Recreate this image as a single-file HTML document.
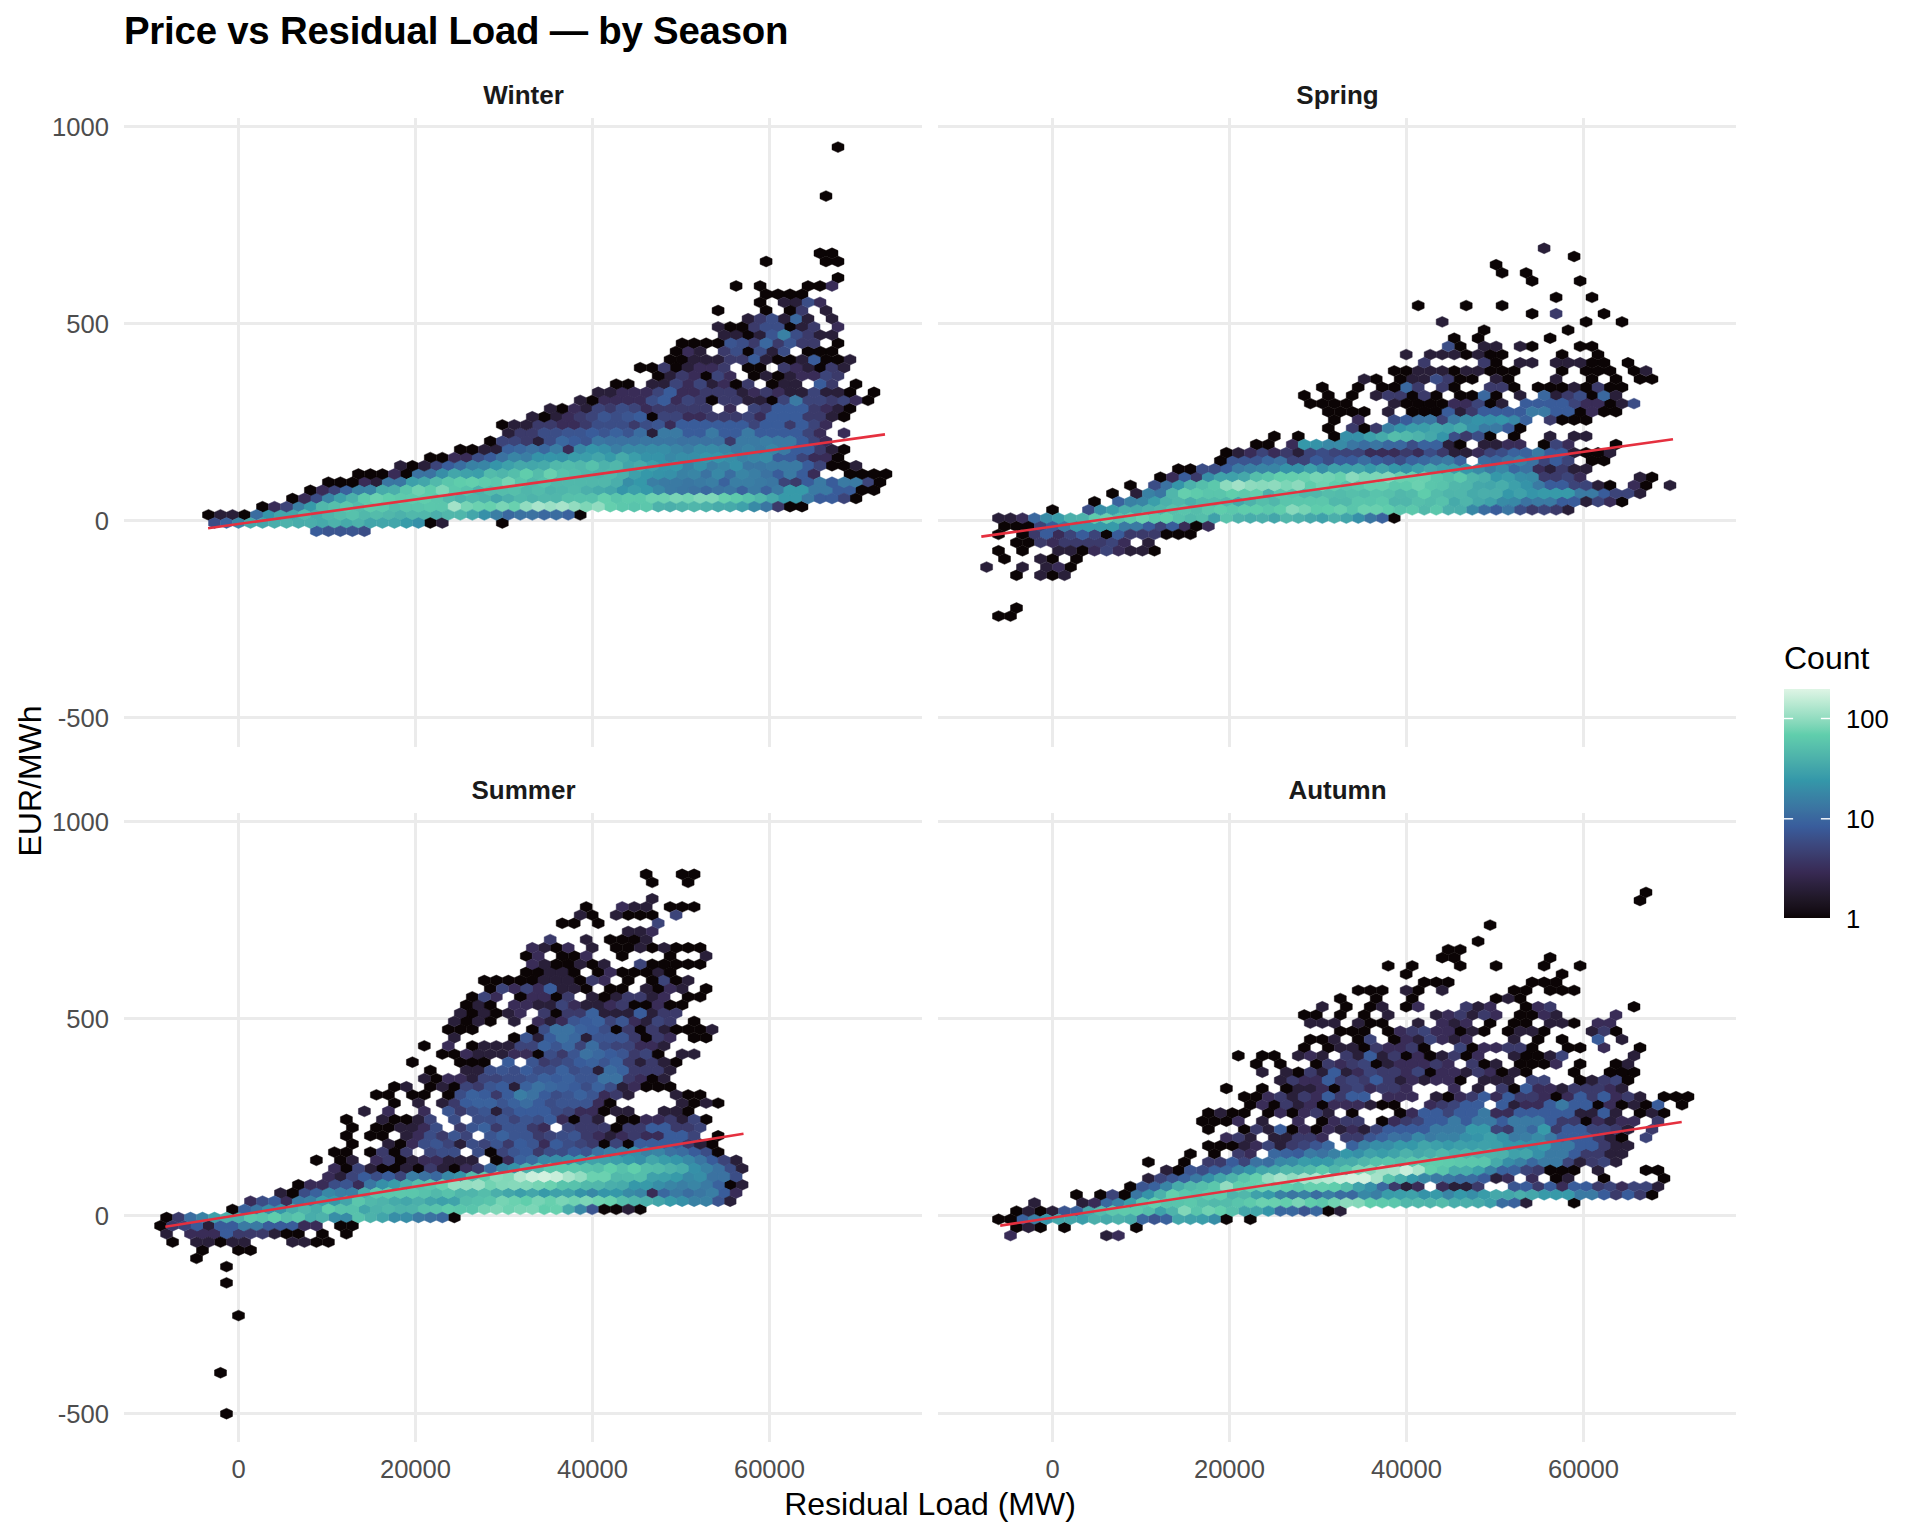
<!DOCTYPE html>
<html><head><meta charset="utf-8"><title>Price vs Residual Load</title>
<style>html,body{margin:0;padding:0;background:#fff}svg{display:block}text{font-family:"Liberation Sans",sans-serif}</style></head><body>
<svg width="1920" height="1536" viewBox="0 0 1920 1536">
<defs><path id="h" d="M0 -5.45L6.00 -2.72V2.72L0 5.45L-6.00 2.72V-2.72Z"/></defs><rect x="0" y="0" width="1920" height="1536" fill="#FFFFFF"/>
<text x="124" y="44" font-size="38.4" font-weight="bold" fill="#000000" textLength="664.5" lengthAdjust="spacing">Price vs Residual Load — by Season</text>
<g>
<rect x="124" y="125.0" width="798" height="3" fill="#EBEBEB"/>
<rect x="124" y="322.0" width="798" height="3" fill="#EBEBEB"/>
<rect x="124" y="519.0" width="798" height="3" fill="#EBEBEB"/>
<rect x="124" y="716.0" width="798" height="3" fill="#EBEBEB"/>
<rect x="237.0" y="118" width="3" height="629" fill="#EBEBEB"/>
<rect x="414.0" y="118" width="3" height="629" fill="#EBEBEB"/>
<rect x="591.0" y="118" width="3" height="629" fill="#EBEBEB"/>
<rect x="768.0" y="118" width="3" height="629" fill="#EBEBEB"/>
<text x="523.5" y="104" font-size="26" font-weight="bold" fill="#1A1A1A" text-anchor="middle">Winter</text>
<g stroke-linejoin="round"><g stroke-width="1.00"><g fill="#0B0405" stroke="#0B0405"><use href="#h" x="790.0" y="326.9"/><use href="#h" x="748.1" y="335.0"/><use href="#h" x="748.1" y="351.4"/><use href="#h" x="682.1" y="359.6"/><use href="#h" x="826.0" y="359.6"/><use href="#h" x="676.1" y="367.7"/><use href="#h" x="820.0" y="367.7"/><use href="#h" x="706.1" y="375.9"/><use href="#h" x="772.1" y="400.4"/><use href="#h" x="652.2" y="416.8"/><use href="#h" x="406.4" y="474.0"/></g><g fill="#291F39" stroke="#291F39"><use href="#h" x="796.0" y="302.4"/><use href="#h" x="802.0" y="326.9"/><use href="#h" x="736.1" y="335.0"/><use href="#h" x="760.1" y="335.0"/><use href="#h" x="772.1" y="351.4"/><use href="#h" x="694.1" y="359.6"/><use href="#h" x="688.1" y="367.7"/><use href="#h" x="808.0" y="367.7"/><use href="#h" x="670.1" y="375.9"/><use href="#h" x="790.0" y="375.9"/><use href="#h" x="664.1" y="384.1"/><use href="#h" x="712.1" y="384.1"/><use href="#h" x="784.0" y="384.1"/><use href="#h" x="742.1" y="392.3"/><use href="#h" x="790.0" y="392.3"/><use href="#h" x="826.0" y="392.3"/><use href="#h" x="760.1" y="400.4"/><use href="#h" x="586.2" y="408.6"/><use href="#h" x="838.0" y="408.6"/><use href="#h" x="556.2" y="416.8"/><use href="#h" x="652.2" y="433.1"/><use href="#h" x="538.2" y="441.3"/><use href="#h" x="496.3" y="449.5"/><use href="#h" x="376.4" y="482.2"/></g><g fill="#392C57" stroke="#392C57"><use href="#h" x="688.1" y="351.4"/><use href="#h" x="700.1" y="367.7"/><use href="#h" x="712.1" y="367.7"/><use href="#h" x="796.0" y="367.7"/><use href="#h" x="694.1" y="375.9"/><use href="#h" x="688.1" y="384.1"/><use href="#h" x="724.1" y="384.1"/><use href="#h" x="622.2" y="392.3"/><use href="#h" x="682.1" y="392.3"/><use href="#h" x="694.1" y="392.3"/><use href="#h" x="778.0" y="392.3"/><use href="#h" x="604.2" y="400.4"/><use href="#h" x="616.2" y="400.4"/><use href="#h" x="628.2" y="400.4"/><use href="#h" x="640.2" y="400.4"/><use href="#h" x="676.1" y="400.4"/><use href="#h" x="646.2" y="408.6"/><use href="#h" x="826.0" y="408.6"/><use href="#h" x="568.2" y="416.8"/><use href="#h" x="688.1" y="416.8"/><use href="#h" x="700.1" y="416.8"/><use href="#h" x="760.1" y="416.8"/><use href="#h" x="562.2" y="424.9"/><use href="#h" x="574.2" y="424.9"/><use href="#h" x="670.1" y="424.9"/><use href="#h" x="568.2" y="449.5"/><use href="#h" x="466.3" y="457.6"/><use href="#h" x="814.0" y="457.6"/><use href="#h" x="826.0" y="457.6"/><use href="#h" x="364.4" y="482.2"/></g><g fill="#3B3A6A" stroke="#3B3A6A"><use href="#h" x="754.1" y="326.9"/><use href="#h" x="808.0" y="335.0"/><use href="#h" x="754.1" y="343.2"/><use href="#h" x="778.0" y="343.2"/><use href="#h" x="832.0" y="367.7"/><use href="#h" x="682.1" y="375.9"/><use href="#h" x="706.1" y="392.3"/><use href="#h" x="718.1" y="392.3"/><use href="#h" x="730.1" y="392.3"/><use href="#h" x="700.1" y="400.4"/><use href="#h" x="832.0" y="400.4"/><use href="#h" x="610.2" y="408.6"/><use href="#h" x="658.2" y="408.6"/><use href="#h" x="670.1" y="408.6"/><use href="#h" x="682.1" y="408.6"/><use href="#h" x="694.1" y="408.6"/><use href="#h" x="766.1" y="408.6"/><use href="#h" x="814.0" y="408.6"/><use href="#h" x="580.2" y="416.8"/><use href="#h" x="808.0" y="416.8"/><use href="#h" x="820.0" y="416.8"/><use href="#h" x="538.2" y="424.9"/><use href="#h" x="550.2" y="424.9"/><use href="#h" x="586.2" y="424.9"/><use href="#h" x="634.2" y="424.9"/><use href="#h" x="790.0" y="424.9"/><use href="#h" x="520.3" y="433.1"/><use href="#h" x="532.3" y="433.1"/><use href="#h" x="526.3" y="441.3"/><use href="#h" x="730.1" y="441.3"/><use href="#h" x="820.0" y="449.5"/><use href="#h" x="796.0" y="482.2"/></g><g fill="#3C4479" stroke="#3C4479"><use href="#h" x="718.1" y="375.9"/><use href="#h" x="826.0" y="375.9"/><use href="#h" x="676.1" y="384.1"/><use href="#h" x="700.1" y="384.1"/><use href="#h" x="658.2" y="392.3"/><use href="#h" x="688.1" y="400.4"/><use href="#h" x="784.0" y="400.4"/><use href="#h" x="808.0" y="400.4"/><use href="#h" x="820.0" y="400.4"/><use href="#h" x="844.0" y="400.4"/><use href="#h" x="598.2" y="408.6"/><use href="#h" x="634.2" y="408.6"/><use href="#h" x="592.2" y="416.8"/><use href="#h" x="664.1" y="416.8"/><use href="#h" x="676.1" y="416.8"/><use href="#h" x="754.1" y="424.9"/><use href="#h" x="814.0" y="424.9"/><use href="#h" x="808.0" y="433.1"/><use href="#h" x="514.3" y="441.3"/><use href="#h" x="814.0" y="441.3"/><use href="#h" x="802.0" y="457.6"/><use href="#h" x="436.3" y="465.8"/><use href="#h" x="784.0" y="482.2"/><use href="#h" x="868.0" y="482.2"/><use href="#h" x="334.4" y="490.3"/></g><g fill="#3B4D86" stroke="#3B4D86"><use href="#h" x="766.1" y="326.9"/><use href="#h" x="778.0" y="326.9"/><use href="#h" x="796.0" y="335.0"/><use href="#h" x="742.1" y="343.2"/><use href="#h" x="736.1" y="351.4"/><use href="#h" x="760.1" y="351.4"/><use href="#h" x="652.2" y="400.4"/><use href="#h" x="622.2" y="408.6"/><use href="#h" x="616.2" y="416.8"/><use href="#h" x="598.2" y="424.9"/><use href="#h" x="610.2" y="424.9"/><use href="#h" x="622.2" y="424.9"/><use href="#h" x="646.2" y="424.9"/><use href="#h" x="544.2" y="433.1"/><use href="#h" x="556.2" y="433.1"/><use href="#h" x="550.2" y="441.3"/><use href="#h" x="478.3" y="457.6"/><use href="#h" x="316.4" y="498.5"/></g><g fill="#3B5590" stroke="#3B5590"><use href="#h" x="772.1" y="335.0"/><use href="#h" x="730.1" y="343.2"/><use href="#h" x="604.2" y="416.8"/><use href="#h" x="628.2" y="416.8"/><use href="#h" x="658.2" y="424.9"/><use href="#h" x="568.2" y="433.1"/><use href="#h" x="580.2" y="433.1"/><use href="#h" x="604.2" y="433.1"/><use href="#h" x="628.2" y="433.1"/><use href="#h" x="586.2" y="441.3"/></g><g fill="#395C9A" stroke="#395C9A"><use href="#h" x="754.1" y="359.6"/><use href="#h" x="814.0" y="359.6"/><use href="#h" x="670.1" y="392.3"/><use href="#h" x="664.1" y="400.4"/><use href="#h" x="778.0" y="408.6"/><use href="#h" x="790.0" y="408.6"/><use href="#h" x="802.0" y="408.6"/><use href="#h" x="640.2" y="416.8"/><use href="#h" x="772.1" y="416.8"/><use href="#h" x="784.0" y="416.8"/><use href="#h" x="796.0" y="416.8"/><use href="#h" x="682.1" y="424.9"/><use href="#h" x="694.1" y="424.9"/><use href="#h" x="706.1" y="424.9"/><use href="#h" x="718.1" y="424.9"/><use href="#h" x="730.1" y="424.9"/><use href="#h" x="742.1" y="424.9"/><use href="#h" x="766.1" y="424.9"/><use href="#h" x="778.0" y="424.9"/><use href="#h" x="802.0" y="424.9"/><use href="#h" x="592.2" y="433.1"/><use href="#h" x="688.1" y="433.1"/><use href="#h" x="700.1" y="433.1"/><use href="#h" x="724.1" y="433.1"/><use href="#h" x="736.1" y="433.1"/><use href="#h" x="760.1" y="433.1"/><use href="#h" x="772.1" y="433.1"/><use href="#h" x="784.0" y="433.1"/><use href="#h" x="796.0" y="433.1"/><use href="#h" x="574.2" y="441.3"/><use href="#h" x="802.0" y="441.3"/><use href="#h" x="796.0" y="449.5"/><use href="#h" x="808.0" y="449.5"/><use href="#h" x="490.3" y="457.6"/><use href="#h" x="778.0" y="457.6"/><use href="#h" x="790.0" y="457.6"/><use href="#h" x="448.3" y="465.8"/><use href="#h" x="808.0" y="465.8"/><use href="#h" x="778.0" y="474.0"/><use href="#h" x="802.0" y="474.0"/><use href="#h" x="808.0" y="482.2"/><use href="#h" x="838.0" y="490.3"/><use href="#h" x="850.0" y="490.3"/></g><g fill="#3A629D" stroke="#3A629D"><use href="#h" x="616.2" y="433.1"/><use href="#h" x="508.3" y="449.5"/><use href="#h" x="724.1" y="482.2"/><use href="#h" x="346.4" y="490.3"/><use href="#h" x="742.1" y="490.3"/><use href="#h" x="766.1" y="490.3"/></g><g fill="#3A689F" stroke="#3A689F"><use href="#h" x="796.0" y="318.7"/><use href="#h" x="766.1" y="343.2"/><use href="#h" x="562.2" y="441.3"/><use href="#h" x="520.3" y="449.5"/><use href="#h" x="544.2" y="449.5"/><use href="#h" x="706.1" y="490.3"/></g><g fill="#3A6DA0" stroke="#3A6DA0"><use href="#h" x="640.2" y="433.1"/><use href="#h" x="460.3" y="465.8"/><use href="#h" x="730.1" y="474.0"/></g><g fill="#3B72A1" stroke="#3B72A1"><use href="#h" x="610.2" y="441.3"/><use href="#h" x="622.2" y="441.3"/><use href="#h" x="634.2" y="441.3"/><use href="#h" x="682.1" y="441.3"/><use href="#h" x="694.1" y="441.3"/><use href="#h" x="706.1" y="441.3"/><use href="#h" x="718.1" y="441.3"/><use href="#h" x="532.3" y="449.5"/><use href="#h" x="502.3" y="457.6"/><use href="#h" x="418.4" y="474.0"/><use href="#h" x="430.3" y="474.0"/><use href="#h" x="706.1" y="474.0"/><use href="#h" x="766.1" y="474.0"/><use href="#h" x="694.1" y="490.3"/><use href="#h" x="718.1" y="490.3"/></g><g fill="#3A76A2" stroke="#3A76A2"><use href="#h" x="598.2" y="441.3"/><use href="#h" x="646.2" y="441.3"/><use href="#h" x="658.2" y="441.3"/><use href="#h" x="670.1" y="441.3"/><use href="#h" x="748.1" y="465.8"/><use href="#h" x="760.1" y="465.8"/><use href="#h" x="388.4" y="482.2"/><use href="#h" x="400.4" y="482.2"/><use href="#h" x="688.1" y="482.2"/><use href="#h" x="772.1" y="482.2"/><use href="#h" x="682.1" y="490.3"/><use href="#h" x="730.1" y="490.3"/></g><g fill="#3A7AA3" stroke="#3A7AA3"><use href="#h" x="796.0" y="400.4"/><use href="#h" x="664.1" y="433.1"/><use href="#h" x="676.1" y="433.1"/><use href="#h" x="712.1" y="433.1"/><use href="#h" x="748.1" y="433.1"/><use href="#h" x="742.1" y="441.3"/><use href="#h" x="754.1" y="441.3"/><use href="#h" x="778.0" y="441.3"/><use href="#h" x="790.0" y="441.3"/><use href="#h" x="736.1" y="449.5"/><use href="#h" x="760.1" y="449.5"/><use href="#h" x="784.0" y="449.5"/><use href="#h" x="772.1" y="465.8"/><use href="#h" x="784.0" y="465.8"/><use href="#h" x="796.0" y="465.8"/><use href="#h" x="790.0" y="474.0"/><use href="#h" x="664.1" y="482.2"/><use href="#h" x="676.1" y="482.2"/><use href="#h" x="700.1" y="482.2"/><use href="#h" x="760.1" y="482.2"/><use href="#h" x="856.0" y="482.2"/><use href="#h" x="670.1" y="490.3"/><use href="#h" x="754.1" y="490.3"/><use href="#h" x="778.0" y="490.3"/><use href="#h" x="814.0" y="490.3"/><use href="#h" x="826.0" y="490.3"/></g><g fill="#3A7EA4" stroke="#3A7EA4"><use href="#h" x="766.1" y="441.3"/><use href="#h" x="556.2" y="449.5"/><use href="#h" x="616.2" y="449.5"/><use href="#h" x="688.1" y="449.5"/><use href="#h" x="526.3" y="457.6"/><use href="#h" x="712.1" y="465.8"/><use href="#h" x="754.1" y="474.0"/><use href="#h" x="652.2" y="482.2"/><use href="#h" x="712.1" y="482.2"/><use href="#h" x="736.1" y="482.2"/><use href="#h" x="748.1" y="482.2"/><use href="#h" x="298.4" y="506.7"/></g><g fill="#3981A4" stroke="#3981A4"><use href="#h" x="784.0" y="335.0"/><use href="#h" x="748.1" y="449.5"/><use href="#h" x="742.1" y="457.6"/><use href="#h" x="472.3" y="465.8"/><use href="#h" x="688.1" y="465.8"/><use href="#h" x="682.1" y="474.0"/><use href="#h" x="358.4" y="490.3"/></g><g fill="#3985A5" stroke="#3985A5"><use href="#h" x="676.1" y="449.5"/><use href="#h" x="724.1" y="449.5"/><use href="#h" x="772.1" y="449.5"/><use href="#h" x="514.3" y="457.6"/><use href="#h" x="754.1" y="457.6"/><use href="#h" x="484.3" y="465.8"/><use href="#h" x="724.1" y="465.8"/><use href="#h" x="694.1" y="474.0"/><use href="#h" x="742.1" y="474.0"/><use href="#h" x="370.4" y="490.3"/><use href="#h" x="328.4" y="498.5"/></g><g fill="#3888A6" stroke="#3888A6"><use href="#h" x="580.2" y="449.5"/><use href="#h" x="670.1" y="457.6"/><use href="#h" x="718.1" y="474.0"/><use href="#h" x="658.2" y="490.3"/></g><g fill="#388BA6" stroke="#388BA6"><use href="#h" x="628.2" y="449.5"/><use href="#h" x="640.2" y="449.5"/><use href="#h" x="700.1" y="449.5"/><use href="#h" x="712.1" y="449.5"/><use href="#h" x="766.1" y="457.6"/></g><g fill="#378EA7" stroke="#378EA7"><use href="#h" x="652.2" y="449.5"/><use href="#h" x="664.1" y="449.5"/><use href="#h" x="682.1" y="457.6"/><use href="#h" x="694.1" y="457.6"/><use href="#h" x="730.1" y="457.6"/><use href="#h" x="442.3" y="474.0"/><use href="#h" x="628.2" y="482.2"/></g><g fill="#3690A8" stroke="#3690A8"><use href="#h" x="604.2" y="449.5"/><use href="#h" x="700.1" y="465.8"/><use href="#h" x="736.1" y="465.8"/><use href="#h" x="670.1" y="474.0"/></g><g fill="#3593A8" stroke="#3593A8"><use href="#h" x="538.2" y="457.6"/><use href="#h" x="562.2" y="457.6"/><use href="#h" x="646.2" y="457.6"/><use href="#h" x="658.2" y="457.6"/><use href="#h" x="658.2" y="474.0"/></g><g fill="#3595A9" stroke="#3595A9"><use href="#h" x="592.2" y="449.5"/><use href="#h" x="550.2" y="457.6"/><use href="#h" x="706.1" y="457.6"/><use href="#h" x="718.1" y="457.6"/><use href="#h" x="496.3" y="465.8"/><use href="#h" x="664.1" y="465.8"/><use href="#h" x="622.2" y="490.3"/><use href="#h" x="268.5" y="514.9"/></g><g fill="#3598A9" stroke="#3598A9"><use href="#h" x="676.1" y="465.8"/><use href="#h" x="646.2" y="474.0"/><use href="#h" x="640.2" y="482.2"/><use href="#h" x="646.2" y="490.3"/></g><g fill="#379AA9" stroke="#379AA9"><use href="#h" x="610.2" y="457.6"/><use href="#h" x="790.0" y="490.3"/><use href="#h" x="802.0" y="490.3"/><use href="#h" x="784.0" y="498.5"/><use href="#h" x="796.0" y="498.5"/><use href="#h" x="310.4" y="506.7"/></g><g fill="#399CA9" stroke="#399CA9"><use href="#h" x="574.2" y="457.6"/></g><g fill="#3B9EAA" stroke="#3B9EAA"><use href="#h" x="586.2" y="457.6"/><use href="#h" x="634.2" y="457.6"/><use href="#h" x="478.3" y="474.0"/><use href="#h" x="634.2" y="490.3"/></g><g fill="#3DA0AA" stroke="#3DA0AA"><use href="#h" x="508.3" y="465.8"/><use href="#h" x="652.2" y="465.8"/><use href="#h" x="634.2" y="474.0"/><use href="#h" x="412.4" y="482.2"/><use href="#h" x="340.4" y="498.5"/></g><g fill="#3FA1AA" stroke="#3FA1AA"><use href="#h" x="466.3" y="474.0"/></g><g fill="#42A5AA" stroke="#42A5AA"><use href="#h" x="598.2" y="457.6"/><use href="#h" x="628.2" y="465.8"/><use href="#h" x="280.5" y="514.9"/></g><g fill="#43A6AA" stroke="#43A6AA"><use href="#h" x="532.3" y="465.8"/><use href="#h" x="454.3" y="474.0"/><use href="#h" x="424.3" y="482.2"/><use href="#h" x="610.2" y="490.3"/><use href="#h" x="496.3" y="498.5"/><use href="#h" x="292.5" y="514.9"/></g><g fill="#45A8AA" stroke="#45A8AA"><use href="#h" x="520.3" y="465.8"/><use href="#h" x="772.1" y="498.5"/></g><g fill="#46AAAA" stroke="#46AAAA"><use href="#h" x="622.2" y="457.6"/><use href="#h" x="544.2" y="465.8"/><use href="#h" x="598.2" y="490.3"/><use href="#h" x="322.4" y="523.0"/><use href="#h" x="346.4" y="523.0"/></g><g fill="#47ABAA" stroke="#47ABAA"><use href="#h" x="640.2" y="465.8"/><use href="#h" x="382.4" y="490.3"/><use href="#h" x="316.4" y="514.9"/></g><g fill="#4AAEAB" stroke="#4AAEAB"><use href="#h" x="616.2" y="482.2"/><use href="#h" x="394.4" y="490.3"/></g><g fill="#4BAFAB" stroke="#4BAFAB"><use href="#h" x="622.2" y="474.0"/><use href="#h" x="586.2" y="490.3"/><use href="#h" x="508.3" y="498.5"/><use href="#h" x="436.3" y="514.9"/></g><g fill="#4CB1AB" stroke="#4CB1AB"><use href="#h" x="478.3" y="490.3"/><use href="#h" x="352.4" y="498.5"/><use href="#h" x="400.4" y="514.9"/></g><g fill="#4DB2AB" stroke="#4DB2AB"><use href="#h" x="604.2" y="465.8"/><use href="#h" x="550.2" y="490.3"/><use href="#h" x="460.3" y="498.5"/><use href="#h" x="334.4" y="523.0"/><use href="#h" x="358.4" y="523.0"/></g><g fill="#4EB3AB" stroke="#4EB3AB"><use href="#h" x="598.2" y="474.0"/><use href="#h" x="484.3" y="498.5"/><use href="#h" x="532.3" y="498.5"/></g><g fill="#4FB5AB" stroke="#4FB5AB"><use href="#h" x="502.3" y="474.0"/><use href="#h" x="562.2" y="490.3"/><use href="#h" x="328.4" y="514.9"/></g><g fill="#50B6AB" stroke="#50B6AB"><use href="#h" x="526.3" y="490.3"/><use href="#h" x="556.2" y="498.5"/><use href="#h" x="760.1" y="498.5"/></g><g fill="#51B7AB" stroke="#51B7AB"><use href="#h" x="580.2" y="465.8"/><use href="#h" x="616.2" y="465.8"/><use href="#h" x="586.2" y="474.0"/><use href="#h" x="556.2" y="482.2"/><use href="#h" x="592.2" y="482.2"/><use href="#h" x="604.2" y="482.2"/><use href="#h" x="472.3" y="498.5"/><use href="#h" x="544.2" y="498.5"/><use href="#h" x="388.4" y="514.9"/><use href="#h" x="424.3" y="514.9"/></g><g fill="#51B8AB" stroke="#51B8AB"><use href="#h" x="556.2" y="465.8"/><use href="#h" x="610.2" y="474.0"/><use href="#h" x="532.3" y="482.2"/><use href="#h" x="568.2" y="482.2"/><use href="#h" x="580.2" y="482.2"/><use href="#h" x="520.3" y="498.5"/><use href="#h" x="322.4" y="506.7"/><use href="#h" x="364.4" y="514.9"/><use href="#h" x="412.4" y="514.9"/></g><g fill="#52B9AB" stroke="#52B9AB"><use href="#h" x="436.3" y="482.2"/><use href="#h" x="574.2" y="490.3"/><use href="#h" x="448.3" y="498.5"/><use href="#h" x="304.4" y="514.9"/></g><g fill="#53BBAB" stroke="#53BBAB"><use href="#h" x="568.2" y="465.8"/><use href="#h" x="490.3" y="474.0"/><use href="#h" x="538.2" y="490.3"/><use href="#h" x="358.4" y="506.7"/></g><g fill="#54BCAB" stroke="#54BCAB"><use href="#h" x="538.2" y="474.0"/><use href="#h" x="490.3" y="490.3"/><use href="#h" x="394.4" y="506.7"/><use href="#h" x="340.4" y="514.9"/><use href="#h" x="376.4" y="514.9"/></g><g fill="#55BDAB" stroke="#55BDAB"><use href="#h" x="574.2" y="474.0"/><use href="#h" x="502.3" y="490.3"/></g><g fill="#55BEAB" stroke="#55BEAB"><use href="#h" x="514.3" y="474.0"/></g><g fill="#56BFAB" stroke="#56BFAB"><use href="#h" x="514.3" y="490.3"/><use href="#h" x="334.4" y="506.7"/></g><g fill="#57C0AB" stroke="#57C0AB"><use href="#h" x="568.2" y="498.5"/></g><g fill="#57C1AC" stroke="#57C1AC"><use href="#h" x="592.2" y="465.8"/><use href="#h" x="562.2" y="474.0"/><use href="#h" x="544.2" y="482.2"/><use href="#h" x="580.2" y="498.5"/><use href="#h" x="592.2" y="498.5"/><use href="#h" x="748.1" y="498.5"/><use href="#h" x="352.4" y="514.9"/></g><g fill="#58C2AC" stroke="#58C2AC"><use href="#h" x="466.3" y="490.3"/></g><g fill="#59C3AC" stroke="#59C3AC"><use href="#h" x="406.4" y="506.7"/></g><g fill="#59C4AC" stroke="#59C4AC"><use href="#h" x="418.4" y="506.7"/></g><g fill="#5AC5AC" stroke="#5AC5AC"><use href="#h" x="520.3" y="482.2"/><use href="#h" x="406.4" y="490.3"/><use href="#h" x="616.2" y="498.5"/></g><g fill="#5BC6AC" stroke="#5BC6AC"><use href="#h" x="448.3" y="482.2"/><use href="#h" x="436.3" y="498.5"/><use href="#h" x="442.3" y="506.7"/></g><g fill="#5BC7AC" stroke="#5BC7AC"><use href="#h" x="346.4" y="506.7"/><use href="#h" x="430.3" y="506.7"/></g><g fill="#5CC7AC" stroke="#5CC7AC"><use href="#h" x="496.3" y="482.2"/></g><g fill="#5CC8AC" stroke="#5CC8AC"><use href="#h" x="454.3" y="490.3"/><use href="#h" x="382.4" y="506.7"/></g><g fill="#5DC9AC" stroke="#5DC9AC"><use href="#h" x="364.4" y="498.5"/><use href="#h" x="640.2" y="498.5"/></g><g fill="#5ECAAC" stroke="#5ECAAC"><use href="#h" x="400.4" y="498.5"/><use href="#h" x="628.2" y="498.5"/><use href="#h" x="736.1" y="498.5"/><use href="#h" x="370.4" y="506.7"/></g><g fill="#5ECBAC" stroke="#5ECBAC"><use href="#h" x="484.3" y="482.2"/><use href="#h" x="412.4" y="498.5"/></g><g fill="#5FCCAC" stroke="#5FCCAC"><use href="#h" x="430.3" y="490.3"/></g><g fill="#5FCDAC" stroke="#5FCDAC"><use href="#h" x="460.3" y="482.2"/><use href="#h" x="424.3" y="498.5"/></g><g fill="#60CDAC" stroke="#60CDAC"><use href="#h" x="526.3" y="474.0"/></g><g fill="#60CEAC" stroke="#60CEAC"><use href="#h" x="388.4" y="498.5"/></g><g fill="#63CFAD" stroke="#63CFAD"><use href="#h" x="472.3" y="482.2"/></g><g fill="#65CFAE" stroke="#65CFAE"><use href="#h" x="604.2" y="498.5"/></g><g fill="#67D0AE" stroke="#67D0AE"><use href="#h" x="724.1" y="498.5"/><use href="#h" x="490.3" y="506.7"/></g><g fill="#69D0AF" stroke="#69D0AF"><use href="#h" x="550.2" y="474.0"/><use href="#h" x="514.3" y="506.7"/></g><g fill="#6BD1B0" stroke="#6BD1B0"><use href="#h" x="376.4" y="498.5"/><use href="#h" x="478.3" y="506.7"/></g><g fill="#6DD1B1" stroke="#6DD1B1"><use href="#h" x="652.2" y="498.5"/><use href="#h" x="664.1" y="498.5"/></g><g fill="#6ED2B1" stroke="#6ED2B1"><use href="#h" x="418.4" y="490.3"/></g><g fill="#72D3B3" stroke="#72D3B3"><use href="#h" x="688.1" y="498.5"/></g><g fill="#76D4B4" stroke="#76D4B4"><use href="#h" x="508.3" y="482.2"/></g><g fill="#77D4B5" stroke="#77D4B5"><use href="#h" x="466.3" y="506.7"/></g><g fill="#7AD5B6" stroke="#7AD5B6"><use href="#h" x="676.1" y="498.5"/><use href="#h" x="502.3" y="506.7"/></g><g fill="#7FD7B8" stroke="#7FD7B8"><use href="#h" x="442.3" y="490.3"/><use href="#h" x="712.1" y="498.5"/></g><g fill="#81D7B9" stroke="#81D7B9"><use href="#h" x="700.1" y="498.5"/></g><g fill="#91DCC0" stroke="#91DCC0"><use href="#h" x="526.3" y="506.7"/></g><g fill="#92DCC0" stroke="#92DCC0"><use href="#h" x="574.2" y="506.7"/></g><g fill="#9CE0C5" stroke="#9CE0C5"><use href="#h" x="550.2" y="506.7"/></g><g fill="#A3E2C8" stroke="#A3E2C8"><use href="#h" x="454.3" y="506.7"/></g><g fill="#A8E3CA" stroke="#A8E3CA"><use href="#h" x="562.2" y="506.7"/></g><g fill="#A9E4CB" stroke="#A9E4CB"><use href="#h" x="538.2" y="506.7"/></g></g><g stroke-width="0.45"><g fill="#0B0405" stroke="#0B0405"><use href="#h" x="838.0" y="147.1"/><use href="#h" x="826.0" y="196.1"/><use href="#h" x="820.0" y="253.3"/><use href="#h" x="832.0" y="253.3"/><use href="#h" x="766.1" y="261.5"/><use href="#h" x="826.0" y="261.5"/><use href="#h" x="838.0" y="261.5"/><use href="#h" x="838.0" y="277.8"/><use href="#h" x="736.1" y="286.0"/><use href="#h" x="760.1" y="286.0"/><use href="#h" x="808.0" y="286.0"/><use href="#h" x="820.0" y="286.0"/><use href="#h" x="766.1" y="294.2"/><use href="#h" x="778.0" y="294.2"/><use href="#h" x="790.0" y="294.2"/><use href="#h" x="802.0" y="294.2"/><use href="#h" x="760.1" y="302.4"/><use href="#h" x="718.1" y="310.5"/><use href="#h" x="766.1" y="310.5"/><use href="#h" x="790.0" y="310.5"/><use href="#h" x="730.1" y="326.9"/><use href="#h" x="742.1" y="326.9"/><use href="#h" x="682.1" y="343.2"/><use href="#h" x="694.1" y="343.2"/><use href="#h" x="706.1" y="343.2"/><use href="#h" x="718.1" y="343.2"/><use href="#h" x="838.0" y="343.2"/><use href="#h" x="676.1" y="351.4"/><use href="#h" x="808.0" y="351.4"/><use href="#h" x="820.0" y="351.4"/><use href="#h" x="832.0" y="351.4"/><use href="#h" x="670.1" y="359.6"/><use href="#h" x="778.0" y="359.6"/><use href="#h" x="790.0" y="359.6"/><use href="#h" x="838.0" y="359.6"/><use href="#h" x="640.2" y="367.7"/><use href="#h" x="652.2" y="367.7"/><use href="#h" x="748.1" y="367.7"/><use href="#h" x="760.1" y="367.7"/><use href="#h" x="658.2" y="375.9"/><use href="#h" x="754.1" y="375.9"/><use href="#h" x="778.0" y="375.9"/><use href="#h" x="616.2" y="384.1"/><use href="#h" x="628.2" y="384.1"/><use href="#h" x="736.1" y="384.1"/><use href="#h" x="772.1" y="384.1"/><use href="#h" x="856.0" y="384.1"/><use href="#h" x="850.0" y="392.3"/><use href="#h" x="874.0" y="392.3"/><use href="#h" x="592.2" y="400.4"/><use href="#h" x="712.1" y="400.4"/><use href="#h" x="868.0" y="400.4"/><use href="#h" x="562.2" y="408.6"/><use href="#h" x="850.0" y="408.6"/><use href="#h" x="544.2" y="416.8"/><use href="#h" x="844.0" y="416.8"/><use href="#h" x="502.3" y="424.9"/><use href="#h" x="490.3" y="441.3"/><use href="#h" x="460.3" y="449.5"/><use href="#h" x="472.3" y="449.5"/><use href="#h" x="844.0" y="449.5"/><use href="#h" x="430.3" y="457.6"/><use href="#h" x="442.3" y="457.6"/><use href="#h" x="838.0" y="457.6"/><use href="#h" x="412.4" y="465.8"/><use href="#h" x="832.0" y="465.8"/><use href="#h" x="844.0" y="465.8"/><use href="#h" x="358.4" y="474.0"/><use href="#h" x="370.4" y="474.0"/><use href="#h" x="382.4" y="474.0"/><use href="#h" x="850.0" y="474.0"/><use href="#h" x="862.0" y="474.0"/><use href="#h" x="874.0" y="474.0"/><use href="#h" x="886.0" y="474.0"/><use href="#h" x="328.4" y="482.2"/><use href="#h" x="340.4" y="482.2"/><use href="#h" x="352.4" y="482.2"/><use href="#h" x="880.0" y="482.2"/><use href="#h" x="310.4" y="490.3"/><use href="#h" x="862.0" y="490.3"/><use href="#h" x="874.0" y="490.3"/><use href="#h" x="292.5" y="498.5"/><use href="#h" x="856.0" y="498.5"/><use href="#h" x="262.5" y="506.7"/><use href="#h" x="790.0" y="506.7"/><use href="#h" x="802.0" y="506.7"/><use href="#h" x="208.5" y="514.9"/><use href="#h" x="244.5" y="514.9"/><use href="#h" x="580.2" y="514.9"/><use href="#h" x="430.3" y="523.0"/><use href="#h" x="502.3" y="523.0"/></g><g fill="#291F39" stroke="#291F39"><use href="#h" x="784.0" y="302.4"/><use href="#h" x="826.0" y="310.5"/><use href="#h" x="748.1" y="318.7"/><use href="#h" x="784.0" y="318.7"/><use href="#h" x="808.0" y="318.7"/><use href="#h" x="832.0" y="318.7"/><use href="#h" x="718.1" y="326.9"/><use href="#h" x="724.1" y="335.0"/><use href="#h" x="820.0" y="335.0"/><use href="#h" x="832.0" y="335.0"/><use href="#h" x="700.1" y="351.4"/><use href="#h" x="706.1" y="359.6"/><use href="#h" x="718.1" y="359.6"/><use href="#h" x="766.1" y="359.6"/><use href="#h" x="802.0" y="359.6"/><use href="#h" x="850.0" y="359.6"/><use href="#h" x="844.0" y="367.7"/><use href="#h" x="766.1" y="375.9"/><use href="#h" x="652.2" y="384.1"/><use href="#h" x="796.0" y="384.1"/><use href="#h" x="598.2" y="392.3"/><use href="#h" x="610.2" y="392.3"/><use href="#h" x="802.0" y="392.3"/><use href="#h" x="838.0" y="392.3"/><use href="#h" x="580.2" y="400.4"/><use href="#h" x="748.1" y="400.4"/><use href="#h" x="550.2" y="408.6"/><use href="#h" x="532.3" y="416.8"/><use href="#h" x="832.0" y="416.8"/><use href="#h" x="514.3" y="424.9"/><use href="#h" x="526.3" y="424.9"/><use href="#h" x="508.3" y="433.1"/><use href="#h" x="484.3" y="449.5"/><use href="#h" x="832.0" y="449.5"/><use href="#h" x="400.4" y="465.8"/><use href="#h" x="424.3" y="465.8"/><use href="#h" x="856.0" y="465.8"/><use href="#h" x="220.5" y="514.9"/><use href="#h" x="232.5" y="514.9"/><use href="#h" x="442.3" y="523.0"/></g><g fill="#392C57" stroke="#392C57"><use href="#h" x="832.0" y="286.0"/><use href="#h" x="820.0" y="302.4"/><use href="#h" x="838.0" y="326.9"/><use href="#h" x="730.1" y="375.9"/><use href="#h" x="802.0" y="375.9"/><use href="#h" x="814.0" y="375.9"/><use href="#h" x="634.2" y="392.3"/><use href="#h" x="646.2" y="392.3"/><use href="#h" x="754.1" y="392.3"/><use href="#h" x="856.0" y="400.4"/><use href="#h" x="574.2" y="408.6"/><use href="#h" x="730.1" y="408.6"/><use href="#h" x="826.0" y="424.9"/><use href="#h" x="820.0" y="433.1"/><use href="#h" x="844.0" y="433.1"/><use href="#h" x="826.0" y="441.3"/><use href="#h" x="454.3" y="457.6"/><use href="#h" x="394.4" y="474.0"/><use href="#h" x="814.0" y="474.0"/><use href="#h" x="322.4" y="490.3"/><use href="#h" x="304.4" y="498.5"/><use href="#h" x="274.5" y="506.7"/></g><g fill="#3B3A6A" stroke="#3B3A6A"><use href="#h" x="802.0" y="310.5"/><use href="#h" x="760.1" y="318.7"/><use href="#h" x="814.0" y="326.9"/><use href="#h" x="802.0" y="343.2"/><use href="#h" x="814.0" y="343.2"/><use href="#h" x="724.1" y="351.4"/><use href="#h" x="730.1" y="359.6"/><use href="#h" x="742.1" y="359.6"/><use href="#h" x="664.1" y="367.7"/><use href="#h" x="724.1" y="367.7"/><use href="#h" x="784.0" y="367.7"/><use href="#h" x="838.0" y="375.9"/><use href="#h" x="748.1" y="384.1"/><use href="#h" x="832.0" y="384.1"/><use href="#h" x="766.1" y="392.3"/><use href="#h" x="724.1" y="400.4"/><use href="#h" x="736.1" y="400.4"/><use href="#h" x="706.1" y="408.6"/><use href="#h" x="712.1" y="416.8"/><use href="#h" x="724.1" y="416.8"/><use href="#h" x="736.1" y="416.8"/><use href="#h" x="778.0" y="506.7"/></g><g fill="#3C4479" stroke="#3C4479"><use href="#h" x="814.0" y="392.3"/><use href="#h" x="754.1" y="408.6"/><use href="#h" x="748.1" y="416.8"/><use href="#h" x="502.3" y="441.3"/><use href="#h" x="820.0" y="465.8"/><use href="#h" x="844.0" y="498.5"/><use href="#h" x="286.5" y="506.7"/></g><g fill="#3B4D86" stroke="#3B4D86"><use href="#h" x="808.0" y="302.4"/><use href="#h" x="772.1" y="318.7"/><use href="#h" x="784.0" y="351.4"/><use href="#h" x="214.5" y="523.0"/><use href="#h" x="364.4" y="531.2"/></g><g fill="#3B5590" stroke="#3B5590"><use href="#h" x="790.0" y="343.2"/><use href="#h" x="328.4" y="531.2"/><use href="#h" x="340.4" y="531.2"/><use href="#h" x="352.4" y="531.2"/></g><g fill="#395C9A" stroke="#395C9A"><use href="#h" x="820.0" y="384.1"/><use href="#h" x="832.0" y="482.2"/><use href="#h" x="820.0" y="498.5"/><use href="#h" x="832.0" y="498.5"/><use href="#h" x="316.4" y="531.2"/></g><g fill="#3A629D" stroke="#3A629D"><use href="#h" x="568.2" y="514.9"/><use href="#h" x="226.5" y="523.0"/></g><g fill="#3A689F" stroke="#3A689F"><use href="#h" x="508.3" y="514.9"/><use href="#h" x="544.2" y="514.9"/></g><g fill="#3A6DA0" stroke="#3A6DA0"><use href="#h" x="256.5" y="514.9"/><use href="#h" x="556.2" y="514.9"/></g><g fill="#3B72A1" stroke="#3B72A1"><use href="#h" x="520.3" y="514.9"/><use href="#h" x="532.3" y="514.9"/></g><g fill="#3A76A2" stroke="#3A76A2"><use href="#h" x="766.1" y="506.7"/></g><g fill="#3A7AA3" stroke="#3A7AA3"><use href="#h" x="820.0" y="482.2"/><use href="#h" x="844.0" y="482.2"/><use href="#h" x="808.0" y="498.5"/></g><g fill="#3A7EA4" stroke="#3A7EA4"><use href="#h" x="496.3" y="514.9"/></g><g fill="#3985A5" stroke="#3985A5"><use href="#h" x="238.5" y="523.0"/></g><g fill="#388BA6" stroke="#388BA6"><use href="#h" x="754.1" y="506.7"/></g><g fill="#3690A8" stroke="#3690A8"><use href="#h" x="484.3" y="514.9"/><use href="#h" x="418.4" y="523.0"/></g><g fill="#399CA9" stroke="#399CA9"><use href="#h" x="406.4" y="523.0"/></g><g fill="#3FA1AA" stroke="#3FA1AA"><use href="#h" x="742.1" y="506.7"/></g><g fill="#42A5AA" stroke="#42A5AA"><use href="#h" x="262.5" y="523.0"/><use href="#h" x="370.4" y="523.0"/></g><g fill="#43A6AA" stroke="#43A6AA"><use href="#h" x="472.3" y="514.9"/><use href="#h" x="382.4" y="523.0"/><use href="#h" x="394.4" y="523.0"/></g><g fill="#45A8AA" stroke="#45A8AA"><use href="#h" x="250.5" y="523.0"/></g><g fill="#46AAAA" stroke="#46AAAA"><use href="#h" x="730.1" y="506.7"/></g><g fill="#47ABAA" stroke="#47ABAA"><use href="#h" x="718.1" y="506.7"/></g><g fill="#48ADAB" stroke="#48ADAB"><use href="#h" x="274.5" y="523.0"/><use href="#h" x="298.4" y="523.0"/></g><g fill="#4AAEAB" stroke="#4AAEAB"><use href="#h" x="310.4" y="523.0"/></g><g fill="#4BAFAB" stroke="#4BAFAB"><use href="#h" x="670.1" y="506.7"/></g><g fill="#4DB2AB" stroke="#4DB2AB"><use href="#h" x="658.2" y="506.7"/><use href="#h" x="706.1" y="506.7"/><use href="#h" x="286.5" y="523.0"/></g><g fill="#4EB3AB" stroke="#4EB3AB"><use href="#h" x="682.1" y="506.7"/></g><g fill="#50B6AB" stroke="#50B6AB"><use href="#h" x="694.1" y="506.7"/><use href="#h" x="460.3" y="514.9"/></g><g fill="#51B7AB" stroke="#51B7AB"><use href="#h" x="448.3" y="514.9"/></g><g fill="#59C4AC" stroke="#59C4AC"><use href="#h" x="634.2" y="506.7"/></g><g fill="#5CC7AC" stroke="#5CC7AC"><use href="#h" x="646.2" y="506.7"/></g><g fill="#5CC8AC" stroke="#5CC8AC"><use href="#h" x="622.2" y="506.7"/></g><g fill="#65CFAE" stroke="#65CFAE"><use href="#h" x="610.2" y="506.7"/></g><g fill="#7ED6B7" stroke="#7ED6B7"><use href="#h" x="586.2" y="506.7"/></g><g fill="#92DCC0" stroke="#92DCC0"><use href="#h" x="598.2" y="506.7"/></g></g><line x1="208.1" y1="528.2" x2="885.0" y2="434.4" stroke="#E5303F" stroke-width="2.6"/></g>
</g>
<g>
<rect x="938" y="125.0" width="798" height="3" fill="#EBEBEB"/>
<rect x="938" y="322.0" width="798" height="3" fill="#EBEBEB"/>
<rect x="938" y="519.0" width="798" height="3" fill="#EBEBEB"/>
<rect x="938" y="716.0" width="798" height="3" fill="#EBEBEB"/>
<rect x="1051.0" y="118" width="3" height="629" fill="#EBEBEB"/>
<rect x="1228.0" y="118" width="3" height="629" fill="#EBEBEB"/>
<rect x="1405.0" y="118" width="3" height="629" fill="#EBEBEB"/>
<rect x="1582.0" y="118" width="3" height="629" fill="#EBEBEB"/>
<text x="1337.5" y="104" font-size="26" font-weight="bold" fill="#1A1A1A" text-anchor="middle">Spring</text>
<g stroke-linejoin="round"><g stroke-width="1.00"><g fill="#0B0405" stroke="#0B0405"><use href="#h" x="1490.1" y="354.6"/><use href="#h" x="1412.2" y="395.5"/><use href="#h" x="1592.0" y="395.5"/><use href="#h" x="1418.2" y="403.6"/><use href="#h" x="1430.2" y="403.6"/><use href="#h" x="1490.1" y="403.6"/><use href="#h" x="1610.0" y="403.6"/><use href="#h" x="1424.2" y="411.8"/><use href="#h" x="1436.2" y="411.8"/><use href="#h" x="1580.1" y="411.8"/><use href="#h" x="1028.5" y="526.2"/><use href="#h" x="1106.5" y="534.4"/></g><g fill="#291F39" stroke="#291F39"><use href="#h" x="1412.2" y="379.1"/><use href="#h" x="1556.1" y="395.5"/><use href="#h" x="1460.2" y="411.8"/><use href="#h" x="1448.2" y="444.5"/><use href="#h" x="1298.3" y="452.7"/><use href="#h" x="1454.2" y="452.7"/><use href="#h" x="1550.1" y="469.0"/></g><g fill="#392C57" stroke="#392C57"><use href="#h" x="1466.2" y="403.6"/><use href="#h" x="1586.1" y="403.6"/><use href="#h" x="1598.0" y="403.6"/><use href="#h" x="1370.2" y="452.7"/><use href="#h" x="1382.2" y="452.7"/><use href="#h" x="1394.2" y="452.7"/><use href="#h" x="1418.2" y="452.7"/><use href="#h" x="1538.1" y="469.0"/><use href="#h" x="1184.4" y="526.2"/><use href="#h" x="1058.5" y="534.4"/></g><g fill="#3B3A6A" stroke="#3B3A6A"><use href="#h" x="1448.2" y="379.1"/><use href="#h" x="1400.2" y="395.5"/><use href="#h" x="1568.1" y="395.5"/><use href="#h" x="1472.2" y="411.8"/><use href="#h" x="1406.2" y="452.7"/><use href="#h" x="1442.2" y="452.7"/><use href="#h" x="1562.1" y="469.0"/><use href="#h" x="1196.4" y="477.2"/><use href="#h" x="1544.1" y="477.2"/><use href="#h" x="1556.1" y="477.2"/><use href="#h" x="1034.5" y="534.4"/><use href="#h" x="1064.5" y="542.6"/><use href="#h" x="1076.5" y="542.6"/><use href="#h" x="1088.5" y="542.6"/><use href="#h" x="1100.5" y="542.6"/></g><g fill="#3C4479" stroke="#3C4479"><use href="#h" x="1478.1" y="403.6"/><use href="#h" x="1574.1" y="403.6"/><use href="#h" x="1442.2" y="420.0"/><use href="#h" x="1262.3" y="452.7"/><use href="#h" x="1310.3" y="452.7"/><use href="#h" x="1334.3" y="452.7"/><use href="#h" x="1346.3" y="452.7"/><use href="#h" x="1358.2" y="452.7"/><use href="#h" x="1490.1" y="452.7"/><use href="#h" x="1292.3" y="460.8"/><use href="#h" x="1304.3" y="460.8"/><use href="#h" x="1544.1" y="460.8"/><use href="#h" x="1568.1" y="477.2"/><use href="#h" x="1574.1" y="485.4"/><use href="#h" x="1040.5" y="526.2"/><use href="#h" x="1160.4" y="526.2"/><use href="#h" x="1070.5" y="534.4"/><use href="#h" x="1094.5" y="534.4"/><use href="#h" x="1112.5" y="542.6"/></g><g fill="#3B4D86" stroke="#3B4D86"><use href="#h" x="1580.1" y="395.5"/><use href="#h" x="1454.2" y="436.3"/><use href="#h" x="1412.2" y="444.5"/><use href="#h" x="1322.3" y="452.7"/><use href="#h" x="1430.2" y="452.7"/><use href="#h" x="1502.1" y="452.7"/><use href="#h" x="1328.3" y="460.8"/><use href="#h" x="1400.2" y="460.8"/></g><g fill="#3B5590" stroke="#3B5590"><use href="#h" x="1232.3" y="460.8"/><use href="#h" x="1244.3" y="460.8"/><use href="#h" x="1256.3" y="460.8"/><use href="#h" x="1388.2" y="460.8"/></g><g fill="#395C9A" stroke="#395C9A"><use href="#h" x="1550.1" y="403.6"/><use href="#h" x="1562.1" y="403.6"/><use href="#h" x="1448.2" y="411.8"/><use href="#h" x="1484.1" y="411.8"/><use href="#h" x="1496.1" y="411.8"/><use href="#h" x="1556.1" y="411.8"/><use href="#h" x="1568.1" y="411.8"/><use href="#h" x="1550.1" y="452.7"/><use href="#h" x="1562.1" y="452.7"/><use href="#h" x="1316.3" y="460.8"/><use href="#h" x="1340.3" y="460.8"/><use href="#h" x="1352.2" y="460.8"/><use href="#h" x="1376.2" y="460.8"/><use href="#h" x="1556.1" y="460.8"/><use href="#h" x="1226.4" y="469.0"/><use href="#h" x="1184.4" y="477.2"/><use href="#h" x="1550.1" y="485.4"/><use href="#h" x="1562.1" y="485.4"/><use href="#h" x="1604.0" y="493.5"/><use href="#h" x="1562.1" y="501.7"/><use href="#h" x="1052.5" y="526.2"/><use href="#h" x="1148.4" y="526.2"/><use href="#h" x="1172.4" y="526.2"/><use href="#h" x="1046.5" y="534.4"/><use href="#h" x="1082.5" y="534.4"/><use href="#h" x="1118.4" y="534.4"/></g><g fill="#3A629D" stroke="#3A629D"><use href="#h" x="1424.2" y="444.5"/><use href="#h" x="1436.2" y="444.5"/><use href="#h" x="1514.1" y="452.7"/><use href="#h" x="1412.2" y="460.8"/></g><g fill="#3A689F" stroke="#3A689F"><use href="#h" x="1406.2" y="387.3"/><use href="#h" x="1604.0" y="395.5"/><use href="#h" x="1388.2" y="444.5"/><use href="#h" x="1400.2" y="444.5"/><use href="#h" x="1268.3" y="460.8"/><use href="#h" x="1424.2" y="460.8"/><use href="#h" x="1496.1" y="460.8"/><use href="#h" x="1514.1" y="469.0"/></g><g fill="#3A6DA0" stroke="#3A6DA0"><use href="#h" x="1364.2" y="444.5"/><use href="#h" x="1364.2" y="460.8"/></g><g fill="#3B72A1" stroke="#3B72A1"><use href="#h" x="1418.2" y="420.0"/><use href="#h" x="1280.3" y="460.8"/><use href="#h" x="1436.2" y="460.8"/><use href="#h" x="1532.1" y="460.8"/><use href="#h" x="1526.1" y="469.0"/><use href="#h" x="1166.4" y="485.4"/><use href="#h" x="1526.1" y="501.7"/></g><g fill="#3A76A2" stroke="#3A76A2"><use href="#h" x="1430.2" y="420.0"/><use href="#h" x="1352.2" y="444.5"/><use href="#h" x="1376.2" y="444.5"/><use href="#h" x="1508.1" y="460.8"/><use href="#h" x="1160.4" y="493.5"/></g><g fill="#3A7AA3" stroke="#3A7AA3"><use href="#h" x="1454.2" y="420.0"/><use href="#h" x="1484.1" y="428.2"/><use href="#h" x="1448.2" y="460.8"/><use href="#h" x="1238.3" y="469.0"/><use href="#h" x="1490.1" y="469.0"/><use href="#h" x="1538.1" y="485.4"/><use href="#h" x="1580.1" y="493.5"/><use href="#h" x="1592.0" y="493.5"/><use href="#h" x="1538.1" y="501.7"/><use href="#h" x="1550.1" y="501.7"/><use href="#h" x="1064.5" y="526.2"/><use href="#h" x="1124.4" y="526.2"/><use href="#h" x="1136.4" y="526.2"/></g><g fill="#3981A4" stroke="#3981A4"><use href="#h" x="1520.1" y="460.8"/><use href="#h" x="1250.3" y="469.0"/></g><g fill="#3985A5" stroke="#3985A5"><use href="#h" x="1262.3" y="469.0"/><use href="#h" x="1274.3" y="469.0"/><use href="#h" x="1142.4" y="501.7"/></g><g fill="#3888A6" stroke="#3888A6"><use href="#h" x="1514.1" y="420.0"/><use href="#h" x="1502.1" y="469.0"/><use href="#h" x="1514.1" y="501.7"/></g><g fill="#388BA6" stroke="#388BA6"><use href="#h" x="1466.2" y="420.0"/><use href="#h" x="1340.3" y="444.5"/><use href="#h" x="1532.1" y="477.2"/><use href="#h" x="1502.1" y="501.7"/></g><g fill="#378EA7" stroke="#378EA7"><use href="#h" x="1322.3" y="469.0"/><use href="#h" x="1208.4" y="477.2"/><use href="#h" x="1520.1" y="477.2"/></g><g fill="#3690A8" stroke="#3690A8"><use href="#h" x="1490.1" y="420.0"/><use href="#h" x="1472.2" y="428.2"/><use href="#h" x="1358.2" y="436.3"/><use href="#h" x="1406.2" y="469.0"/></g><g fill="#3593A8" stroke="#3593A8"><use href="#h" x="1478.1" y="420.0"/><use href="#h" x="1286.3" y="469.0"/><use href="#h" x="1298.3" y="469.0"/><use href="#h" x="1526.1" y="485.4"/></g><g fill="#3595A9" stroke="#3595A9"><use href="#h" x="1502.1" y="420.0"/><use href="#h" x="1400.2" y="428.2"/><use href="#h" x="1442.2" y="436.3"/><use href="#h" x="1178.4" y="485.4"/><use href="#h" x="1532.1" y="493.5"/></g><g fill="#3598A9" stroke="#3598A9"><use href="#h" x="1394.2" y="469.0"/><use href="#h" x="1496.1" y="477.2"/><use href="#h" x="1508.1" y="493.5"/></g><g fill="#379AA9" stroke="#379AA9"><use href="#h" x="1370.2" y="469.0"/><use href="#h" x="1544.1" y="493.5"/><use href="#h" x="1556.1" y="493.5"/><use href="#h" x="1568.1" y="493.5"/><use href="#h" x="1076.5" y="526.2"/><use href="#h" x="1088.5" y="526.2"/><use href="#h" x="1100.5" y="526.2"/><use href="#h" x="1112.5" y="526.2"/></g><g fill="#3B9EAA" stroke="#3B9EAA"><use href="#h" x="1412.2" y="428.2"/><use href="#h" x="1424.2" y="428.2"/><use href="#h" x="1418.2" y="469.0"/><use href="#h" x="1454.2" y="469.0"/><use href="#h" x="1508.1" y="477.2"/><use href="#h" x="1154.4" y="501.7"/></g><g fill="#3DA0AA" stroke="#3DA0AA"><use href="#h" x="1370.2" y="436.3"/><use href="#h" x="1310.3" y="469.0"/><use href="#h" x="1346.3" y="469.0"/><use href="#h" x="1442.2" y="469.0"/><use href="#h" x="1514.1" y="485.4"/></g><g fill="#3FA1AA" stroke="#3FA1AA"><use href="#h" x="1448.2" y="428.2"/><use href="#h" x="1334.3" y="469.0"/><use href="#h" x="1232.3" y="477.2"/><use href="#h" x="1520.1" y="493.5"/><use href="#h" x="1490.1" y="501.7"/></g><g fill="#40A3AA" stroke="#40A3AA"><use href="#h" x="1358.2" y="469.0"/><use href="#h" x="1382.2" y="469.0"/><use href="#h" x="1220.4" y="477.2"/></g><g fill="#43A6AA" stroke="#43A6AA"><use href="#h" x="1436.2" y="428.2"/><use href="#h" x="1430.2" y="469.0"/><use href="#h" x="1490.1" y="485.4"/><use href="#h" x="1238.3" y="501.7"/></g><g fill="#45A8AA" stroke="#45A8AA"><use href="#h" x="1430.2" y="436.3"/><use href="#h" x="1244.3" y="477.2"/><use href="#h" x="1478.1" y="485.4"/><use href="#h" x="1478.1" y="501.7"/></g><g fill="#46AAAA" stroke="#46AAAA"><use href="#h" x="1460.2" y="428.2"/><use href="#h" x="1382.2" y="436.3"/><use href="#h" x="1472.2" y="493.5"/><use href="#h" x="1454.2" y="501.7"/></g><g fill="#47ABAA" stroke="#47ABAA"><use href="#h" x="1136.4" y="509.9"/></g><g fill="#48ADAB" stroke="#48ADAB"><use href="#h" x="1502.1" y="485.4"/></g><g fill="#4AAEAB" stroke="#4AAEAB"><use href="#h" x="1484.1" y="493.5"/><use href="#h" x="1496.1" y="493.5"/><use href="#h" x="1124.4" y="509.9"/></g><g fill="#4BAFAB" stroke="#4BAFAB"><use href="#h" x="1484.1" y="477.2"/><use href="#h" x="1268.3" y="493.5"/><use href="#h" x="1190.4" y="501.7"/></g><g fill="#4CB1AB" stroke="#4CB1AB"><use href="#h" x="1190.4" y="485.4"/><use href="#h" x="1166.4" y="501.7"/><use href="#h" x="1148.4" y="509.9"/></g><g fill="#4DB2AB" stroke="#4DB2AB"><use href="#h" x="1418.2" y="436.3"/><use href="#h" x="1250.3" y="501.7"/></g><g fill="#4FB5AB" stroke="#4FB5AB"><use href="#h" x="1472.2" y="477.2"/><use href="#h" x="1448.2" y="493.5"/><use href="#h" x="1394.2" y="501.7"/><use href="#h" x="1466.2" y="501.7"/></g><g fill="#50B6AB" stroke="#50B6AB"><use href="#h" x="1466.2" y="485.4"/><use href="#h" x="1172.4" y="493.5"/><use href="#h" x="1460.2" y="493.5"/><use href="#h" x="1406.2" y="501.7"/><use href="#h" x="1160.4" y="509.9"/></g><g fill="#51B7AB" stroke="#51B7AB"><use href="#h" x="1454.2" y="485.4"/><use href="#h" x="1304.3" y="493.5"/><use href="#h" x="1316.3" y="493.5"/><use href="#h" x="1400.2" y="493.5"/><use href="#h" x="1178.4" y="501.7"/><use href="#h" x="1226.4" y="501.7"/><use href="#h" x="1274.3" y="501.7"/></g><g fill="#51B8AB" stroke="#51B8AB"><use href="#h" x="1334.3" y="501.7"/></g><g fill="#52B9AB" stroke="#52B9AB"><use href="#h" x="1406.2" y="436.3"/><use href="#h" x="1202.4" y="501.7"/><use href="#h" x="1346.3" y="501.7"/><use href="#h" x="1190.4" y="518.1"/></g><g fill="#53BBAB" stroke="#53BBAB"><use href="#h" x="1340.3" y="493.5"/><use href="#h" x="1412.2" y="493.5"/><use href="#h" x="1214.4" y="501.7"/><use href="#h" x="1430.2" y="501.7"/></g><g fill="#54BCAB" stroke="#54BCAB"><use href="#h" x="1364.2" y="493.5"/><use href="#h" x="1436.2" y="493.5"/></g><g fill="#55BDAB" stroke="#55BDAB"><use href="#h" x="1394.2" y="436.3"/><use href="#h" x="1328.3" y="493.5"/><use href="#h" x="1196.4" y="509.9"/></g><g fill="#55BEAB" stroke="#55BEAB"><use href="#h" x="1256.3" y="477.2"/><use href="#h" x="1448.2" y="477.2"/><use href="#h" x="1202.4" y="485.4"/><use href="#h" x="1262.3" y="501.7"/><use href="#h" x="1202.4" y="518.1"/></g><g fill="#56BFAB" stroke="#56BFAB"><use href="#h" x="1352.2" y="493.5"/><use href="#h" x="1418.2" y="501.7"/></g><g fill="#57C0AB" stroke="#57C0AB"><use href="#h" x="1388.2" y="493.5"/><use href="#h" x="1172.4" y="509.9"/><use href="#h" x="1118.4" y="518.1"/></g><g fill="#57C1AC" stroke="#57C1AC"><use href="#h" x="1442.2" y="501.7"/><use href="#h" x="1178.4" y="518.1"/></g><g fill="#58C2AC" stroke="#58C2AC"><use href="#h" x="1292.3" y="493.5"/></g><g fill="#59C3AC" stroke="#59C3AC"><use href="#h" x="1346.3" y="485.4"/><use href="#h" x="1442.2" y="485.4"/><use href="#h" x="1376.2" y="493.5"/></g><g fill="#59C4AC" stroke="#59C4AC"><use href="#h" x="1370.2" y="501.7"/><use href="#h" x="1184.4" y="509.9"/></g><g fill="#5AC5AC" stroke="#5AC5AC"><use href="#h" x="1268.3" y="477.2"/><use href="#h" x="1436.2" y="477.2"/><use href="#h" x="1208.4" y="493.5"/><use href="#h" x="1220.4" y="493.5"/><use href="#h" x="1280.3" y="493.5"/><use href="#h" x="1286.3" y="501.7"/><use href="#h" x="1358.2" y="501.7"/><use href="#h" x="1352.2" y="509.9"/></g><g fill="#5BC6AC" stroke="#5BC6AC"><use href="#h" x="1430.2" y="485.4"/><use href="#h" x="1298.3" y="501.7"/></g><g fill="#5BC7AC" stroke="#5BC7AC"><use href="#h" x="1310.3" y="501.7"/><use href="#h" x="1232.3" y="509.9"/><use href="#h" x="1268.3" y="509.9"/></g><g fill="#5CC7AC" stroke="#5CC7AC"><use href="#h" x="1322.3" y="501.7"/><use href="#h" x="1208.4" y="509.9"/></g><g fill="#5CC8AC" stroke="#5CC8AC"><use href="#h" x="1460.2" y="477.2"/><use href="#h" x="1214.4" y="485.4"/><use href="#h" x="1358.2" y="485.4"/><use href="#h" x="1394.2" y="485.4"/><use href="#h" x="1382.2" y="501.7"/></g><g fill="#5DC9AC" stroke="#5DC9AC"><use href="#h" x="1130.4" y="518.1"/><use href="#h" x="1154.4" y="518.1"/></g><g fill="#5ECAAC" stroke="#5ECAAC"><use href="#h" x="1406.2" y="485.4"/><use href="#h" x="1244.3" y="493.5"/><use href="#h" x="1094.5" y="518.1"/></g><g fill="#5ECBAC" stroke="#5ECBAC"><use href="#h" x="1196.4" y="493.5"/></g><g fill="#5FCCAC" stroke="#5FCCAC"><use href="#h" x="1310.3" y="485.4"/><use href="#h" x="1244.3" y="509.9"/><use href="#h" x="1316.3" y="509.9"/></g><g fill="#5FCDAC" stroke="#5FCDAC"><use href="#h" x="1424.2" y="493.5"/><use href="#h" x="1220.4" y="509.9"/><use href="#h" x="1256.3" y="509.9"/><use href="#h" x="1388.2" y="509.9"/></g><g fill="#60CDAC" stroke="#60CDAC"><use href="#h" x="1334.3" y="485.4"/><use href="#h" x="1280.3" y="509.9"/></g><g fill="#60CEAC" stroke="#60CEAC"><use href="#h" x="1232.3" y="493.5"/><use href="#h" x="1328.3" y="509.9"/><use href="#h" x="1166.4" y="518.1"/></g><g fill="#63CFAD" stroke="#63CFAD"><use href="#h" x="1280.3" y="477.2"/></g><g fill="#65CFAE" stroke="#65CFAE"><use href="#h" x="1292.3" y="477.2"/><use href="#h" x="1370.2" y="485.4"/><use href="#h" x="1382.2" y="485.4"/><use href="#h" x="1184.4" y="493.5"/><use href="#h" x="1256.3" y="493.5"/></g><g fill="#67D0AE" stroke="#67D0AE"><use href="#h" x="1340.3" y="477.2"/><use href="#h" x="1412.2" y="477.2"/></g><g fill="#69D0AF" stroke="#69D0AF"><use href="#h" x="1304.3" y="477.2"/><use href="#h" x="1400.2" y="477.2"/><use href="#h" x="1424.2" y="477.2"/><use href="#h" x="1340.3" y="509.9"/><use href="#h" x="1376.2" y="509.9"/><use href="#h" x="1106.5" y="518.1"/><use href="#h" x="1142.4" y="518.1"/></g><g fill="#6BD1B0" stroke="#6BD1B0"><use href="#h" x="1418.2" y="485.4"/><use href="#h" x="1364.2" y="509.9"/></g><g fill="#70D2B2" stroke="#70D2B2"><use href="#h" x="1322.3" y="485.4"/></g><g fill="#72D3B3" stroke="#72D3B3"><use href="#h" x="1328.3" y="477.2"/></g><g fill="#76D4B4" stroke="#76D4B4"><use href="#h" x="1304.3" y="509.9"/></g><g fill="#77D4B5" stroke="#77D4B5"><use href="#h" x="1316.3" y="477.2"/></g><g fill="#79D5B5" stroke="#79D5B5"><use href="#h" x="1364.2" y="477.2"/></g><g fill="#7CD6B7" stroke="#7CD6B7"><use href="#h" x="1376.2" y="477.2"/><use href="#h" x="1286.3" y="485.4"/></g><g fill="#83D8BA" stroke="#83D8BA"><use href="#h" x="1388.2" y="477.2"/></g><g fill="#88D9BC" stroke="#88D9BC"><use href="#h" x="1292.3" y="509.9"/></g><g fill="#89DABC" stroke="#89DABC"><use href="#h" x="1262.3" y="485.4"/></g><g fill="#8ADABD" stroke="#8ADABD"><use href="#h" x="1352.2" y="477.2"/></g><g fill="#8CDABD" stroke="#8CDABD"><use href="#h" x="1298.3" y="485.4"/></g><g fill="#8DDBBE" stroke="#8DDBBE"><use href="#h" x="1226.4" y="485.4"/></g><g fill="#8EDBBE" stroke="#8EDBBE"><use href="#h" x="1250.3" y="485.4"/><use href="#h" x="1274.3" y="485.4"/></g><g fill="#A2E1C7" stroke="#A2E1C7"><use href="#h" x="1238.3" y="485.4"/></g></g><g stroke-width="0.45"><g fill="#0B0405" stroke="#0B0405"><use href="#h" x="1574.1" y="256.5"/><use href="#h" x="1496.1" y="264.7"/><use href="#h" x="1502.1" y="272.9"/><use href="#h" x="1526.1" y="272.9"/><use href="#h" x="1532.1" y="281.0"/><use href="#h" x="1580.1" y="281.0"/><use href="#h" x="1556.1" y="297.4"/><use href="#h" x="1592.0" y="297.4"/><use href="#h" x="1418.2" y="305.6"/><use href="#h" x="1466.2" y="305.6"/><use href="#h" x="1502.1" y="305.6"/><use href="#h" x="1532.1" y="313.7"/><use href="#h" x="1604.0" y="313.7"/><use href="#h" x="1586.1" y="321.9"/><use href="#h" x="1622.0" y="321.9"/><use href="#h" x="1484.1" y="330.1"/><use href="#h" x="1568.1" y="330.1"/><use href="#h" x="1454.2" y="338.2"/><use href="#h" x="1478.1" y="338.2"/><use href="#h" x="1550.1" y="338.2"/><use href="#h" x="1460.2" y="346.4"/><use href="#h" x="1532.1" y="346.4"/><use href="#h" x="1580.1" y="346.4"/><use href="#h" x="1592.0" y="346.4"/><use href="#h" x="1466.2" y="354.6"/><use href="#h" x="1502.1" y="354.6"/><use href="#h" x="1562.1" y="354.6"/><use href="#h" x="1598.0" y="354.6"/><use href="#h" x="1496.1" y="362.8"/><use href="#h" x="1592.0" y="362.8"/><use href="#h" x="1604.0" y="362.8"/><use href="#h" x="1628.0" y="362.8"/><use href="#h" x="1394.2" y="370.9"/><use href="#h" x="1406.2" y="370.9"/><use href="#h" x="1454.2" y="370.9"/><use href="#h" x="1490.1" y="370.9"/><use href="#h" x="1502.1" y="370.9"/><use href="#h" x="1514.1" y="370.9"/><use href="#h" x="1562.1" y="370.9"/><use href="#h" x="1586.1" y="370.9"/><use href="#h" x="1598.0" y="370.9"/><use href="#h" x="1610.0" y="370.9"/><use href="#h" x="1634.0" y="370.9"/><use href="#h" x="1376.2" y="379.1"/><use href="#h" x="1400.2" y="379.1"/><use href="#h" x="1460.2" y="379.1"/><use href="#h" x="1472.2" y="379.1"/><use href="#h" x="1508.1" y="379.1"/><use href="#h" x="1592.0" y="379.1"/><use href="#h" x="1616.0" y="379.1"/><use href="#h" x="1640.0" y="379.1"/><use href="#h" x="1652.0" y="379.1"/><use href="#h" x="1322.3" y="387.3"/><use href="#h" x="1358.2" y="387.3"/><use href="#h" x="1382.2" y="387.3"/><use href="#h" x="1394.2" y="387.3"/><use href="#h" x="1454.2" y="387.3"/><use href="#h" x="1514.1" y="387.3"/><use href="#h" x="1538.1" y="387.3"/><use href="#h" x="1550.1" y="387.3"/><use href="#h" x="1562.1" y="387.3"/><use href="#h" x="1586.1" y="387.3"/><use href="#h" x="1610.0" y="387.3"/><use href="#h" x="1622.0" y="387.3"/><use href="#h" x="1304.3" y="395.5"/><use href="#h" x="1328.3" y="395.5"/><use href="#h" x="1352.2" y="395.5"/><use href="#h" x="1436.2" y="395.5"/><use href="#h" x="1460.2" y="395.5"/><use href="#h" x="1472.2" y="395.5"/><use href="#h" x="1496.1" y="395.5"/><use href="#h" x="1310.3" y="403.6"/><use href="#h" x="1322.3" y="403.6"/><use href="#h" x="1334.3" y="403.6"/><use href="#h" x="1346.3" y="403.6"/><use href="#h" x="1406.2" y="403.6"/><use href="#h" x="1442.2" y="403.6"/><use href="#h" x="1328.3" y="411.8"/><use href="#h" x="1340.3" y="411.8"/><use href="#h" x="1352.2" y="411.8"/><use href="#h" x="1364.2" y="411.8"/><use href="#h" x="1412.2" y="411.8"/><use href="#h" x="1604.0" y="411.8"/><use href="#h" x="1616.0" y="411.8"/><use href="#h" x="1334.3" y="420.0"/><use href="#h" x="1562.1" y="420.0"/><use href="#h" x="1574.1" y="420.0"/><use href="#h" x="1586.1" y="420.0"/><use href="#h" x="1328.3" y="428.2"/><use href="#h" x="1364.2" y="428.2"/><use href="#h" x="1520.1" y="428.2"/><use href="#h" x="1274.3" y="436.3"/><use href="#h" x="1298.3" y="436.3"/><use href="#h" x="1334.3" y="436.3"/><use href="#h" x="1490.1" y="436.3"/><use href="#h" x="1514.1" y="436.3"/><use href="#h" x="1256.3" y="444.5"/><use href="#h" x="1268.3" y="444.5"/><use href="#h" x="1460.2" y="444.5"/><use href="#h" x="1544.1" y="444.5"/><use href="#h" x="1616.0" y="444.5"/><use href="#h" x="1226.4" y="452.7"/><use href="#h" x="1586.1" y="452.7"/><use href="#h" x="1598.0" y="452.7"/><use href="#h" x="1220.4" y="460.8"/><use href="#h" x="1592.0" y="460.8"/><use href="#h" x="1604.0" y="460.8"/><use href="#h" x="1178.4" y="469.0"/><use href="#h" x="1190.4" y="469.0"/><use href="#h" x="1160.4" y="477.2"/><use href="#h" x="1652.0" y="477.2"/><use href="#h" x="1130.4" y="485.4"/><use href="#h" x="1610.0" y="485.4"/><use href="#h" x="1646.0" y="485.4"/><use href="#h" x="1112.5" y="493.5"/><use href="#h" x="1094.5" y="501.7"/><use href="#h" x="1622.0" y="501.7"/><use href="#h" x="1052.5" y="509.9"/><use href="#h" x="1394.2" y="518.1"/><use href="#h" x="1004.5" y="526.2"/><use href="#h" x="1016.5" y="526.2"/><use href="#h" x="1196.4" y="526.2"/><use href="#h" x="998.5" y="534.4"/><use href="#h" x="1022.5" y="534.4"/><use href="#h" x="1166.4" y="534.4"/><use href="#h" x="1178.4" y="534.4"/><use href="#h" x="1190.4" y="534.4"/><use href="#h" x="1016.5" y="542.6"/><use href="#h" x="1028.5" y="542.6"/><use href="#h" x="998.5" y="550.8"/><use href="#h" x="1022.5" y="550.8"/><use href="#h" x="1082.5" y="550.8"/><use href="#h" x="1154.4" y="550.8"/><use href="#h" x="1004.5" y="558.9"/><use href="#h" x="1052.5" y="558.9"/><use href="#h" x="1076.5" y="558.9"/><use href="#h" x="1070.5" y="567.1"/><use href="#h" x="1016.5" y="575.3"/><use href="#h" x="1052.5" y="575.3"/><use href="#h" x="1016.5" y="608.0"/><use href="#h" x="998.5" y="616.1"/><use href="#h" x="1010.5" y="616.1"/></g><g fill="#291F39" stroke="#291F39"><use href="#h" x="1544.1" y="248.3"/><use href="#h" x="1442.2" y="321.9"/><use href="#h" x="1484.1" y="346.4"/><use href="#h" x="1496.1" y="346.4"/><use href="#h" x="1520.1" y="346.4"/><use href="#h" x="1406.2" y="354.6"/><use href="#h" x="1430.2" y="354.6"/><use href="#h" x="1442.2" y="354.6"/><use href="#h" x="1454.2" y="354.6"/><use href="#h" x="1478.1" y="354.6"/><use href="#h" x="1520.1" y="362.8"/><use href="#h" x="1532.1" y="362.8"/><use href="#h" x="1556.1" y="362.8"/><use href="#h" x="1568.1" y="362.8"/><use href="#h" x="1580.1" y="362.8"/><use href="#h" x="1418.2" y="370.9"/><use href="#h" x="1430.2" y="370.9"/><use href="#h" x="1442.2" y="370.9"/><use href="#h" x="1466.2" y="370.9"/><use href="#h" x="1478.1" y="370.9"/><use href="#h" x="1646.0" y="370.9"/><use href="#h" x="1364.2" y="379.1"/><use href="#h" x="1424.2" y="379.1"/><use href="#h" x="1496.1" y="379.1"/><use href="#h" x="1556.1" y="379.1"/><use href="#h" x="1574.1" y="387.3"/><use href="#h" x="1376.2" y="395.5"/><use href="#h" x="1520.1" y="395.5"/><use href="#h" x="1616.0" y="395.5"/><use href="#h" x="1394.2" y="403.6"/><use href="#h" x="1502.1" y="403.6"/><use href="#h" x="1622.0" y="403.6"/><use href="#h" x="1388.2" y="411.8"/><use href="#h" x="1550.1" y="436.3"/><use href="#h" x="1574.1" y="436.3"/><use href="#h" x="1586.1" y="436.3"/><use href="#h" x="1484.1" y="444.5"/><use href="#h" x="1496.1" y="444.5"/><use href="#h" x="1238.3" y="452.7"/><use href="#h" x="1466.2" y="452.7"/><use href="#h" x="1574.1" y="452.7"/><use href="#h" x="1610.0" y="452.7"/><use href="#h" x="1574.1" y="469.0"/><use href="#h" x="1586.1" y="469.0"/><use href="#h" x="1640.0" y="477.2"/><use href="#h" x="1598.0" y="485.4"/><use href="#h" x="1670.0" y="485.4"/><use href="#h" x="1136.4" y="493.5"/><use href="#h" x="1640.0" y="493.5"/><use href="#h" x="1586.1" y="501.7"/><use href="#h" x="1568.1" y="509.9"/><use href="#h" x="998.5" y="518.1"/><use href="#h" x="1010.5" y="518.1"/><use href="#h" x="1148.4" y="542.6"/><use href="#h" x="1058.5" y="550.8"/><use href="#h" x="1070.5" y="550.8"/><use href="#h" x="1130.4" y="550.8"/><use href="#h" x="1142.4" y="550.8"/><use href="#h" x="1040.5" y="558.9"/><use href="#h" x="986.6" y="567.1"/><use href="#h" x="1022.5" y="567.1"/><use href="#h" x="1046.5" y="567.1"/><use href="#h" x="1040.5" y="575.3"/><use href="#h" x="1064.5" y="575.3"/></g><g fill="#392C57" stroke="#392C57"><use href="#h" x="1454.2" y="403.6"/><use href="#h" x="1592.0" y="411.8"/><use href="#h" x="1358.2" y="420.0"/><use href="#h" x="1292.3" y="444.5"/><use href="#h" x="1508.1" y="444.5"/><use href="#h" x="1520.1" y="444.5"/><use href="#h" x="1568.1" y="444.5"/><use href="#h" x="1250.3" y="452.7"/><use href="#h" x="1274.3" y="452.7"/><use href="#h" x="1478.1" y="452.7"/><use href="#h" x="1172.4" y="477.2"/><use href="#h" x="1580.1" y="477.2"/><use href="#h" x="1634.0" y="485.4"/><use href="#h" x="1610.0" y="501.7"/><use href="#h" x="1022.5" y="518.1"/><use href="#h" x="1208.4" y="526.2"/><use href="#h" x="1052.5" y="542.6"/><use href="#h" x="1124.4" y="542.6"/><use href="#h" x="1094.5" y="550.8"/><use href="#h" x="1118.4" y="550.8"/><use href="#h" x="1058.5" y="567.1"/></g><g fill="#3B3A6A" stroke="#3B3A6A"><use href="#h" x="1556.1" y="313.7"/><use href="#h" x="1424.2" y="362.8"/><use href="#h" x="1484.1" y="362.8"/><use href="#h" x="1418.2" y="387.3"/><use href="#h" x="1442.2" y="387.3"/><use href="#h" x="1490.1" y="387.3"/><use href="#h" x="1502.1" y="387.3"/><use href="#h" x="1598.0" y="387.3"/><use href="#h" x="1388.2" y="395.5"/><use href="#h" x="1424.2" y="395.5"/><use href="#h" x="1550.1" y="420.0"/><use href="#h" x="1352.2" y="428.2"/><use href="#h" x="1376.2" y="428.2"/><use href="#h" x="1466.2" y="436.3"/><use href="#h" x="1286.3" y="452.7"/><use href="#h" x="1532.1" y="509.9"/><use href="#h" x="1556.1" y="509.9"/><use href="#h" x="1130.4" y="534.4"/><use href="#h" x="1142.4" y="534.4"/><use href="#h" x="1154.4" y="534.4"/><use href="#h" x="1040.5" y="542.6"/></g><g fill="#3C4479" stroke="#3C4479"><use href="#h" x="1556.1" y="444.5"/><use href="#h" x="1568.1" y="460.8"/><use href="#h" x="1586.1" y="485.4"/><use href="#h" x="1616.0" y="493.5"/><use href="#h" x="1628.0" y="493.5"/><use href="#h" x="1598.0" y="501.7"/><use href="#h" x="1544.1" y="509.9"/><use href="#h" x="1106.5" y="550.8"/></g><g fill="#3B4D86" stroke="#3B4D86"><use href="#h" x="1448.2" y="346.4"/><use href="#h" x="1436.2" y="379.1"/><use href="#h" x="1634.0" y="403.6"/><use href="#h" x="1394.2" y="420.0"/><use href="#h" x="1478.1" y="436.3"/><use href="#h" x="1202.4" y="469.0"/><use href="#h" x="1214.4" y="469.0"/><use href="#h" x="1154.4" y="485.4"/><use href="#h" x="1088.5" y="509.9"/><use href="#h" x="1520.1" y="509.9"/></g><g fill="#395C9A" stroke="#395C9A"><use href="#h" x="1526.1" y="403.6"/><use href="#h" x="1538.1" y="403.6"/><use href="#h" x="1508.1" y="411.8"/><use href="#h" x="1520.1" y="411.8"/><use href="#h" x="1406.2" y="420.0"/><use href="#h" x="1508.1" y="428.2"/><use href="#h" x="1574.1" y="501.7"/><use href="#h" x="1496.1" y="509.9"/></g><g fill="#3A629D" stroke="#3A629D"><use href="#h" x="1526.1" y="420.0"/><use href="#h" x="1526.1" y="452.7"/><use href="#h" x="1460.2" y="460.8"/><use href="#h" x="1118.4" y="501.7"/><use href="#h" x="1382.2" y="518.1"/></g><g fill="#3A689F" stroke="#3A689F"><use href="#h" x="1484.1" y="395.5"/><use href="#h" x="1544.1" y="395.5"/><use href="#h" x="1034.5" y="518.1"/></g><g fill="#3A6DA0" stroke="#3A6DA0"><use href="#h" x="1484.1" y="460.8"/><use href="#h" x="1484.1" y="509.9"/></g><g fill="#3A76A2" stroke="#3A76A2"><use href="#h" x="1508.1" y="509.9"/><use href="#h" x="1370.2" y="518.1"/></g><g fill="#3A7AA3" stroke="#3A7AA3"><use href="#h" x="1532.1" y="411.8"/><use href="#h" x="1544.1" y="411.8"/><use href="#h" x="1496.1" y="428.2"/><use href="#h" x="1538.1" y="452.7"/></g><g fill="#3981A4" stroke="#3981A4"><use href="#h" x="1388.2" y="428.2"/><use href="#h" x="1148.4" y="493.5"/><use href="#h" x="1130.4" y="501.7"/></g><g fill="#3888A6" stroke="#3888A6"><use href="#h" x="1328.3" y="444.5"/><use href="#h" x="1472.2" y="509.9"/></g><g fill="#388BA6" stroke="#388BA6"><use href="#h" x="1478.1" y="469.0"/><use href="#h" x="1046.5" y="518.1"/></g><g fill="#378EA7" stroke="#378EA7"><use href="#h" x="1100.5" y="509.9"/></g><g fill="#3690A8" stroke="#3690A8"><use href="#h" x="1346.3" y="436.3"/><use href="#h" x="1358.2" y="518.1"/></g><g fill="#3593A8" stroke="#3593A8"><use href="#h" x="1316.3" y="444.5"/></g><g fill="#3598A9" stroke="#3598A9"><use href="#h" x="1304.3" y="444.5"/><use href="#h" x="1466.2" y="469.0"/></g><g fill="#399CA9" stroke="#399CA9"><use href="#h" x="1058.5" y="518.1"/></g><g fill="#3B9EAA" stroke="#3B9EAA"><use href="#h" x="1112.5" y="509.9"/></g><g fill="#3FA1AA" stroke="#3FA1AA"><use href="#h" x="1214.4" y="518.1"/><use href="#h" x="1322.3" y="518.1"/></g><g fill="#42A5AA" stroke="#42A5AA"><use href="#h" x="1346.3" y="518.1"/></g><g fill="#43A6AA" stroke="#43A6AA"><use href="#h" x="1274.3" y="518.1"/></g><g fill="#45A8AA" stroke="#45A8AA"><use href="#h" x="1310.3" y="518.1"/></g><g fill="#48ADAB" stroke="#48ADAB"><use href="#h" x="1250.3" y="518.1"/></g><g fill="#4AAEAB" stroke="#4AAEAB"><use href="#h" x="1460.2" y="509.9"/></g><g fill="#4BAFAB" stroke="#4BAFAB"><use href="#h" x="1448.2" y="509.9"/><use href="#h" x="1070.5" y="518.1"/><use href="#h" x="1262.3" y="518.1"/><use href="#h" x="1334.3" y="518.1"/></g><g fill="#4CB1AB" stroke="#4CB1AB"><use href="#h" x="1298.3" y="518.1"/></g><g fill="#4DB2AB" stroke="#4DB2AB"><use href="#h" x="1082.5" y="518.1"/><use href="#h" x="1238.3" y="518.1"/></g><g fill="#51B7AB" stroke="#51B7AB"><use href="#h" x="1286.3" y="518.1"/></g><g fill="#52B9AB" stroke="#52B9AB"><use href="#h" x="1424.2" y="509.9"/></g><g fill="#59C3AC" stroke="#59C3AC"><use href="#h" x="1226.4" y="518.1"/></g><g fill="#59C4AC" stroke="#59C4AC"><use href="#h" x="1400.2" y="509.9"/></g><g fill="#5BC7AC" stroke="#5BC7AC"><use href="#h" x="1436.2" y="509.9"/></g><g fill="#5CC8AC" stroke="#5CC8AC"><use href="#h" x="1412.2" y="509.9"/></g></g><line x1="981.3" y1="536.6" x2="1673.0" y2="439.2" stroke="#E5303F" stroke-width="2.6"/></g>
</g>
<g>
<rect x="124" y="820.0" width="798" height="3" fill="#EBEBEB"/>
<rect x="124" y="1017.0" width="798" height="3" fill="#EBEBEB"/>
<rect x="124" y="1214.0" width="798" height="3" fill="#EBEBEB"/>
<rect x="124" y="1412.0" width="798" height="3" fill="#EBEBEB"/>
<rect x="237.0" y="813" width="3" height="629" fill="#EBEBEB"/>
<rect x="414.0" y="813" width="3" height="629" fill="#EBEBEB"/>
<rect x="591.0" y="813" width="3" height="629" fill="#EBEBEB"/>
<rect x="768.0" y="813" width="3" height="629" fill="#EBEBEB"/>
<text x="523.5" y="799" font-size="26" font-weight="bold" fill="#1A1A1A" text-anchor="middle">Summer</text>
<g stroke-linejoin="round"><g stroke-width="1.00"><g fill="#0B0405" stroke="#0B0405"><use href="#h" x="634.2" y="939.6"/><use href="#h" x="568.2" y="964.2"/><use href="#h" x="538.2" y="972.3"/><use href="#h" x="532.3" y="980.5"/><use href="#h" x="658.2" y="988.7"/><use href="#h" x="556.2" y="996.9"/><use href="#h" x="634.2" y="1005.0"/><use href="#h" x="646.2" y="1005.0"/><use href="#h" x="472.3" y="1013.2"/><use href="#h" x="556.2" y="1013.2"/><use href="#h" x="466.3" y="1021.4"/><use href="#h" x="616.2" y="1029.5"/><use href="#h" x="640.2" y="1029.5"/><use href="#h" x="646.2" y="1037.7"/><use href="#h" x="538.2" y="1054.1"/><use href="#h" x="472.3" y="1062.2"/><use href="#h" x="652.2" y="1078.6"/><use href="#h" x="454.3" y="1086.8"/><use href="#h" x="574.2" y="1119.5"/><use href="#h" x="604.2" y="1144.0"/><use href="#h" x="628.2" y="1144.0"/><use href="#h" x="394.4" y="1152.1"/><use href="#h" x="400.4" y="1160.3"/><use href="#h" x="346.4" y="1168.5"/><use href="#h" x="382.4" y="1168.5"/><use href="#h" x="394.4" y="1168.5"/><use href="#h" x="418.4" y="1168.5"/><use href="#h" x="454.3" y="1168.5"/><use href="#h" x="730.1" y="1184.8"/></g><g fill="#291F39" stroke="#291F39"><use href="#h" x="550.2" y="972.3"/><use href="#h" x="562.2" y="972.3"/><use href="#h" x="658.2" y="972.3"/><use href="#h" x="544.2" y="980.5"/><use href="#h" x="556.2" y="980.5"/><use href="#h" x="568.2" y="980.5"/><use href="#h" x="562.2" y="988.7"/><use href="#h" x="616.2" y="996.9"/><use href="#h" x="652.2" y="996.9"/><use href="#h" x="478.3" y="1005.0"/><use href="#h" x="550.2" y="1005.0"/><use href="#h" x="598.2" y="1005.0"/><use href="#h" x="484.3" y="1013.2"/><use href="#h" x="604.2" y="1013.2"/><use href="#h" x="616.2" y="1013.2"/><use href="#h" x="628.2" y="1013.2"/><use href="#h" x="652.2" y="1013.2"/><use href="#h" x="550.2" y="1021.4"/><use href="#h" x="646.2" y="1021.4"/><use href="#h" x="664.1" y="1029.5"/><use href="#h" x="538.2" y="1037.7"/><use href="#h" x="586.2" y="1037.7"/><use href="#h" x="478.3" y="1054.1"/><use href="#h" x="640.2" y="1062.2"/><use href="#h" x="478.3" y="1070.4"/><use href="#h" x="598.2" y="1070.4"/><use href="#h" x="472.3" y="1078.6"/><use href="#h" x="514.3" y="1086.8"/><use href="#h" x="622.2" y="1086.8"/><use href="#h" x="496.3" y="1111.3"/><use href="#h" x="682.1" y="1119.5"/><use href="#h" x="412.4" y="1127.6"/><use href="#h" x="610.2" y="1135.8"/><use href="#h" x="448.3" y="1160.3"/><use href="#h" x="406.4" y="1168.5"/><use href="#h" x="442.3" y="1168.5"/><use href="#h" x="340.4" y="1176.7"/><use href="#h" x="208.5" y="1225.7"/></g><g fill="#392C57" stroke="#392C57"><use href="#h" x="538.2" y="988.7"/><use href="#h" x="532.3" y="996.9"/><use href="#h" x="544.2" y="996.9"/><use href="#h" x="610.2" y="1005.0"/><use href="#h" x="658.2" y="1005.0"/><use href="#h" x="562.2" y="1021.4"/><use href="#h" x="634.2" y="1021.4"/><use href="#h" x="640.2" y="1045.9"/><use href="#h" x="652.2" y="1045.9"/><use href="#h" x="640.2" y="1078.6"/><use href="#h" x="604.2" y="1094.9"/><use href="#h" x="598.2" y="1103.1"/><use href="#h" x="580.2" y="1111.3"/><use href="#h" x="592.2" y="1111.3"/><use href="#h" x="424.3" y="1127.6"/><use href="#h" x="418.4" y="1135.8"/><use href="#h" x="598.2" y="1135.8"/><use href="#h" x="622.2" y="1135.8"/><use href="#h" x="646.2" y="1135.8"/><use href="#h" x="658.2" y="1135.8"/><use href="#h" x="544.2" y="1144.0"/><use href="#h" x="436.3" y="1160.3"/><use href="#h" x="508.3" y="1160.3"/><use href="#h" x="466.3" y="1168.5"/><use href="#h" x="358.4" y="1184.8"/><use href="#h" x="652.2" y="1193.0"/><use href="#h" x="286.5" y="1201.2"/><use href="#h" x="202.5" y="1233.9"/><use href="#h" x="214.5" y="1233.9"/></g><g fill="#3B3A6A" stroke="#3B3A6A"><use href="#h" x="622.2" y="1005.0"/><use href="#h" x="568.2" y="1013.2"/><use href="#h" x="580.2" y="1013.2"/><use href="#h" x="664.1" y="1013.2"/><use href="#h" x="628.2" y="1029.5"/><use href="#h" x="652.2" y="1029.5"/><use href="#h" x="634.2" y="1037.7"/><use href="#h" x="658.2" y="1037.7"/><use href="#h" x="562.2" y="1054.1"/><use href="#h" x="634.2" y="1054.1"/><use href="#h" x="544.2" y="1062.2"/><use href="#h" x="628.2" y="1062.2"/><use href="#h" x="652.2" y="1062.2"/><use href="#h" x="634.2" y="1070.4"/><use href="#h" x="646.2" y="1070.4"/><use href="#h" x="658.2" y="1070.4"/><use href="#h" x="628.2" y="1078.6"/><use href="#h" x="478.3" y="1086.8"/><use href="#h" x="496.3" y="1094.9"/><use href="#h" x="454.3" y="1103.1"/><use href="#h" x="586.2" y="1119.5"/><use href="#h" x="670.1" y="1119.5"/><use href="#h" x="496.3" y="1127.6"/><use href="#h" x="532.3" y="1127.6"/><use href="#h" x="580.2" y="1127.6"/><use href="#h" x="592.2" y="1127.6"/><use href="#h" x="628.2" y="1127.6"/><use href="#h" x="640.2" y="1127.6"/><use href="#h" x="676.1" y="1127.6"/><use href="#h" x="688.1" y="1127.6"/><use href="#h" x="538.2" y="1135.8"/><use href="#h" x="586.2" y="1135.8"/><use href="#h" x="634.2" y="1135.8"/><use href="#h" x="508.3" y="1144.0"/><use href="#h" x="592.2" y="1144.0"/><use href="#h" x="688.1" y="1144.0"/><use href="#h" x="538.2" y="1152.1"/><use href="#h" x="388.4" y="1160.3"/><use href="#h" x="430.3" y="1168.5"/><use href="#h" x="238.5" y="1233.9"/></g><g fill="#3C4479" stroke="#3C4479"><use href="#h" x="664.1" y="980.5"/><use href="#h" x="526.3" y="988.7"/><use href="#h" x="562.2" y="1005.0"/><use href="#h" x="610.2" y="1021.4"/><use href="#h" x="658.2" y="1021.4"/><use href="#h" x="520.3" y="1045.9"/><use href="#h" x="532.3" y="1045.9"/><use href="#h" x="580.2" y="1045.9"/><use href="#h" x="616.2" y="1045.9"/><use href="#h" x="628.2" y="1045.9"/><use href="#h" x="646.2" y="1054.1"/><use href="#h" x="556.2" y="1062.2"/><use href="#h" x="484.3" y="1078.6"/><use href="#h" x="496.3" y="1078.6"/><use href="#h" x="466.3" y="1086.8"/><use href="#h" x="568.2" y="1111.3"/><use href="#h" x="514.3" y="1119.5"/><use href="#h" x="448.3" y="1144.0"/><use href="#h" x="580.2" y="1144.0"/><use href="#h" x="616.2" y="1144.0"/><use href="#h" x="502.3" y="1152.1"/><use href="#h" x="352.4" y="1176.7"/><use href="#h" x="400.4" y="1176.7"/></g><g fill="#3B4D86" stroke="#3B4D86"><use href="#h" x="544.2" y="1029.5"/><use href="#h" x="604.2" y="1029.5"/><use href="#h" x="604.2" y="1045.9"/><use href="#h" x="550.2" y="1054.1"/><use href="#h" x="568.2" y="1062.2"/><use href="#h" x="538.2" y="1070.4"/><use href="#h" x="550.2" y="1070.4"/><use href="#h" x="574.2" y="1070.4"/><use href="#h" x="508.3" y="1078.6"/><use href="#h" x="520.3" y="1078.6"/><use href="#h" x="586.2" y="1086.8"/><use href="#h" x="610.2" y="1086.8"/><use href="#h" x="460.3" y="1094.9"/><use href="#h" x="556.2" y="1094.9"/><use href="#h" x="550.2" y="1103.1"/><use href="#h" x="508.3" y="1111.3"/><use href="#h" x="556.2" y="1111.3"/><use href="#h" x="490.3" y="1119.5"/><use href="#h" x="538.2" y="1119.5"/><use href="#h" x="430.3" y="1135.8"/><use href="#h" x="568.2" y="1144.0"/><use href="#h" x="442.3" y="1152.1"/><use href="#h" x="550.2" y="1152.1"/><use href="#h" x="562.2" y="1152.1"/><use href="#h" x="706.1" y="1152.1"/><use href="#h" x="730.1" y="1168.5"/><use href="#h" x="376.4" y="1176.7"/><use href="#h" x="334.4" y="1184.8"/><use href="#h" x="304.4" y="1193.0"/></g><g fill="#3B5590" stroke="#3B5590"><use href="#h" x="574.2" y="1021.4"/><use href="#h" x="622.2" y="1021.4"/><use href="#h" x="598.2" y="1037.7"/><use href="#h" x="610.2" y="1037.7"/><use href="#h" x="622.2" y="1037.7"/><use href="#h" x="556.2" y="1045.9"/><use href="#h" x="574.2" y="1054.1"/><use href="#h" x="622.2" y="1054.1"/><use href="#h" x="604.2" y="1062.2"/><use href="#h" x="586.2" y="1070.4"/><use href="#h" x="532.3" y="1078.6"/><use href="#h" x="580.2" y="1078.6"/><use href="#h" x="592.2" y="1078.6"/><use href="#h" x="490.3" y="1086.8"/><use href="#h" x="568.2" y="1094.9"/><use href="#h" x="592.2" y="1094.9"/><use href="#h" x="502.3" y="1103.1"/><use href="#h" x="562.2" y="1103.1"/><use href="#h" x="574.2" y="1103.1"/><use href="#h" x="586.2" y="1103.1"/><use href="#h" x="484.3" y="1111.3"/><use href="#h" x="502.3" y="1119.5"/><use href="#h" x="526.3" y="1119.5"/><use href="#h" x="508.3" y="1127.6"/><use href="#h" x="520.3" y="1127.6"/><use href="#h" x="514.3" y="1135.8"/><use href="#h" x="526.3" y="1135.8"/><use href="#h" x="574.2" y="1135.8"/><use href="#h" x="436.3" y="1144.0"/><use href="#h" x="496.3" y="1144.0"/><use href="#h" x="532.3" y="1144.0"/><use href="#h" x="514.3" y="1152.1"/><use href="#h" x="586.2" y="1152.1"/><use href="#h" x="346.4" y="1184.8"/></g><g fill="#395C9A" stroke="#395C9A"><use href="#h" x="550.2" y="988.7"/><use href="#h" x="640.2" y="1013.2"/><use href="#h" x="586.2" y="1021.4"/><use href="#h" x="592.2" y="1029.5"/><use href="#h" x="550.2" y="1037.7"/><use href="#h" x="610.2" y="1054.1"/><use href="#h" x="580.2" y="1062.2"/><use href="#h" x="556.2" y="1078.6"/><use href="#h" x="502.3" y="1086.8"/><use href="#h" x="574.2" y="1086.8"/><use href="#h" x="484.3" y="1094.9"/><use href="#h" x="508.3" y="1094.9"/><use href="#h" x="544.2" y="1094.9"/><use href="#h" x="466.3" y="1103.1"/><use href="#h" x="538.2" y="1103.1"/><use href="#h" x="520.3" y="1111.3"/><use href="#h" x="532.3" y="1111.3"/><use href="#h" x="544.2" y="1111.3"/><use href="#h" x="652.2" y="1127.6"/><use href="#h" x="664.1" y="1127.6"/><use href="#h" x="670.1" y="1135.8"/><use href="#h" x="682.1" y="1135.8"/><use href="#h" x="520.3" y="1144.0"/><use href="#h" x="556.2" y="1144.0"/><use href="#h" x="640.2" y="1144.0"/><use href="#h" x="652.2" y="1144.0"/><use href="#h" x="664.1" y="1144.0"/><use href="#h" x="676.1" y="1144.0"/><use href="#h" x="526.3" y="1152.1"/><use href="#h" x="574.2" y="1152.1"/><use href="#h" x="694.1" y="1152.1"/><use href="#h" x="712.1" y="1160.3"/><use href="#h" x="364.4" y="1176.7"/><use href="#h" x="388.4" y="1176.7"/><use href="#h" x="724.1" y="1193.0"/><use href="#h" x="196.5" y="1225.7"/><use href="#h" x="220.5" y="1225.7"/><use href="#h" x="232.5" y="1225.7"/><use href="#h" x="268.5" y="1225.7"/><use href="#h" x="280.5" y="1225.7"/><use href="#h" x="292.5" y="1225.7"/><use href="#h" x="226.5" y="1233.9"/></g><g fill="#3A629D" stroke="#3A629D"><use href="#h" x="592.2" y="1013.2"/><use href="#h" x="598.2" y="1021.4"/><use href="#h" x="580.2" y="1029.5"/><use href="#h" x="544.2" y="1045.9"/><use href="#h" x="592.2" y="1062.2"/><use href="#h" x="616.2" y="1062.2"/><use href="#h" x="562.2" y="1070.4"/><use href="#h" x="622.2" y="1070.4"/><use href="#h" x="544.2" y="1078.6"/><use href="#h" x="568.2" y="1078.6"/><use href="#h" x="526.3" y="1086.8"/><use href="#h" x="562.2" y="1086.8"/><use href="#h" x="598.2" y="1086.8"/><use href="#h" x="472.3" y="1094.9"/><use href="#h" x="580.2" y="1094.9"/><use href="#h" x="478.3" y="1103.1"/><use href="#h" x="490.3" y="1103.1"/><use href="#h" x="514.3" y="1103.1"/><use href="#h" x="502.3" y="1135.8"/><use href="#h" x="520.3" y="1160.3"/><use href="#h" x="718.1" y="1184.8"/><use href="#h" x="316.4" y="1193.0"/></g><g fill="#3A689F" stroke="#3A689F"><use href="#h" x="574.2" y="1037.7"/><use href="#h" x="568.2" y="1045.9"/><use href="#h" x="598.2" y="1054.1"/><use href="#h" x="550.2" y="1086.8"/><use href="#h" x="436.3" y="1176.7"/><use href="#h" x="664.1" y="1193.0"/></g><g fill="#3A6DA0" stroke="#3A6DA0"><use href="#h" x="592.2" y="1045.9"/><use href="#h" x="610.2" y="1070.4"/><use href="#h" x="526.3" y="1103.1"/><use href="#h" x="682.1" y="1152.1"/><use href="#h" x="532.3" y="1160.3"/><use href="#h" x="688.1" y="1193.0"/></g><g fill="#3B72A1" stroke="#3B72A1"><use href="#h" x="556.2" y="1029.5"/><use href="#h" x="568.2" y="1029.5"/><use href="#h" x="562.2" y="1037.7"/><use href="#h" x="586.2" y="1054.1"/><use href="#h" x="604.2" y="1078.6"/><use href="#h" x="616.2" y="1078.6"/><use href="#h" x="538.2" y="1086.8"/><use href="#h" x="532.3" y="1094.9"/><use href="#h" x="598.2" y="1152.1"/><use href="#h" x="670.1" y="1152.1"/><use href="#h" x="718.1" y="1168.5"/><use href="#h" x="424.3" y="1176.7"/><use href="#h" x="712.1" y="1176.7"/><use href="#h" x="724.1" y="1176.7"/></g><g fill="#3A76A2" stroke="#3A76A2"><use href="#h" x="700.1" y="1160.3"/><use href="#h" x="370.4" y="1184.8"/><use href="#h" x="700.1" y="1193.0"/><use href="#h" x="256.5" y="1209.4"/></g><g fill="#3A7AA3" stroke="#3A7AA3"><use href="#h" x="706.1" y="1184.8"/><use href="#h" x="676.1" y="1193.0"/><use href="#h" x="298.4" y="1201.2"/><use href="#h" x="244.5" y="1225.7"/><use href="#h" x="256.5" y="1225.7"/></g><g fill="#3A7EA4" stroke="#3A7EA4"><use href="#h" x="520.3" y="1094.9"/><use href="#h" x="610.2" y="1152.1"/><use href="#h" x="412.4" y="1176.7"/><use href="#h" x="682.1" y="1184.8"/><use href="#h" x="340.4" y="1193.0"/><use href="#h" x="352.4" y="1193.0"/><use href="#h" x="712.1" y="1193.0"/></g><g fill="#3981A4" stroke="#3981A4"><use href="#h" x="622.2" y="1152.1"/><use href="#h" x="646.2" y="1152.1"/><use href="#h" x="706.1" y="1168.5"/><use href="#h" x="310.4" y="1201.2"/></g><g fill="#3985A5" stroke="#3985A5"><use href="#h" x="658.2" y="1152.1"/><use href="#h" x="670.1" y="1184.8"/><use href="#h" x="694.1" y="1184.8"/><use href="#h" x="640.2" y="1193.0"/></g><g fill="#3888A6" stroke="#3888A6"><use href="#h" x="544.2" y="1160.3"/><use href="#h" x="688.1" y="1160.3"/><use href="#h" x="502.3" y="1168.5"/><use href="#h" x="448.3" y="1176.7"/><use href="#h" x="688.1" y="1176.7"/><use href="#h" x="328.4" y="1193.0"/><use href="#h" x="592.2" y="1193.0"/></g><g fill="#388BA6" stroke="#388BA6"><use href="#h" x="628.2" y="1193.0"/><use href="#h" x="346.4" y="1217.5"/></g><g fill="#378EA7" stroke="#378EA7"><use href="#h" x="634.2" y="1152.1"/><use href="#h" x="556.2" y="1160.3"/><use href="#h" x="700.1" y="1176.7"/><use href="#h" x="658.2" y="1184.8"/><use href="#h" x="268.5" y="1209.4"/></g><g fill="#3690A8" stroke="#3690A8"><use href="#h" x="640.2" y="1160.3"/><use href="#h" x="694.1" y="1168.5"/><use href="#h" x="382.4" y="1184.8"/></g><g fill="#3593A8" stroke="#3593A8"><use href="#h" x="568.2" y="1160.3"/><use href="#h" x="514.3" y="1168.5"/><use href="#h" x="460.3" y="1176.7"/><use href="#h" x="580.2" y="1193.0"/></g><g fill="#3595A9" stroke="#3595A9"><use href="#h" x="676.1" y="1160.3"/><use href="#h" x="604.2" y="1193.0"/><use href="#h" x="280.5" y="1209.4"/></g><g fill="#3598A9" stroke="#3598A9"><use href="#h" x="628.2" y="1160.3"/><use href="#h" x="634.2" y="1184.8"/><use href="#h" x="616.2" y="1193.0"/><use href="#h" x="334.4" y="1201.2"/></g><g fill="#379AA9" stroke="#379AA9"><use href="#h" x="580.2" y="1160.3"/><use href="#h" x="676.1" y="1176.7"/><use href="#h" x="646.2" y="1184.8"/><use href="#h" x="544.2" y="1193.0"/></g><g fill="#399CA9" stroke="#399CA9"><use href="#h" x="664.1" y="1160.3"/><use href="#h" x="394.4" y="1184.8"/></g><g fill="#3B9EAA" stroke="#3B9EAA"><use href="#h" x="616.2" y="1160.3"/><use href="#h" x="520.3" y="1193.0"/><use href="#h" x="322.4" y="1201.2"/></g><g fill="#3DA0AA" stroke="#3DA0AA"><use href="#h" x="664.1" y="1176.7"/><use href="#h" x="442.3" y="1201.2"/></g><g fill="#3FA1AA" stroke="#3FA1AA"><use href="#h" x="604.2" y="1160.3"/><use href="#h" x="652.2" y="1176.7"/><use href="#h" x="556.2" y="1193.0"/></g><g fill="#40A3AA" stroke="#40A3AA"><use href="#h" x="592.2" y="1160.3"/><use href="#h" x="568.2" y="1193.0"/><use href="#h" x="454.3" y="1201.2"/></g><g fill="#42A5AA" stroke="#42A5AA"><use href="#h" x="652.2" y="1160.3"/><use href="#h" x="346.4" y="1201.2"/><use href="#h" x="430.3" y="1201.2"/><use href="#h" x="364.4" y="1209.4"/></g><g fill="#43A6AA" stroke="#43A6AA"><use href="#h" x="508.3" y="1193.0"/><use href="#h" x="532.3" y="1193.0"/><use href="#h" x="406.4" y="1201.2"/></g><g fill="#46AAAA" stroke="#46AAAA"><use href="#h" x="394.4" y="1201.2"/></g><g fill="#47ABAA" stroke="#47ABAA"><use href="#h" x="622.2" y="1184.8"/><use href="#h" x="364.4" y="1193.0"/><use href="#h" x="292.5" y="1209.4"/><use href="#h" x="316.4" y="1209.4"/></g><g fill="#48ADAB" stroke="#48ADAB"><use href="#h" x="682.1" y="1168.5"/><use href="#h" x="406.4" y="1184.8"/><use href="#h" x="310.4" y="1217.5"/></g><g fill="#4AAEAB" stroke="#4AAEAB"><use href="#h" x="610.2" y="1184.8"/></g><g fill="#4BAFAB" stroke="#4BAFAB"><use href="#h" x="526.3" y="1168.5"/><use href="#h" x="496.3" y="1193.0"/><use href="#h" x="418.4" y="1201.2"/><use href="#h" x="238.5" y="1217.5"/></g><g fill="#4DB2AB" stroke="#4DB2AB"><use href="#h" x="376.4" y="1209.4"/><use href="#h" x="400.4" y="1209.4"/></g><g fill="#4EB3AB" stroke="#4EB3AB"><use href="#h" x="670.1" y="1168.5"/><use href="#h" x="382.4" y="1201.2"/><use href="#h" x="412.4" y="1209.4"/></g><g fill="#4FB5AB" stroke="#4FB5AB"><use href="#h" x="460.3" y="1193.0"/><use href="#h" x="472.3" y="1193.0"/><use href="#h" x="634.2" y="1201.2"/><use href="#h" x="304.4" y="1209.4"/></g><g fill="#51B7AB" stroke="#51B7AB"><use href="#h" x="598.2" y="1184.8"/></g><g fill="#51B8AB" stroke="#51B8AB"><use href="#h" x="538.2" y="1168.5"/><use href="#h" x="370.4" y="1201.2"/><use href="#h" x="388.4" y="1209.4"/></g><g fill="#52B9AB" stroke="#52B9AB"><use href="#h" x="616.2" y="1176.7"/><use href="#h" x="586.2" y="1184.8"/><use href="#h" x="436.3" y="1193.0"/></g><g fill="#53BBAB" stroke="#53BBAB"><use href="#h" x="658.2" y="1168.5"/><use href="#h" x="628.2" y="1176.7"/></g><g fill="#54BCAB" stroke="#54BCAB"><use href="#h" x="472.3" y="1176.7"/></g><g fill="#55BDAB" stroke="#55BDAB"><use href="#h" x="484.3" y="1193.0"/><use href="#h" x="466.3" y="1201.2"/><use href="#h" x="622.2" y="1201.2"/><use href="#h" x="286.5" y="1217.5"/></g><g fill="#55BEAB" stroke="#55BEAB"><use href="#h" x="646.2" y="1168.5"/><use href="#h" x="640.2" y="1176.7"/><use href="#h" x="418.4" y="1184.8"/></g><g fill="#56BFAB" stroke="#56BFAB"><use href="#h" x="598.2" y="1168.5"/></g><g fill="#57C0AB" stroke="#57C0AB"><use href="#h" x="424.3" y="1209.4"/></g><g fill="#57C1AC" stroke="#57C1AC"><use href="#h" x="622.2" y="1168.5"/><use href="#h" x="478.3" y="1201.2"/><use href="#h" x="352.4" y="1209.4"/></g><g fill="#58C2AC" stroke="#58C2AC"><use href="#h" x="574.2" y="1184.8"/><use href="#h" x="424.3" y="1193.0"/><use href="#h" x="448.3" y="1193.0"/><use href="#h" x="340.4" y="1209.4"/><use href="#h" x="262.5" y="1217.5"/></g><g fill="#59C3AC" stroke="#59C3AC"><use href="#h" x="586.2" y="1168.5"/><use href="#h" x="436.3" y="1209.4"/></g><g fill="#59C4AC" stroke="#59C4AC"><use href="#h" x="562.2" y="1184.8"/></g><g fill="#5AC5AC" stroke="#5AC5AC"><use href="#h" x="490.3" y="1201.2"/><use href="#h" x="298.4" y="1217.5"/></g><g fill="#5BC6AC" stroke="#5BC6AC"><use href="#h" x="430.3" y="1184.8"/><use href="#h" x="358.4" y="1201.2"/><use href="#h" x="250.5" y="1217.5"/></g><g fill="#5BC7AC" stroke="#5BC7AC"><use href="#h" x="550.2" y="1168.5"/><use href="#h" x="562.2" y="1168.5"/><use href="#h" x="376.4" y="1193.0"/><use href="#h" x="412.4" y="1193.0"/></g><g fill="#5CC7AC" stroke="#5CC7AC"><use href="#h" x="574.2" y="1168.5"/><use href="#h" x="388.4" y="1193.0"/></g><g fill="#5CC8AC" stroke="#5CC8AC"><use href="#h" x="400.4" y="1193.0"/></g><g fill="#5ECBAC" stroke="#5ECBAC"><use href="#h" x="448.3" y="1209.4"/></g><g fill="#5FCCAC" stroke="#5FCCAC"><use href="#h" x="484.3" y="1176.7"/></g><g fill="#5FCDAC" stroke="#5FCDAC"><use href="#h" x="328.4" y="1209.4"/><use href="#h" x="274.5" y="1217.5"/></g><g fill="#60CEAC" stroke="#60CEAC"><use href="#h" x="610.2" y="1168.5"/><use href="#h" x="634.2" y="1168.5"/><use href="#h" x="526.3" y="1201.2"/></g><g fill="#67D0AE" stroke="#67D0AE"><use href="#h" x="442.3" y="1184.8"/><use href="#h" x="550.2" y="1201.2"/><use href="#h" x="610.2" y="1201.2"/></g><g fill="#6BD1B0" stroke="#6BD1B0"><use href="#h" x="592.2" y="1176.7"/><use href="#h" x="604.2" y="1176.7"/><use href="#h" x="550.2" y="1184.8"/><use href="#h" x="514.3" y="1201.2"/></g><g fill="#6ED2B1" stroke="#6ED2B1"><use href="#h" x="598.2" y="1201.2"/></g><g fill="#70D2B2" stroke="#70D2B2"><use href="#h" x="574.2" y="1201.2"/></g><g fill="#72D3B3" stroke="#72D3B3"><use href="#h" x="490.3" y="1184.8"/></g><g fill="#76D4B4" stroke="#76D4B4"><use href="#h" x="538.2" y="1184.8"/><use href="#h" x="502.3" y="1201.2"/></g><g fill="#77D4B5" stroke="#77D4B5"><use href="#h" x="538.2" y="1201.2"/></g><g fill="#7AD5B6" stroke="#7AD5B6"><use href="#h" x="562.2" y="1201.2"/></g><g fill="#7CD6B7" stroke="#7CD6B7"><use href="#h" x="586.2" y="1201.2"/></g><g fill="#81D7B9" stroke="#81D7B9"><use href="#h" x="508.3" y="1176.7"/></g><g fill="#82D8B9" stroke="#82D8B9"><use href="#h" x="502.3" y="1184.8"/></g><g fill="#83D8BA" stroke="#83D8BA"><use href="#h" x="526.3" y="1184.8"/></g><g fill="#86D9BB" stroke="#86D9BB"><use href="#h" x="514.3" y="1184.8"/></g><g fill="#89DABC" stroke="#89DABC"><use href="#h" x="496.3" y="1176.7"/></g><g fill="#93DDC1" stroke="#93DDC1"><use href="#h" x="580.2" y="1176.7"/></g><g fill="#94DDC1" stroke="#94DDC1"><use href="#h" x="466.3" y="1184.8"/></g><g fill="#96DEC2" stroke="#96DEC2"><use href="#h" x="454.3" y="1184.8"/></g><g fill="#9ADFC4" stroke="#9ADFC4"><use href="#h" x="478.3" y="1184.8"/></g><g fill="#A9E4CB" stroke="#A9E4CB"><use href="#h" x="568.2" y="1176.7"/></g><g fill="#B2E6CF" stroke="#B2E6CF"><use href="#h" x="520.3" y="1176.7"/></g><g fill="#C8EEDA" stroke="#C8EEDA"><use href="#h" x="556.2" y="1176.7"/></g><g fill="#CBEFDC" stroke="#CBEFDC"><use href="#h" x="532.3" y="1176.7"/></g><g fill="#D3F1DF" stroke="#D3F1DF"><use href="#h" x="544.2" y="1176.7"/></g></g><g stroke-width="0.45"><g fill="#0B0405" stroke="#0B0405"><use href="#h" x="646.2" y="874.3"/><use href="#h" x="682.1" y="874.3"/><use href="#h" x="694.1" y="874.3"/><use href="#h" x="652.2" y="882.4"/><use href="#h" x="688.1" y="882.4"/><use href="#h" x="586.2" y="906.9"/><use href="#h" x="670.1" y="906.9"/><use href="#h" x="682.1" y="906.9"/><use href="#h" x="694.1" y="906.9"/><use href="#h" x="592.2" y="915.1"/><use href="#h" x="628.2" y="915.1"/><use href="#h" x="640.2" y="915.1"/><use href="#h" x="652.2" y="915.1"/><use href="#h" x="562.2" y="923.3"/><use href="#h" x="574.2" y="923.3"/><use href="#h" x="598.2" y="923.3"/><use href="#h" x="610.2" y="939.6"/><use href="#h" x="622.2" y="939.6"/><use href="#h" x="556.2" y="947.8"/><use href="#h" x="616.2" y="947.8"/><use href="#h" x="628.2" y="947.8"/><use href="#h" x="652.2" y="947.8"/><use href="#h" x="676.1" y="947.8"/><use href="#h" x="688.1" y="947.8"/><use href="#h" x="700.1" y="947.8"/><use href="#h" x="526.3" y="956.0"/><use href="#h" x="562.2" y="956.0"/><use href="#h" x="574.2" y="956.0"/><use href="#h" x="622.2" y="956.0"/><use href="#h" x="670.1" y="956.0"/><use href="#h" x="556.2" y="964.2"/><use href="#h" x="592.2" y="964.2"/><use href="#h" x="652.2" y="964.2"/><use href="#h" x="664.1" y="964.2"/><use href="#h" x="676.1" y="964.2"/><use href="#h" x="688.1" y="964.2"/><use href="#h" x="700.1" y="964.2"/><use href="#h" x="526.3" y="972.3"/><use href="#h" x="574.2" y="972.3"/><use href="#h" x="598.2" y="972.3"/><use href="#h" x="622.2" y="972.3"/><use href="#h" x="634.2" y="972.3"/><use href="#h" x="646.2" y="972.3"/><use href="#h" x="670.1" y="972.3"/><use href="#h" x="484.3" y="980.5"/><use href="#h" x="496.3" y="980.5"/><use href="#h" x="508.3" y="980.5"/><use href="#h" x="520.3" y="980.5"/><use href="#h" x="580.2" y="980.5"/><use href="#h" x="628.2" y="980.5"/><use href="#h" x="652.2" y="980.5"/><use href="#h" x="676.1" y="980.5"/><use href="#h" x="490.3" y="988.7"/><use href="#h" x="586.2" y="988.7"/><use href="#h" x="610.2" y="988.7"/><use href="#h" x="622.2" y="988.7"/><use href="#h" x="706.1" y="988.7"/><use href="#h" x="472.3" y="996.9"/><use href="#h" x="520.3" y="996.9"/><use href="#h" x="604.2" y="996.9"/><use href="#h" x="688.1" y="996.9"/><use href="#h" x="700.1" y="996.9"/><use href="#h" x="466.3" y="1005.0"/><use href="#h" x="490.3" y="1005.0"/><use href="#h" x="670.1" y="1005.0"/><use href="#h" x="682.1" y="1005.0"/><use href="#h" x="496.3" y="1013.2"/><use href="#h" x="490.3" y="1021.4"/><use href="#h" x="694.1" y="1021.4"/><use href="#h" x="448.3" y="1029.5"/><use href="#h" x="460.3" y="1029.5"/><use href="#h" x="472.3" y="1029.5"/><use href="#h" x="532.3" y="1029.5"/><use href="#h" x="676.1" y="1029.5"/><use href="#h" x="688.1" y="1029.5"/><use href="#h" x="700.1" y="1029.5"/><use href="#h" x="514.3" y="1037.7"/><use href="#h" x="694.1" y="1037.7"/><use href="#h" x="706.1" y="1037.7"/><use href="#h" x="424.3" y="1045.9"/><use href="#h" x="472.3" y="1045.9"/><use href="#h" x="442.3" y="1054.1"/><use href="#h" x="454.3" y="1054.1"/><use href="#h" x="658.2" y="1054.1"/><use href="#h" x="412.4" y="1062.2"/><use href="#h" x="460.3" y="1062.2"/><use href="#h" x="484.3" y="1062.2"/><use href="#h" x="676.1" y="1062.2"/><use href="#h" x="430.3" y="1070.4"/><use href="#h" x="436.3" y="1078.6"/><use href="#h" x="394.4" y="1086.8"/><use href="#h" x="430.3" y="1086.8"/><use href="#h" x="646.2" y="1086.8"/><use href="#h" x="658.2" y="1086.8"/><use href="#h" x="670.1" y="1086.8"/><use href="#h" x="376.4" y="1094.9"/><use href="#h" x="388.4" y="1094.9"/><use href="#h" x="412.4" y="1094.9"/><use href="#h" x="424.3" y="1094.9"/><use href="#h" x="448.3" y="1094.9"/><use href="#h" x="688.1" y="1094.9"/><use href="#h" x="700.1" y="1094.9"/><use href="#h" x="394.4" y="1103.1"/><use href="#h" x="610.2" y="1103.1"/><use href="#h" x="694.1" y="1103.1"/><use href="#h" x="718.1" y="1103.1"/><use href="#h" x="604.2" y="1111.3"/><use href="#h" x="688.1" y="1111.3"/><use href="#h" x="346.4" y="1119.5"/><use href="#h" x="394.4" y="1119.5"/><use href="#h" x="406.4" y="1119.5"/><use href="#h" x="622.2" y="1119.5"/><use href="#h" x="634.2" y="1119.5"/><use href="#h" x="706.1" y="1119.5"/><use href="#h" x="352.4" y="1127.6"/><use href="#h" x="376.4" y="1127.6"/><use href="#h" x="388.4" y="1127.6"/><use href="#h" x="616.2" y="1127.6"/><use href="#h" x="346.4" y="1135.8"/><use href="#h" x="370.4" y="1135.8"/><use href="#h" x="382.4" y="1135.8"/><use href="#h" x="718.1" y="1135.8"/><use href="#h" x="352.4" y="1144.0"/><use href="#h" x="400.4" y="1144.0"/><use href="#h" x="712.1" y="1144.0"/><use href="#h" x="334.4" y="1152.1"/><use href="#h" x="346.4" y="1152.1"/><use href="#h" x="370.4" y="1152.1"/><use href="#h" x="490.3" y="1152.1"/><use href="#h" x="718.1" y="1152.1"/><use href="#h" x="316.4" y="1160.3"/><use href="#h" x="340.4" y="1160.3"/><use href="#h" x="496.3" y="1160.3"/><use href="#h" x="298.4" y="1184.8"/><use href="#h" x="292.5" y="1193.0"/><use href="#h" x="232.5" y="1209.4"/><use href="#h" x="604.2" y="1209.4"/><use href="#h" x="616.2" y="1209.4"/><use href="#h" x="640.2" y="1209.4"/><use href="#h" x="166.6" y="1217.5"/><use href="#h" x="454.3" y="1217.5"/><use href="#h" x="160.6" y="1225.7"/><use href="#h" x="340.4" y="1225.7"/><use href="#h" x="352.4" y="1225.7"/><use href="#h" x="286.5" y="1233.9"/><use href="#h" x="298.4" y="1233.9"/><use href="#h" x="322.4" y="1233.9"/><use href="#h" x="346.4" y="1233.9"/><use href="#h" x="172.6" y="1242.1"/><use href="#h" x="220.5" y="1242.1"/><use href="#h" x="316.4" y="1242.1"/><use href="#h" x="328.4" y="1242.1"/><use href="#h" x="202.5" y="1250.2"/><use href="#h" x="238.5" y="1250.2"/><use href="#h" x="250.5" y="1250.2"/><use href="#h" x="196.5" y="1258.4"/><use href="#h" x="226.5" y="1266.6"/><use href="#h" x="226.5" y="1282.9"/><use href="#h" x="238.5" y="1315.6"/><use href="#h" x="220.5" y="1372.8"/><use href="#h" x="226.5" y="1413.7"/></g><g fill="#291F39" stroke="#291F39"><use href="#h" x="652.2" y="898.8"/><use href="#h" x="634.2" y="906.9"/><use href="#h" x="646.2" y="906.9"/><use href="#h" x="580.2" y="915.1"/><use href="#h" x="616.2" y="915.1"/><use href="#h" x="628.2" y="931.5"/><use href="#h" x="640.2" y="931.5"/><use href="#h" x="586.2" y="939.6"/><use href="#h" x="646.2" y="939.6"/><use href="#h" x="544.2" y="947.8"/><use href="#h" x="592.2" y="947.8"/><use href="#h" x="640.2" y="947.8"/><use href="#h" x="664.1" y="947.8"/><use href="#h" x="706.1" y="956.0"/><use href="#h" x="544.2" y="964.2"/><use href="#h" x="580.2" y="964.2"/><use href="#h" x="604.2" y="964.2"/><use href="#h" x="688.1" y="980.5"/><use href="#h" x="574.2" y="988.7"/><use href="#h" x="646.2" y="988.7"/><use href="#h" x="682.1" y="988.7"/><use href="#h" x="592.2" y="996.9"/><use href="#h" x="538.2" y="1005.0"/><use href="#h" x="586.2" y="1005.0"/><use href="#h" x="460.3" y="1013.2"/><use href="#h" x="508.3" y="1013.2"/><use href="#h" x="454.3" y="1021.4"/><use href="#h" x="478.3" y="1021.4"/><use href="#h" x="514.3" y="1021.4"/><use href="#h" x="712.1" y="1029.5"/><use href="#h" x="454.3" y="1037.7"/><use href="#h" x="484.3" y="1045.9"/><use href="#h" x="496.3" y="1045.9"/><use href="#h" x="508.3" y="1045.9"/><use href="#h" x="664.1" y="1045.9"/><use href="#h" x="490.3" y="1054.1"/><use href="#h" x="502.3" y="1054.1"/><use href="#h" x="682.1" y="1054.1"/><use href="#h" x="694.1" y="1054.1"/><use href="#h" x="664.1" y="1062.2"/><use href="#h" x="466.3" y="1070.4"/><use href="#h" x="670.1" y="1070.4"/><use href="#h" x="424.3" y="1078.6"/><use href="#h" x="664.1" y="1078.6"/><use href="#h" x="406.4" y="1086.8"/><use href="#h" x="442.3" y="1086.8"/><use href="#h" x="628.2" y="1094.9"/><use href="#h" x="676.1" y="1094.9"/><use href="#h" x="418.4" y="1103.1"/><use href="#h" x="442.3" y="1103.1"/><use href="#h" x="682.1" y="1103.1"/><use href="#h" x="706.1" y="1103.1"/><use href="#h" x="364.4" y="1111.3"/><use href="#h" x="616.2" y="1111.3"/><use href="#h" x="628.2" y="1111.3"/><use href="#h" x="664.1" y="1111.3"/><use href="#h" x="676.1" y="1111.3"/><use href="#h" x="382.4" y="1119.5"/><use href="#h" x="418.4" y="1119.5"/><use href="#h" x="598.2" y="1119.5"/><use href="#h" x="400.4" y="1127.6"/><use href="#h" x="406.4" y="1135.8"/><use href="#h" x="388.4" y="1144.0"/><use href="#h" x="460.3" y="1144.0"/><use href="#h" x="700.1" y="1144.0"/><use href="#h" x="352.4" y="1160.3"/><use href="#h" x="412.4" y="1160.3"/><use href="#h" x="460.3" y="1160.3"/><use href="#h" x="472.3" y="1160.3"/><use href="#h" x="736.1" y="1160.3"/><use href="#h" x="370.4" y="1168.5"/><use href="#h" x="742.1" y="1168.5"/><use href="#h" x="742.1" y="1184.8"/><use href="#h" x="280.5" y="1193.0"/><use href="#h" x="730.1" y="1201.2"/><use href="#h" x="628.2" y="1209.4"/><use href="#h" x="166.6" y="1233.9"/><use href="#h" x="274.5" y="1233.9"/><use href="#h" x="196.5" y="1242.1"/><use href="#h" x="208.5" y="1242.1"/><use href="#h" x="232.5" y="1242.1"/><use href="#h" x="244.5" y="1242.1"/><use href="#h" x="292.5" y="1242.1"/><use href="#h" x="304.4" y="1242.1"/></g><g fill="#392C57" stroke="#392C57"><use href="#h" x="622.2" y="906.9"/><use href="#h" x="652.2" y="931.5"/><use href="#h" x="532.3" y="947.8"/><use href="#h" x="568.2" y="947.8"/><use href="#h" x="538.2" y="956.0"/><use href="#h" x="586.2" y="956.0"/><use href="#h" x="532.3" y="964.2"/><use href="#h" x="610.2" y="972.3"/><use href="#h" x="604.2" y="980.5"/><use href="#h" x="514.3" y="988.7"/><use href="#h" x="670.1" y="988.7"/><use href="#h" x="496.3" y="996.9"/><use href="#h" x="664.1" y="996.9"/><use href="#h" x="514.3" y="1005.0"/><use href="#h" x="526.3" y="1005.0"/><use href="#h" x="574.2" y="1005.0"/><use href="#h" x="520.3" y="1013.2"/><use href="#h" x="538.2" y="1021.4"/><use href="#h" x="670.1" y="1037.7"/><use href="#h" x="448.3" y="1045.9"/><use href="#h" x="466.3" y="1054.1"/><use href="#h" x="514.3" y="1054.1"/><use href="#h" x="526.3" y="1054.1"/><use href="#h" x="448.3" y="1078.6"/><use href="#h" x="460.3" y="1078.6"/><use href="#h" x="634.2" y="1086.8"/><use href="#h" x="388.4" y="1111.3"/><use href="#h" x="424.3" y="1111.3"/><use href="#h" x="562.2" y="1119.5"/><use href="#h" x="646.2" y="1119.5"/><use href="#h" x="658.2" y="1119.5"/><use href="#h" x="544.2" y="1127.6"/><use href="#h" x="412.4" y="1144.0"/><use href="#h" x="376.4" y="1160.3"/><use href="#h" x="424.3" y="1160.3"/><use href="#h" x="334.4" y="1168.5"/><use href="#h" x="328.4" y="1176.7"/><use href="#h" x="310.4" y="1184.8"/><use href="#h" x="322.4" y="1184.8"/><use href="#h" x="736.1" y="1193.0"/><use href="#h" x="250.5" y="1201.2"/><use href="#h" x="304.4" y="1225.7"/><use href="#h" x="316.4" y="1225.7"/><use href="#h" x="190.5" y="1233.9"/></g><g fill="#3B3A6A" stroke="#3B3A6A"><use href="#h" x="550.2" y="939.6"/><use href="#h" x="592.2" y="980.5"/><use href="#h" x="568.2" y="996.9"/><use href="#h" x="628.2" y="996.9"/><use href="#h" x="640.2" y="996.9"/><use href="#h" x="544.2" y="1013.2"/><use href="#h" x="676.1" y="1013.2"/><use href="#h" x="670.1" y="1021.4"/><use href="#h" x="616.2" y="1094.9"/><use href="#h" x="460.3" y="1111.3"/><use href="#h" x="460.3" y="1127.6"/><use href="#h" x="604.2" y="1127.6"/><use href="#h" x="442.3" y="1135.8"/><use href="#h" x="382.4" y="1152.1"/><use href="#h" x="406.4" y="1152.1"/><use href="#h" x="478.3" y="1168.5"/><use href="#h" x="178.6" y="1217.5"/><use href="#h" x="172.6" y="1225.7"/><use href="#h" x="250.5" y="1233.9"/><use href="#h" x="262.5" y="1233.9"/></g><g fill="#3C4479" stroke="#3C4479"><use href="#h" x="676.1" y="915.1"/><use href="#h" x="658.2" y="923.3"/><use href="#h" x="640.2" y="964.2"/><use href="#h" x="502.3" y="988.7"/><use href="#h" x="484.3" y="996.9"/><use href="#h" x="430.3" y="1119.5"/><use href="#h" x="694.1" y="1119.5"/><use href="#h" x="568.2" y="1127.6"/><use href="#h" x="700.1" y="1127.6"/><use href="#h" x="466.3" y="1135.8"/><use href="#h" x="550.2" y="1135.8"/><use href="#h" x="694.1" y="1135.8"/><use href="#h" x="484.3" y="1144.0"/><use href="#h" x="430.3" y="1152.1"/><use href="#h" x="724.1" y="1160.3"/><use href="#h" x="358.4" y="1168.5"/><use href="#h" x="184.5" y="1225.7"/></g><g fill="#3B4D86" stroke="#3B4D86"><use href="#h" x="490.3" y="1070.4"/><use href="#h" x="514.3" y="1070.4"/><use href="#h" x="472.3" y="1111.3"/><use href="#h" x="454.3" y="1119.5"/><use href="#h" x="478.3" y="1119.5"/><use href="#h" x="436.3" y="1127.6"/><use href="#h" x="562.2" y="1135.8"/><use href="#h" x="424.3" y="1144.0"/><use href="#h" x="472.3" y="1144.0"/><use href="#h" x="454.3" y="1152.1"/><use href="#h" x="478.3" y="1152.1"/><use href="#h" x="736.1" y="1176.7"/><use href="#h" x="262.5" y="1201.2"/></g><g fill="#3B5590" stroke="#3B5590"><use href="#h" x="526.3" y="1037.7"/><use href="#h" x="532.3" y="1062.2"/><use href="#h" x="502.3" y="1070.4"/><use href="#h" x="448.3" y="1111.3"/><use href="#h" x="472.3" y="1127.6"/><use href="#h" x="454.3" y="1135.8"/><use href="#h" x="490.3" y="1135.8"/><use href="#h" x="718.1" y="1201.2"/><use href="#h" x="592.2" y="1209.4"/></g><g fill="#395C9A" stroke="#395C9A"><use href="#h" x="508.3" y="1062.2"/><use href="#h" x="526.3" y="1070.4"/><use href="#h" x="550.2" y="1119.5"/><use href="#h" x="274.5" y="1201.2"/></g><g fill="#3A629D" stroke="#3A629D"><use href="#h" x="484.3" y="1127.6"/><use href="#h" x="244.5" y="1209.4"/></g><g fill="#3A689F" stroke="#3A689F"><use href="#h" x="490.3" y="1168.5"/><use href="#h" x="442.3" y="1217.5"/></g><g fill="#3A6DA0" stroke="#3A6DA0"><use href="#h" x="190.5" y="1217.5"/></g><g fill="#3B72A1" stroke="#3B72A1"><use href="#h" x="430.3" y="1217.5"/></g><g fill="#3A7AA3" stroke="#3A7AA3"><use href="#h" x="418.4" y="1217.5"/></g><g fill="#3981A4" stroke="#3981A4"><use href="#h" x="694.1" y="1201.2"/><use href="#h" x="706.1" y="1201.2"/><use href="#h" x="202.5" y="1217.5"/></g><g fill="#3888A6" stroke="#3888A6"><use href="#h" x="580.2" y="1209.4"/></g><g fill="#378EA7" stroke="#378EA7"><use href="#h" x="334.4" y="1217.5"/><use href="#h" x="394.4" y="1217.5"/><use href="#h" x="406.4" y="1217.5"/></g><g fill="#3690A8" stroke="#3690A8"><use href="#h" x="682.1" y="1201.2"/></g><g fill="#379AA9" stroke="#379AA9"><use href="#h" x="670.1" y="1201.2"/></g><g fill="#3DA0AA" stroke="#3DA0AA"><use href="#h" x="214.5" y="1217.5"/></g><g fill="#42A5AA" stroke="#42A5AA"><use href="#h" x="658.2" y="1201.2"/><use href="#h" x="382.4" y="1217.5"/></g><g fill="#47ABAA" stroke="#47ABAA"><use href="#h" x="568.2" y="1209.4"/></g><g fill="#4BAFAB" stroke="#4BAFAB"><use href="#h" x="646.2" y="1201.2"/><use href="#h" x="226.5" y="1217.5"/></g><g fill="#4DB2AB" stroke="#4DB2AB"><use href="#h" x="322.4" y="1217.5"/><use href="#h" x="370.4" y="1217.5"/></g><g fill="#58C2AC" stroke="#58C2AC"><use href="#h" x="358.4" y="1217.5"/></g><g fill="#5AC5AC" stroke="#5AC5AC"><use href="#h" x="472.3" y="1209.4"/></g><g fill="#5BC7AC" stroke="#5BC7AC"><use href="#h" x="460.3" y="1209.4"/></g><g fill="#60CDAC" stroke="#60CDAC"><use href="#h" x="544.2" y="1209.4"/></g><g fill="#67D0AE" stroke="#67D0AE"><use href="#h" x="556.2" y="1209.4"/></g><g fill="#6DD1B1" stroke="#6DD1B1"><use href="#h" x="508.3" y="1209.4"/></g><g fill="#74D3B3" stroke="#74D3B3"><use href="#h" x="484.3" y="1209.4"/></g><g fill="#79D5B5" stroke="#79D5B5"><use href="#h" x="520.3" y="1209.4"/></g><g fill="#7CD6B7" stroke="#7CD6B7"><use href="#h" x="532.3" y="1209.4"/></g><g fill="#7ED6B7" stroke="#7ED6B7"><use href="#h" x="496.3" y="1209.4"/></g></g><line x1="165.3" y1="1226.8" x2="743.5" y2="1133.8" stroke="#E5303F" stroke-width="2.6"/></g>
</g>
<g>
<rect x="938" y="820.0" width="798" height="3" fill="#EBEBEB"/>
<rect x="938" y="1017.0" width="798" height="3" fill="#EBEBEB"/>
<rect x="938" y="1214.0" width="798" height="3" fill="#EBEBEB"/>
<rect x="938" y="1412.0" width="798" height="3" fill="#EBEBEB"/>
<rect x="1051.0" y="813" width="3" height="629" fill="#EBEBEB"/>
<rect x="1228.0" y="813" width="3" height="629" fill="#EBEBEB"/>
<rect x="1405.0" y="813" width="3" height="629" fill="#EBEBEB"/>
<rect x="1582.0" y="813" width="3" height="629" fill="#EBEBEB"/>
<text x="1337.5" y="799" font-size="26" font-weight="bold" fill="#1A1A1A" text-anchor="middle">Autumn</text>
<g stroke-linejoin="round"><g stroke-width="1.00"><g fill="#0B0405" stroke="#0B0405"><use href="#h" x="1460.2" y="1031.3"/><use href="#h" x="1364.2" y="1047.7"/><use href="#h" x="1406.2" y="1055.8"/><use href="#h" x="1526.1" y="1055.8"/><use href="#h" x="1376.2" y="1064.0"/><use href="#h" x="1430.2" y="1072.2"/><use href="#h" x="1622.0" y="1072.2"/><use href="#h" x="1334.3" y="1088.5"/><use href="#h" x="1556.1" y="1096.7"/><use href="#h" x="1274.3" y="1104.9"/><use href="#h" x="1322.3" y="1104.9"/><use href="#h" x="1598.0" y="1104.9"/><use href="#h" x="1586.1" y="1121.2"/><use href="#h" x="1562.1" y="1170.3"/></g><g fill="#291F39" stroke="#291F39"><use href="#h" x="1454.2" y="1023.1"/><use href="#h" x="1418.2" y="1039.5"/><use href="#h" x="1358.2" y="1055.8"/><use href="#h" x="1382.2" y="1055.8"/><use href="#h" x="1388.2" y="1064.0"/><use href="#h" x="1322.3" y="1072.2"/><use href="#h" x="1346.3" y="1072.2"/><use href="#h" x="1400.2" y="1080.3"/><use href="#h" x="1298.3" y="1088.5"/><use href="#h" x="1310.3" y="1088.5"/><use href="#h" x="1292.3" y="1096.7"/><use href="#h" x="1298.3" y="1104.9"/><use href="#h" x="1514.1" y="1104.9"/><use href="#h" x="1580.1" y="1113.0"/><use href="#h" x="1592.0" y="1113.0"/><use href="#h" x="1610.0" y="1121.2"/><use href="#h" x="1286.3" y="1137.6"/><use href="#h" x="1610.0" y="1137.6"/><use href="#h" x="1244.3" y="1145.7"/><use href="#h" x="1280.3" y="1145.7"/><use href="#h" x="1616.0" y="1145.7"/><use href="#h" x="1610.0" y="1153.9"/><use href="#h" x="1406.2" y="1186.6"/><use href="#h" x="1454.2" y="1186.6"/><use href="#h" x="1466.2" y="1186.6"/></g><g fill="#392C57" stroke="#392C57"><use href="#h" x="1448.2" y="1031.3"/><use href="#h" x="1406.2" y="1039.5"/><use href="#h" x="1400.2" y="1047.7"/><use href="#h" x="1418.2" y="1055.8"/><use href="#h" x="1400.2" y="1064.0"/><use href="#h" x="1412.2" y="1064.0"/><use href="#h" x="1424.2" y="1064.0"/><use href="#h" x="1358.2" y="1072.2"/><use href="#h" x="1406.2" y="1072.2"/><use href="#h" x="1442.2" y="1072.2"/><use href="#h" x="1490.1" y="1072.2"/><use href="#h" x="1304.3" y="1080.3"/><use href="#h" x="1316.3" y="1080.3"/><use href="#h" x="1322.3" y="1088.5"/><use href="#h" x="1538.1" y="1088.5"/><use href="#h" x="1610.0" y="1088.5"/><use href="#h" x="1316.3" y="1096.7"/><use href="#h" x="1544.1" y="1096.7"/><use href="#h" x="1568.1" y="1096.7"/><use href="#h" x="1616.0" y="1096.7"/><use href="#h" x="1310.3" y="1104.9"/><use href="#h" x="1526.1" y="1104.9"/><use href="#h" x="1538.1" y="1104.9"/><use href="#h" x="1610.0" y="1104.9"/><use href="#h" x="1508.1" y="1113.0"/><use href="#h" x="1598.0" y="1121.2"/><use href="#h" x="1352.2" y="1129.4"/><use href="#h" x="1562.1" y="1186.6"/></g><g fill="#3B3A6A" stroke="#3B3A6A"><use href="#h" x="1412.2" y="1047.7"/><use href="#h" x="1394.2" y="1055.8"/><use href="#h" x="1352.2" y="1064.0"/><use href="#h" x="1436.2" y="1064.0"/><use href="#h" x="1382.2" y="1072.2"/><use href="#h" x="1394.2" y="1072.2"/><use href="#h" x="1292.3" y="1080.3"/><use href="#h" x="1340.3" y="1080.3"/><use href="#h" x="1364.2" y="1080.3"/><use href="#h" x="1388.2" y="1080.3"/><use href="#h" x="1346.3" y="1088.5"/><use href="#h" x="1394.2" y="1088.5"/><use href="#h" x="1586.1" y="1088.5"/><use href="#h" x="1598.0" y="1088.5"/><use href="#h" x="1304.3" y="1096.7"/><use href="#h" x="1340.3" y="1096.7"/><use href="#h" x="1520.1" y="1096.7"/><use href="#h" x="1532.1" y="1096.7"/><use href="#h" x="1592.0" y="1096.7"/><use href="#h" x="1286.3" y="1104.9"/><use href="#h" x="1442.2" y="1104.9"/><use href="#h" x="1406.2" y="1121.2"/><use href="#h" x="1562.1" y="1121.2"/><use href="#h" x="1574.1" y="1121.2"/><use href="#h" x="1508.1" y="1129.4"/><use href="#h" x="1556.1" y="1129.4"/><use href="#h" x="1616.0" y="1129.4"/><use href="#h" x="1298.3" y="1137.6"/><use href="#h" x="1310.3" y="1137.6"/><use href="#h" x="1358.2" y="1137.6"/><use href="#h" x="1598.0" y="1137.6"/><use href="#h" x="1292.3" y="1145.7"/><use href="#h" x="1604.0" y="1145.7"/><use href="#h" x="1586.1" y="1153.9"/><use href="#h" x="1598.0" y="1153.9"/><use href="#h" x="1394.2" y="1186.6"/></g><g fill="#3C4479" stroke="#3C4479"><use href="#h" x="1364.2" y="1064.0"/><use href="#h" x="1370.2" y="1072.2"/><use href="#h" x="1418.2" y="1072.2"/><use href="#h" x="1352.2" y="1080.3"/><use href="#h" x="1616.0" y="1080.3"/><use href="#h" x="1358.2" y="1088.5"/><use href="#h" x="1454.2" y="1104.9"/><use href="#h" x="1448.2" y="1113.0"/><use href="#h" x="1418.2" y="1121.2"/><use href="#h" x="1496.1" y="1129.4"/><use href="#h" x="1592.0" y="1129.4"/><use href="#h" x="1604.0" y="1129.4"/><use href="#h" x="1304.3" y="1145.7"/><use href="#h" x="1244.3" y="1162.1"/><use href="#h" x="1568.1" y="1162.1"/></g><g fill="#3B5590" stroke="#3B5590"><use href="#h" x="1370.2" y="1137.6"/><use href="#h" x="1316.3" y="1145.7"/><use href="#h" x="1172.4" y="1178.4"/></g><g fill="#395C9A" stroke="#395C9A"><use href="#h" x="1370.2" y="1055.8"/><use href="#h" x="1334.3" y="1072.2"/><use href="#h" x="1328.3" y="1080.3"/><use href="#h" x="1376.2" y="1080.3"/><use href="#h" x="1328.3" y="1096.7"/><use href="#h" x="1352.2" y="1096.7"/><use href="#h" x="1508.1" y="1096.7"/><use href="#h" x="1580.1" y="1096.7"/><use href="#h" x="1604.0" y="1096.7"/><use href="#h" x="1466.2" y="1104.9"/><use href="#h" x="1550.1" y="1104.9"/><use href="#h" x="1574.1" y="1104.9"/><use href="#h" x="1586.1" y="1104.9"/><use href="#h" x="1436.2" y="1113.0"/><use href="#h" x="1460.2" y="1113.0"/><use href="#h" x="1472.2" y="1113.0"/><use href="#h" x="1520.1" y="1113.0"/><use href="#h" x="1532.1" y="1113.0"/><use href="#h" x="1544.1" y="1113.0"/><use href="#h" x="1556.1" y="1113.0"/><use href="#h" x="1568.1" y="1113.0"/><use href="#h" x="1604.0" y="1113.0"/><use href="#h" x="1430.2" y="1121.2"/><use href="#h" x="1442.2" y="1121.2"/><use href="#h" x="1466.2" y="1121.2"/><use href="#h" x="1502.1" y="1121.2"/><use href="#h" x="1550.1" y="1121.2"/><use href="#h" x="1388.2" y="1129.4"/><use href="#h" x="1400.2" y="1129.4"/><use href="#h" x="1412.2" y="1129.4"/><use href="#h" x="1424.2" y="1129.4"/><use href="#h" x="1568.1" y="1129.4"/><use href="#h" x="1580.1" y="1129.4"/><use href="#h" x="1562.1" y="1137.6"/><use href="#h" x="1574.1" y="1137.6"/><use href="#h" x="1586.1" y="1137.6"/><use href="#h" x="1580.1" y="1145.7"/><use href="#h" x="1592.0" y="1145.7"/><use href="#h" x="1298.3" y="1153.9"/><use href="#h" x="1574.1" y="1153.9"/></g><g fill="#3A629D" stroke="#3A629D"><use href="#h" x="1382.2" y="1137.6"/><use href="#h" x="1286.3" y="1153.9"/><use href="#h" x="1214.4" y="1170.3"/><use href="#h" x="1502.1" y="1170.3"/><use href="#h" x="1184.4" y="1178.4"/><use href="#h" x="1154.4" y="1186.6"/><use href="#h" x="1022.5" y="1219.3"/></g><g fill="#3A689F" stroke="#3A689F"><use href="#h" x="1532.1" y="1129.4"/><use href="#h" x="1532.1" y="1162.1"/><use href="#h" x="1226.4" y="1170.3"/><use href="#h" x="1382.2" y="1186.6"/><use href="#h" x="1352.2" y="1194.8"/><use href="#h" x="1106.5" y="1202.9"/></g><g fill="#3A6DA0" stroke="#3A6DA0"><use href="#h" x="1406.2" y="1137.6"/><use href="#h" x="1460.2" y="1178.4"/><use href="#h" x="1472.2" y="1178.4"/><use href="#h" x="1316.3" y="1194.8"/><use href="#h" x="1340.3" y="1194.8"/></g><g fill="#3B72A1" stroke="#3B72A1"><use href="#h" x="1394.2" y="1137.6"/><use href="#h" x="1322.3" y="1153.9"/></g><g fill="#3A76A2" stroke="#3A76A2"><use href="#h" x="1448.2" y="1178.4"/><use href="#h" x="1136.4" y="1194.8"/><use href="#h" x="1292.3" y="1194.8"/></g><g fill="#3A7AA3" stroke="#3A7AA3"><use href="#h" x="1562.1" y="1104.9"/><use href="#h" x="1454.2" y="1121.2"/><use href="#h" x="1478.1" y="1121.2"/><use href="#h" x="1490.1" y="1121.2"/><use href="#h" x="1514.1" y="1121.2"/><use href="#h" x="1526.1" y="1121.2"/><use href="#h" x="1538.1" y="1121.2"/><use href="#h" x="1436.2" y="1129.4"/><use href="#h" x="1448.2" y="1129.4"/><use href="#h" x="1460.2" y="1129.4"/><use href="#h" x="1520.1" y="1129.4"/><use href="#h" x="1430.2" y="1137.6"/><use href="#h" x="1514.1" y="1137.6"/><use href="#h" x="1550.1" y="1137.6"/><use href="#h" x="1556.1" y="1145.7"/><use href="#h" x="1568.1" y="1145.7"/><use href="#h" x="1310.3" y="1153.9"/><use href="#h" x="1550.1" y="1153.9"/><use href="#h" x="1562.1" y="1153.9"/><use href="#h" x="1544.1" y="1162.1"/><use href="#h" x="1556.1" y="1162.1"/><use href="#h" x="1196.4" y="1178.4"/></g><g fill="#3A7EA4" stroke="#3A7EA4"><use href="#h" x="1526.1" y="1137.6"/><use href="#h" x="1328.3" y="1194.8"/><use href="#h" x="1376.2" y="1194.8"/><use href="#h" x="1034.5" y="1219.3"/></g><g fill="#3981A4" stroke="#3981A4"><use href="#h" x="1442.2" y="1137.6"/><use href="#h" x="1454.2" y="1137.6"/><use href="#h" x="1364.2" y="1145.7"/><use href="#h" x="1520.1" y="1162.1"/><use href="#h" x="1490.1" y="1170.3"/><use href="#h" x="1280.3" y="1194.8"/><use href="#h" x="1304.3" y="1194.8"/><use href="#h" x="1118.4" y="1202.9"/></g><g fill="#3985A5" stroke="#3985A5"><use href="#h" x="1238.3" y="1170.3"/><use href="#h" x="1166.4" y="1186.6"/><use href="#h" x="1448.2" y="1194.8"/></g><g fill="#3888A6" stroke="#3888A6"><use href="#h" x="1418.2" y="1137.6"/><use href="#h" x="1280.3" y="1162.1"/><use href="#h" x="1364.2" y="1194.8"/></g><g fill="#388BA6" stroke="#388BA6"><use href="#h" x="1538.1" y="1137.6"/><use href="#h" x="1292.3" y="1162.1"/></g><g fill="#378EA7" stroke="#378EA7"><use href="#h" x="1376.2" y="1145.7"/><use href="#h" x="1388.2" y="1145.7"/><use href="#h" x="1508.1" y="1162.1"/><use href="#h" x="1472.2" y="1194.8"/></g><g fill="#3690A8" stroke="#3690A8"><use href="#h" x="1466.2" y="1137.6"/><use href="#h" x="1358.2" y="1153.9"/><use href="#h" x="1538.1" y="1153.9"/><use href="#h" x="1208.4" y="1178.4"/><use href="#h" x="1370.2" y="1186.6"/></g><g fill="#3593A8" stroke="#3593A8"><use href="#h" x="1502.1" y="1137.6"/><use href="#h" x="1532.1" y="1145.7"/><use href="#h" x="1250.3" y="1170.3"/><use href="#h" x="1148.4" y="1194.8"/></g><g fill="#3595A9" stroke="#3595A9"><use href="#h" x="1478.1" y="1137.6"/><use href="#h" x="1508.1" y="1145.7"/><use href="#h" x="1520.1" y="1145.7"/></g><g fill="#3598A9" stroke="#3598A9"><use href="#h" x="1412.2" y="1145.7"/><use href="#h" x="1316.3" y="1162.1"/><use href="#h" x="1412.2" y="1178.4"/><use href="#h" x="1460.2" y="1194.8"/></g><g fill="#379AA9" stroke="#379AA9"><use href="#h" x="1472.2" y="1129.4"/><use href="#h" x="1484.1" y="1129.4"/><use href="#h" x="1544.1" y="1129.4"/><use href="#h" x="1400.2" y="1145.7"/><use href="#h" x="1448.2" y="1145.7"/><use href="#h" x="1544.1" y="1145.7"/><use href="#h" x="1328.3" y="1162.1"/><use href="#h" x="1268.3" y="1194.8"/></g><g fill="#399CA9" stroke="#399CA9"><use href="#h" x="1382.2" y="1153.9"/><use href="#h" x="1304.3" y="1162.1"/><use href="#h" x="1388.2" y="1194.8"/></g><g fill="#3B9EAA" stroke="#3B9EAA"><use href="#h" x="1472.2" y="1145.7"/><use href="#h" x="1400.2" y="1194.8"/><use href="#h" x="1130.4" y="1202.9"/></g><g fill="#3DA0AA" stroke="#3DA0AA"><use href="#h" x="1490.1" y="1137.6"/><use href="#h" x="1436.2" y="1145.7"/><use href="#h" x="1460.2" y="1145.7"/><use href="#h" x="1496.1" y="1145.7"/><use href="#h" x="1478.1" y="1170.3"/></g><g fill="#3FA1AA" stroke="#3FA1AA"><use href="#h" x="1484.1" y="1145.7"/><use href="#h" x="1370.2" y="1153.9"/><use href="#h" x="1514.1" y="1153.9"/><use href="#h" x="1358.2" y="1186.6"/><use href="#h" x="1256.3" y="1194.8"/><use href="#h" x="1412.2" y="1194.8"/><use href="#h" x="1160.4" y="1211.1"/></g><g fill="#40A3AA" stroke="#40A3AA"><use href="#h" x="1394.2" y="1153.9"/></g><g fill="#42A5AA" stroke="#42A5AA"><use href="#h" x="1424.2" y="1145.7"/><use href="#h" x="1526.1" y="1153.9"/></g><g fill="#43A6AA" stroke="#43A6AA"><use href="#h" x="1262.3" y="1170.3"/><use href="#h" x="1220.4" y="1178.4"/></g><g fill="#45A8AA" stroke="#45A8AA"><use href="#h" x="1418.2" y="1153.9"/><use href="#h" x="1088.5" y="1211.1"/></g><g fill="#46AAAA" stroke="#46AAAA"><use href="#h" x="1496.1" y="1162.1"/></g><g fill="#47ABAA" stroke="#47ABAA"><use href="#h" x="1340.3" y="1162.1"/><use href="#h" x="1352.2" y="1162.1"/><use href="#h" x="1274.3" y="1170.3"/><use href="#h" x="1454.2" y="1170.3"/><use href="#h" x="1178.4" y="1186.6"/></g><g fill="#48ADAB" stroke="#48ADAB"><use href="#h" x="1466.2" y="1170.3"/><use href="#h" x="1400.2" y="1178.4"/></g><g fill="#4AAEAB" stroke="#4AAEAB"><use href="#h" x="1430.2" y="1153.9"/><use href="#h" x="1520.1" y="1194.8"/></g><g fill="#4BAFAB" stroke="#4BAFAB"><use href="#h" x="1454.2" y="1153.9"/></g><g fill="#4CB1AB" stroke="#4CB1AB"><use href="#h" x="1502.1" y="1153.9"/><use href="#h" x="1160.4" y="1194.8"/></g><g fill="#4DB2AB" stroke="#4DB2AB"><use href="#h" x="1406.2" y="1153.9"/></g><g fill="#4EB3AB" stroke="#4EB3AB"><use href="#h" x="1478.1" y="1153.9"/><use href="#h" x="1490.1" y="1153.9"/><use href="#h" x="1232.3" y="1178.4"/><use href="#h" x="1232.3" y="1194.8"/><use href="#h" x="1172.4" y="1211.1"/></g><g fill="#4FB5AB" stroke="#4FB5AB"><use href="#h" x="1466.2" y="1153.9"/><use href="#h" x="1298.3" y="1170.3"/></g><g fill="#50B6AB" stroke="#50B6AB"><use href="#h" x="1364.2" y="1162.1"/></g><g fill="#51B7AB" stroke="#51B7AB"><use href="#h" x="1442.2" y="1153.9"/><use href="#h" x="1286.3" y="1170.3"/><use href="#h" x="1334.3" y="1170.3"/><use href="#h" x="1244.3" y="1194.8"/></g><g fill="#52B9AB" stroke="#52B9AB"><use href="#h" x="1190.4" y="1186.6"/><use href="#h" x="1214.4" y="1202.9"/></g><g fill="#54BCAB" stroke="#54BCAB"><use href="#h" x="1310.3" y="1170.3"/><use href="#h" x="1226.4" y="1202.9"/><use href="#h" x="1100.5" y="1211.1"/></g><g fill="#55BDAB" stroke="#55BDAB"><use href="#h" x="1346.3" y="1186.6"/></g><g fill="#55BEAB" stroke="#55BEAB"><use href="#h" x="1202.4" y="1202.9"/><use href="#h" x="1148.4" y="1211.1"/></g><g fill="#56BFAB" stroke="#56BFAB"><use href="#h" x="1202.4" y="1186.6"/></g><g fill="#57C0AB" stroke="#57C0AB"><use href="#h" x="1400.2" y="1162.1"/></g><g fill="#57C1AC" stroke="#57C1AC"><use href="#h" x="1376.2" y="1162.1"/><use href="#h" x="1388.2" y="1178.4"/></g><g fill="#58C2AC" stroke="#58C2AC"><use href="#h" x="1196.4" y="1194.8"/></g><g fill="#59C3AC" stroke="#59C3AC"><use href="#h" x="1166.4" y="1202.9"/></g><g fill="#59C4AC" stroke="#59C4AC"><use href="#h" x="1142.4" y="1202.9"/><use href="#h" x="1178.4" y="1202.9"/><use href="#h" x="1238.3" y="1202.9"/><use href="#h" x="1196.4" y="1211.1"/></g><g fill="#5AC5AC" stroke="#5AC5AC"><use href="#h" x="1388.2" y="1162.1"/><use href="#h" x="1484.1" y="1162.1"/><use href="#h" x="1442.2" y="1170.3"/><use href="#h" x="1244.3" y="1178.4"/></g><g fill="#5BC7AC" stroke="#5BC7AC"><use href="#h" x="1412.2" y="1162.1"/><use href="#h" x="1472.2" y="1162.1"/><use href="#h" x="1214.4" y="1186.6"/><use href="#h" x="1184.4" y="1194.8"/></g><g fill="#5CC7AC" stroke="#5CC7AC"><use href="#h" x="1346.3" y="1170.3"/><use href="#h" x="1298.3" y="1186.6"/><use href="#h" x="1322.3" y="1202.9"/><use href="#h" x="1112.5" y="1211.1"/></g><g fill="#5CC8AC" stroke="#5CC8AC"><use href="#h" x="1460.2" y="1162.1"/><use href="#h" x="1190.4" y="1202.9"/></g><g fill="#5DC9AC" stroke="#5DC9AC"><use href="#h" x="1424.2" y="1162.1"/><use href="#h" x="1136.4" y="1211.1"/></g><g fill="#5ECAAC" stroke="#5ECAAC"><use href="#h" x="1322.3" y="1170.3"/><use href="#h" x="1208.4" y="1194.8"/><use href="#h" x="1250.3" y="1202.9"/><use href="#h" x="1124.4" y="1211.1"/></g><g fill="#5ECBAC" stroke="#5ECBAC"><use href="#h" x="1448.2" y="1162.1"/></g><g fill="#5FCCAC" stroke="#5FCCAC"><use href="#h" x="1220.4" y="1194.8"/></g><g fill="#5FCDAC" stroke="#5FCDAC"><use href="#h" x="1436.2" y="1162.1"/><use href="#h" x="1334.3" y="1186.6"/></g><g fill="#60CDAC" stroke="#60CDAC"><use href="#h" x="1310.3" y="1202.9"/></g><g fill="#60CEAC" stroke="#60CEAC"><use href="#h" x="1238.3" y="1186.6"/><use href="#h" x="1286.3" y="1186.6"/></g><g fill="#63CFAD" stroke="#63CFAD"><use href="#h" x="1430.2" y="1170.3"/><use href="#h" x="1250.3" y="1186.6"/><use href="#h" x="1172.4" y="1194.8"/><use href="#h" x="1154.4" y="1202.9"/><use href="#h" x="1286.3" y="1202.9"/><use href="#h" x="1220.4" y="1211.1"/></g><g fill="#65CFAE" stroke="#65CFAE"><use href="#h" x="1256.3" y="1178.4"/><use href="#h" x="1310.3" y="1186.6"/><use href="#h" x="1322.3" y="1186.6"/></g><g fill="#69D0AF" stroke="#69D0AF"><use href="#h" x="1274.3" y="1186.6"/><use href="#h" x="1274.3" y="1202.9"/></g><g fill="#6BD1B0" stroke="#6BD1B0"><use href="#h" x="1262.3" y="1186.6"/><use href="#h" x="1262.3" y="1202.9"/></g><g fill="#70D2B2" stroke="#70D2B2"><use href="#h" x="1334.3" y="1202.9"/><use href="#h" x="1208.4" y="1211.1"/></g><g fill="#7AD5B6" stroke="#7AD5B6"><use href="#h" x="1298.3" y="1202.9"/></g><g fill="#7CD6B7" stroke="#7CD6B7"><use href="#h" x="1358.2" y="1170.3"/></g><g fill="#81D7B9" stroke="#81D7B9"><use href="#h" x="1184.4" y="1211.1"/></g><g fill="#82D8B9" stroke="#82D8B9"><use href="#h" x="1370.2" y="1170.3"/></g><g fill="#91DCC0" stroke="#91DCC0"><use href="#h" x="1292.3" y="1178.4"/></g><g fill="#92DCC0" stroke="#92DCC0"><use href="#h" x="1268.3" y="1178.4"/><use href="#h" x="1226.4" y="1186.6"/></g><g fill="#A2E1C7" stroke="#A2E1C7"><use href="#h" x="1382.2" y="1170.3"/></g><g fill="#A5E2C9" stroke="#A5E2C9"><use href="#h" x="1376.2" y="1178.4"/></g><g fill="#A6E3C9" stroke="#A6E3C9"><use href="#h" x="1304.3" y="1178.4"/></g><g fill="#A7E3CA" stroke="#A7E3CA"><use href="#h" x="1394.2" y="1170.3"/></g><g fill="#A8E3CA" stroke="#A8E3CA"><use href="#h" x="1280.3" y="1178.4"/></g><g fill="#A9E4CB" stroke="#A9E4CB"><use href="#h" x="1418.2" y="1170.3"/></g><g fill="#B1E6CE" stroke="#B1E6CE"><use href="#h" x="1316.3" y="1178.4"/></g><g fill="#B8E9D2" stroke="#B8E9D2"><use href="#h" x="1328.3" y="1178.4"/></g><g fill="#C9EEDB" stroke="#C9EEDB"><use href="#h" x="1406.2" y="1170.3"/></g><g fill="#CBEFDB" stroke="#CBEFDB"><use href="#h" x="1340.3" y="1178.4"/></g><g fill="#D1F1DF" stroke="#D1F1DF"><use href="#h" x="1364.2" y="1178.4"/></g><g fill="#D3F1DF" stroke="#D3F1DF"><use href="#h" x="1352.2" y="1178.4"/></g></g><g stroke-width="0.45"><g fill="#0B0405" stroke="#0B0405"><use href="#h" x="1646.0" y="892.4"/><use href="#h" x="1640.0" y="900.5"/><use href="#h" x="1490.1" y="925.1"/><use href="#h" x="1478.1" y="941.4"/><use href="#h" x="1448.2" y="949.6"/><use href="#h" x="1460.2" y="949.6"/><use href="#h" x="1442.2" y="957.7"/><use href="#h" x="1454.2" y="957.7"/><use href="#h" x="1550.1" y="957.7"/><use href="#h" x="1388.2" y="965.9"/><use href="#h" x="1412.2" y="965.9"/><use href="#h" x="1460.2" y="965.9"/><use href="#h" x="1496.1" y="965.9"/><use href="#h" x="1544.1" y="965.9"/><use href="#h" x="1580.1" y="965.9"/><use href="#h" x="1406.2" y="974.1"/><use href="#h" x="1562.1" y="974.1"/><use href="#h" x="1424.2" y="982.3"/><use href="#h" x="1436.2" y="982.3"/><use href="#h" x="1448.2" y="982.3"/><use href="#h" x="1532.1" y="982.3"/><use href="#h" x="1544.1" y="982.3"/><use href="#h" x="1556.1" y="982.3"/><use href="#h" x="1358.2" y="990.4"/><use href="#h" x="1370.2" y="990.4"/><use href="#h" x="1382.2" y="990.4"/><use href="#h" x="1418.2" y="990.4"/><use href="#h" x="1514.1" y="990.4"/><use href="#h" x="1526.1" y="990.4"/><use href="#h" x="1550.1" y="990.4"/><use href="#h" x="1562.1" y="990.4"/><use href="#h" x="1574.1" y="990.4"/><use href="#h" x="1340.3" y="998.6"/><use href="#h" x="1376.2" y="998.6"/><use href="#h" x="1412.2" y="998.6"/><use href="#h" x="1496.1" y="998.6"/><use href="#h" x="1520.1" y="998.6"/><use href="#h" x="1346.3" y="1006.8"/><use href="#h" x="1370.2" y="1006.8"/><use href="#h" x="1406.2" y="1006.8"/><use href="#h" x="1526.1" y="1006.8"/><use href="#h" x="1634.0" y="1006.8"/><use href="#h" x="1304.3" y="1015.0"/><use href="#h" x="1316.3" y="1015.0"/><use href="#h" x="1340.3" y="1015.0"/><use href="#h" x="1364.2" y="1015.0"/><use href="#h" x="1520.1" y="1015.0"/><use href="#h" x="1532.1" y="1015.0"/><use href="#h" x="1370.2" y="1023.1"/><use href="#h" x="1382.2" y="1023.1"/><use href="#h" x="1490.1" y="1023.1"/><use href="#h" x="1514.1" y="1023.1"/><use href="#h" x="1526.1" y="1023.1"/><use href="#h" x="1574.1" y="1023.1"/><use href="#h" x="1340.3" y="1031.3"/><use href="#h" x="1352.2" y="1031.3"/><use href="#h" x="1364.2" y="1031.3"/><use href="#h" x="1388.2" y="1031.3"/><use href="#h" x="1484.1" y="1031.3"/><use href="#h" x="1508.1" y="1031.3"/><use href="#h" x="1544.1" y="1031.3"/><use href="#h" x="1616.0" y="1031.3"/><use href="#h" x="1310.3" y="1039.5"/><use href="#h" x="1322.3" y="1039.5"/><use href="#h" x="1358.2" y="1039.5"/><use href="#h" x="1394.2" y="1039.5"/><use href="#h" x="1538.1" y="1039.5"/><use href="#h" x="1562.1" y="1039.5"/><use href="#h" x="1304.3" y="1047.7"/><use href="#h" x="1328.3" y="1047.7"/><use href="#h" x="1424.2" y="1047.7"/><use href="#h" x="1472.2" y="1047.7"/><use href="#h" x="1532.1" y="1047.7"/><use href="#h" x="1568.1" y="1047.7"/><use href="#h" x="1580.1" y="1047.7"/><use href="#h" x="1640.0" y="1047.7"/><use href="#h" x="1238.3" y="1055.8"/><use href="#h" x="1262.3" y="1055.8"/><use href="#h" x="1274.3" y="1055.8"/><use href="#h" x="1430.2" y="1055.8"/><use href="#h" x="1466.2" y="1055.8"/><use href="#h" x="1538.1" y="1055.8"/><use href="#h" x="1256.3" y="1064.0"/><use href="#h" x="1280.3" y="1064.0"/><use href="#h" x="1316.3" y="1064.0"/><use href="#h" x="1484.1" y="1064.0"/><use href="#h" x="1520.1" y="1064.0"/><use href="#h" x="1532.1" y="1064.0"/><use href="#h" x="1544.1" y="1064.0"/><use href="#h" x="1580.1" y="1064.0"/><use href="#h" x="1616.0" y="1064.0"/><use href="#h" x="1298.3" y="1072.2"/><use href="#h" x="1502.1" y="1072.2"/><use href="#h" x="1526.1" y="1072.2"/><use href="#h" x="1574.1" y="1072.2"/><use href="#h" x="1610.0" y="1072.2"/><use href="#h" x="1634.0" y="1072.2"/><use href="#h" x="1460.2" y="1080.3"/><use href="#h" x="1580.1" y="1080.3"/><use href="#h" x="1628.0" y="1080.3"/><use href="#h" x="1226.4" y="1088.5"/><use href="#h" x="1262.3" y="1088.5"/><use href="#h" x="1286.3" y="1088.5"/><use href="#h" x="1514.1" y="1088.5"/><use href="#h" x="1244.3" y="1096.7"/><use href="#h" x="1256.3" y="1096.7"/><use href="#h" x="1448.2" y="1096.7"/><use href="#h" x="1664.0" y="1096.7"/><use href="#h" x="1676.0" y="1096.7"/><use href="#h" x="1688.0" y="1096.7"/><use href="#h" x="1250.3" y="1104.9"/><use href="#h" x="1382.2" y="1104.9"/><use href="#h" x="1394.2" y="1104.9"/><use href="#h" x="1622.0" y="1104.9"/><use href="#h" x="1646.0" y="1104.9"/><use href="#h" x="1682.0" y="1104.9"/><use href="#h" x="1208.4" y="1113.0"/><use href="#h" x="1232.3" y="1113.0"/><use href="#h" x="1244.3" y="1113.0"/><use href="#h" x="1268.3" y="1113.0"/><use href="#h" x="1292.3" y="1113.0"/><use href="#h" x="1352.2" y="1113.0"/><use href="#h" x="1400.2" y="1113.0"/><use href="#h" x="1640.0" y="1113.0"/><use href="#h" x="1664.0" y="1113.0"/><use href="#h" x="1202.4" y="1121.2"/><use href="#h" x="1214.4" y="1121.2"/><use href="#h" x="1226.4" y="1121.2"/><use href="#h" x="1322.3" y="1121.2"/><use href="#h" x="1382.2" y="1121.2"/><use href="#h" x="1208.4" y="1129.4"/><use href="#h" x="1244.3" y="1129.4"/><use href="#h" x="1292.3" y="1129.4"/><use href="#h" x="1316.3" y="1129.4"/><use href="#h" x="1622.0" y="1137.6"/><use href="#h" x="1208.4" y="1145.7"/><use href="#h" x="1220.4" y="1145.7"/><use href="#h" x="1232.3" y="1145.7"/><use href="#h" x="1190.4" y="1153.9"/><use href="#h" x="1214.4" y="1153.9"/><use href="#h" x="1148.4" y="1162.1"/><use href="#h" x="1184.4" y="1162.1"/><use href="#h" x="1178.4" y="1170.3"/><use href="#h" x="1550.1" y="1170.3"/><use href="#h" x="1574.1" y="1170.3"/><use href="#h" x="1646.0" y="1170.3"/><use href="#h" x="1658.0" y="1170.3"/><use href="#h" x="1556.1" y="1178.4"/><use href="#h" x="1604.0" y="1178.4"/><use href="#h" x="1664.0" y="1178.4"/><use href="#h" x="1130.4" y="1186.6"/><use href="#h" x="1076.5" y="1194.8"/><use href="#h" x="1100.5" y="1194.8"/><use href="#h" x="1124.4" y="1194.8"/><use href="#h" x="1652.0" y="1194.8"/><use href="#h" x="1574.1" y="1202.9"/><use href="#h" x="1016.5" y="1211.1"/><use href="#h" x="1040.5" y="1211.1"/><use href="#h" x="1328.3" y="1211.1"/><use href="#h" x="998.5" y="1219.3"/><use href="#h" x="1010.5" y="1219.3"/><use href="#h" x="1226.4" y="1219.3"/><use href="#h" x="1250.3" y="1219.3"/><use href="#h" x="1016.5" y="1227.5"/><use href="#h" x="1040.5" y="1227.5"/><use href="#h" x="1064.5" y="1227.5"/><use href="#h" x="1136.4" y="1227.5"/></g><g fill="#291F39" stroke="#291F39"><use href="#h" x="1406.2" y="990.4"/><use href="#h" x="1442.2" y="990.4"/><use href="#h" x="1508.1" y="998.6"/><use href="#h" x="1322.3" y="1006.8"/><use href="#h" x="1382.2" y="1006.8"/><use href="#h" x="1478.1" y="1006.8"/><use href="#h" x="1388.2" y="1015.0"/><use href="#h" x="1436.2" y="1015.0"/><use href="#h" x="1472.2" y="1015.0"/><use href="#h" x="1556.1" y="1015.0"/><use href="#h" x="1310.3" y="1023.1"/><use href="#h" x="1322.3" y="1023.1"/><use href="#h" x="1334.3" y="1023.1"/><use href="#h" x="1358.2" y="1023.1"/><use href="#h" x="1418.2" y="1023.1"/><use href="#h" x="1550.1" y="1023.1"/><use href="#h" x="1562.1" y="1023.1"/><use href="#h" x="1472.2" y="1031.3"/><use href="#h" x="1520.1" y="1031.3"/><use href="#h" x="1532.1" y="1031.3"/><use href="#h" x="1592.0" y="1031.3"/><use href="#h" x="1334.3" y="1039.5"/><use href="#h" x="1454.2" y="1039.5"/><use href="#h" x="1514.1" y="1039.5"/><use href="#h" x="1622.0" y="1039.5"/><use href="#h" x="1340.3" y="1047.7"/><use href="#h" x="1352.2" y="1047.7"/><use href="#h" x="1298.3" y="1055.8"/><use href="#h" x="1322.3" y="1055.8"/><use href="#h" x="1442.2" y="1055.8"/><use href="#h" x="1514.1" y="1055.8"/><use href="#h" x="1550.1" y="1055.8"/><use href="#h" x="1634.0" y="1055.8"/><use href="#h" x="1496.1" y="1064.0"/><use href="#h" x="1628.0" y="1064.0"/><use href="#h" x="1262.3" y="1072.2"/><use href="#h" x="1286.3" y="1072.2"/><use href="#h" x="1466.2" y="1072.2"/><use href="#h" x="1514.1" y="1072.2"/><use href="#h" x="1280.3" y="1080.3"/><use href="#h" x="1424.2" y="1080.3"/><use href="#h" x="1484.1" y="1080.3"/><use href="#h" x="1496.1" y="1080.3"/><use href="#h" x="1508.1" y="1080.3"/><use href="#h" x="1592.0" y="1080.3"/><use href="#h" x="1478.1" y="1088.5"/><use href="#h" x="1562.1" y="1088.5"/><use href="#h" x="1622.0" y="1088.5"/><use href="#h" x="1436.2" y="1096.7"/><use href="#h" x="1640.0" y="1096.7"/><use href="#h" x="1370.2" y="1104.9"/><use href="#h" x="1634.0" y="1104.9"/><use href="#h" x="1220.4" y="1113.0"/><use href="#h" x="1328.3" y="1113.0"/><use href="#h" x="1616.0" y="1113.0"/><use href="#h" x="1652.0" y="1113.0"/><use href="#h" x="1262.3" y="1121.2"/><use href="#h" x="1268.3" y="1129.4"/><use href="#h" x="1340.3" y="1129.4"/><use href="#h" x="1364.2" y="1129.4"/><use href="#h" x="1628.0" y="1129.4"/><use href="#h" x="1250.3" y="1137.6"/><use href="#h" x="1274.3" y="1137.6"/><use href="#h" x="1628.0" y="1145.7"/><use href="#h" x="1622.0" y="1153.9"/><use href="#h" x="1580.1" y="1162.1"/><use href="#h" x="1616.0" y="1162.1"/><use href="#h" x="1166.4" y="1170.3"/><use href="#h" x="1598.0" y="1170.3"/><use href="#h" x="1148.4" y="1178.4"/><use href="#h" x="1496.1" y="1178.4"/><use href="#h" x="1568.1" y="1178.4"/><use href="#h" x="1658.0" y="1186.6"/><use href="#h" x="1034.5" y="1202.9"/><use href="#h" x="1082.5" y="1202.9"/><use href="#h" x="1526.1" y="1202.9"/><use href="#h" x="1028.5" y="1211.1"/><use href="#h" x="1052.5" y="1211.1"/><use href="#h" x="1340.3" y="1211.1"/><use href="#h" x="1028.5" y="1227.5"/><use href="#h" x="1106.5" y="1235.6"/></g><g fill="#392C57" stroke="#392C57"><use href="#h" x="1418.2" y="1006.8"/><use href="#h" x="1490.1" y="1006.8"/><use href="#h" x="1538.1" y="1006.8"/><use href="#h" x="1448.2" y="1015.0"/><use href="#h" x="1496.1" y="1015.0"/><use href="#h" x="1544.1" y="1015.0"/><use href="#h" x="1616.0" y="1015.0"/><use href="#h" x="1442.2" y="1023.1"/><use href="#h" x="1466.2" y="1023.1"/><use href="#h" x="1598.0" y="1023.1"/><use href="#h" x="1610.0" y="1023.1"/><use href="#h" x="1400.2" y="1031.3"/><use href="#h" x="1436.2" y="1031.3"/><use href="#h" x="1442.2" y="1039.5"/><use href="#h" x="1466.2" y="1039.5"/><use href="#h" x="1388.2" y="1047.7"/><use href="#h" x="1484.1" y="1047.7"/><use href="#h" x="1496.1" y="1047.7"/><use href="#h" x="1604.0" y="1047.7"/><use href="#h" x="1310.3" y="1055.8"/><use href="#h" x="1478.1" y="1055.8"/><use href="#h" x="1340.3" y="1064.0"/><use href="#h" x="1448.2" y="1064.0"/><use href="#h" x="1556.1" y="1064.0"/><use href="#h" x="1454.2" y="1072.2"/><use href="#h" x="1412.2" y="1080.3"/><use href="#h" x="1436.2" y="1080.3"/><use href="#h" x="1448.2" y="1080.3"/><use href="#h" x="1370.2" y="1088.5"/><use href="#h" x="1406.2" y="1088.5"/><use href="#h" x="1454.2" y="1088.5"/><use href="#h" x="1550.1" y="1088.5"/><use href="#h" x="1268.3" y="1096.7"/><use href="#h" x="1388.2" y="1096.7"/><use href="#h" x="1400.2" y="1096.7"/><use href="#h" x="1412.2" y="1096.7"/><use href="#h" x="1460.2" y="1096.7"/><use href="#h" x="1496.1" y="1096.7"/><use href="#h" x="1262.3" y="1104.9"/><use href="#h" x="1334.3" y="1104.9"/><use href="#h" x="1346.3" y="1104.9"/><use href="#h" x="1358.2" y="1104.9"/><use href="#h" x="1430.2" y="1104.9"/><use href="#h" x="1280.3" y="1113.0"/><use href="#h" x="1304.3" y="1113.0"/><use href="#h" x="1412.2" y="1113.0"/><use href="#h" x="1496.1" y="1113.0"/><use href="#h" x="1238.3" y="1121.2"/><use href="#h" x="1298.3" y="1121.2"/><use href="#h" x="1334.3" y="1121.2"/><use href="#h" x="1394.2" y="1121.2"/><use href="#h" x="1622.0" y="1121.2"/><use href="#h" x="1634.0" y="1121.2"/><use href="#h" x="1304.3" y="1129.4"/><use href="#h" x="1328.3" y="1129.4"/><use href="#h" x="1226.4" y="1137.6"/><use href="#h" x="1322.3" y="1137.6"/><use href="#h" x="1256.3" y="1145.7"/><use href="#h" x="1250.3" y="1153.9"/><use href="#h" x="1508.1" y="1178.4"/><use href="#h" x="1532.1" y="1178.4"/><use href="#h" x="1418.2" y="1186.6"/><use href="#h" x="1442.2" y="1186.6"/><use href="#h" x="1622.0" y="1186.6"/><use href="#h" x="1094.5" y="1202.9"/><use href="#h" x="1010.5" y="1235.6"/><use href="#h" x="1118.4" y="1235.6"/></g><g fill="#3B3A6A" stroke="#3B3A6A"><use href="#h" x="1466.2" y="1006.8"/><use href="#h" x="1550.1" y="1006.8"/><use href="#h" x="1460.2" y="1015.0"/><use href="#h" x="1484.1" y="1015.0"/><use href="#h" x="1412.2" y="1031.3"/><use href="#h" x="1604.0" y="1031.3"/><use href="#h" x="1376.2" y="1047.7"/><use href="#h" x="1508.1" y="1047.7"/><use href="#h" x="1520.1" y="1047.7"/><use href="#h" x="1346.3" y="1055.8"/><use href="#h" x="1454.2" y="1055.8"/><use href="#h" x="1328.3" y="1064.0"/><use href="#h" x="1472.2" y="1064.0"/><use href="#h" x="1310.3" y="1072.2"/><use href="#h" x="1478.1" y="1072.2"/><use href="#h" x="1604.0" y="1080.3"/><use href="#h" x="1382.2" y="1088.5"/><use href="#h" x="1502.1" y="1088.5"/><use href="#h" x="1574.1" y="1088.5"/><use href="#h" x="1280.3" y="1096.7"/><use href="#h" x="1472.2" y="1096.7"/><use href="#h" x="1628.0" y="1096.7"/><use href="#h" x="1316.3" y="1113.0"/><use href="#h" x="1346.3" y="1121.2"/><use href="#h" x="1358.2" y="1121.2"/><use href="#h" x="1658.0" y="1121.2"/><use href="#h" x="1256.3" y="1129.4"/><use href="#h" x="1652.0" y="1129.4"/><use href="#h" x="1238.3" y="1137.6"/><use href="#h" x="1346.3" y="1137.6"/><use href="#h" x="1238.3" y="1153.9"/><use href="#h" x="1208.4" y="1162.1"/><use href="#h" x="1220.4" y="1162.1"/><use href="#h" x="1592.0" y="1162.1"/><use href="#h" x="1538.1" y="1170.3"/><use href="#h" x="1478.1" y="1186.6"/><use href="#h" x="1538.1" y="1186.6"/><use href="#h" x="1598.0" y="1186.6"/><use href="#h" x="1616.0" y="1194.8"/><use href="#h" x="1640.0" y="1194.8"/></g><g fill="#3C4479" stroke="#3C4479"><use href="#h" x="1424.2" y="1031.3"/><use href="#h" x="1370.2" y="1039.5"/><use href="#h" x="1430.2" y="1039.5"/><use href="#h" x="1460.2" y="1047.7"/><use href="#h" x="1562.1" y="1055.8"/><use href="#h" x="1532.1" y="1080.3"/><use href="#h" x="1544.1" y="1080.3"/><use href="#h" x="1376.2" y="1129.4"/><use href="#h" x="1646.0" y="1137.6"/><use href="#h" x="1268.3" y="1145.7"/><use href="#h" x="1604.0" y="1162.1"/><use href="#h" x="1526.1" y="1170.3"/><use href="#h" x="1160.4" y="1178.4"/><use href="#h" x="1610.0" y="1186.6"/><use href="#h" x="1634.0" y="1186.6"/><use href="#h" x="1646.0" y="1186.6"/><use href="#h" x="1112.5" y="1194.8"/></g><g fill="#3B4D86" stroke="#3B4D86"><use href="#h" x="1202.4" y="1170.3"/></g><g fill="#3B5590" stroke="#3B5590"><use href="#h" x="1190.4" y="1170.3"/><use href="#h" x="1142.4" y="1186.6"/><use href="#h" x="1514.1" y="1186.6"/><use href="#h" x="1064.5" y="1211.1"/><use href="#h" x="1304.3" y="1211.1"/><use href="#h" x="1154.4" y="1219.3"/></g><g fill="#395C9A" stroke="#395C9A"><use href="#h" x="1598.0" y="1039.5"/><use href="#h" x="1526.1" y="1088.5"/><use href="#h" x="1364.2" y="1096.7"/><use href="#h" x="1484.1" y="1096.7"/><use href="#h" x="1478.1" y="1104.9"/><use href="#h" x="1502.1" y="1104.9"/><use href="#h" x="1658.0" y="1104.9"/><use href="#h" x="1424.2" y="1113.0"/><use href="#h" x="1280.3" y="1129.4"/><use href="#h" x="1232.3" y="1162.1"/><use href="#h" x="1484.1" y="1178.4"/><use href="#h" x="1526.1" y="1186.6"/><use href="#h" x="1550.1" y="1186.6"/><use href="#h" x="1574.1" y="1186.6"/><use href="#h" x="1586.1" y="1186.6"/><use href="#h" x="1604.0" y="1194.8"/><use href="#h" x="1628.0" y="1194.8"/></g><g fill="#3A629D" stroke="#3A629D"><use href="#h" x="1352.2" y="1145.7"/><use href="#h" x="1514.1" y="1170.3"/><use href="#h" x="1514.1" y="1202.9"/><use href="#h" x="1076.5" y="1211.1"/><use href="#h" x="1166.4" y="1219.3"/></g><g fill="#3A689F" stroke="#3A689F"><use href="#h" x="1328.3" y="1145.7"/><use href="#h" x="1274.3" y="1153.9"/><use href="#h" x="1280.3" y="1211.1"/><use href="#h" x="1292.3" y="1211.1"/><use href="#h" x="1316.3" y="1211.1"/><use href="#h" x="1142.4" y="1219.3"/></g><g fill="#3A6DA0" stroke="#3A6DA0"><use href="#h" x="1268.3" y="1162.1"/><use href="#h" x="1502.1" y="1202.9"/></g><g fill="#3B72A1" stroke="#3B72A1"><use href="#h" x="1256.3" y="1162.1"/></g><g fill="#3A7AA3" stroke="#3A7AA3"><use href="#h" x="1484.1" y="1113.0"/><use href="#h" x="1436.2" y="1178.4"/><use href="#h" x="1580.1" y="1194.8"/><use href="#h" x="1592.0" y="1194.8"/></g><g fill="#3981A4" stroke="#3981A4"><use href="#h" x="1334.3" y="1153.9"/></g><g fill="#3888A6" stroke="#3888A6"><use href="#h" x="1424.2" y="1178.4"/></g><g fill="#378EA7" stroke="#378EA7"><use href="#h" x="1214.4" y="1219.3"/></g><g fill="#3593A8" stroke="#3593A8"><use href="#h" x="1424.2" y="1194.8"/></g><g fill="#3595A9" stroke="#3595A9"><use href="#h" x="1268.3" y="1211.1"/><use href="#h" x="1046.5" y="1219.3"/></g><g fill="#3598A9" stroke="#3598A9"><use href="#h" x="1346.3" y="1153.9"/></g><g fill="#379AA9" stroke="#379AA9"><use href="#h" x="1436.2" y="1194.8"/><use href="#h" x="1544.1" y="1194.8"/><use href="#h" x="1556.1" y="1194.8"/><use href="#h" x="1568.1" y="1194.8"/></g><g fill="#399CA9" stroke="#399CA9"><use href="#h" x="1484.1" y="1194.8"/></g><g fill="#3B9EAA" stroke="#3B9EAA"><use href="#h" x="1082.5" y="1219.3"/><use href="#h" x="1202.4" y="1219.3"/></g><g fill="#3DA0AA" stroke="#3DA0AA"><use href="#h" x="1490.1" y="1202.9"/></g><g fill="#3FA1AA" stroke="#3FA1AA"><use href="#h" x="1190.4" y="1219.3"/></g><g fill="#42A5AA" stroke="#42A5AA"><use href="#h" x="1070.5" y="1219.3"/></g><g fill="#43A6AA" stroke="#43A6AA"><use href="#h" x="1508.1" y="1194.8"/><use href="#h" x="1532.1" y="1194.8"/><use href="#h" x="1244.3" y="1211.1"/><use href="#h" x="1256.3" y="1211.1"/><use href="#h" x="1058.5" y="1219.3"/><use href="#h" x="1178.4" y="1219.3"/></g><g fill="#45A8AA" stroke="#45A8AA"><use href="#h" x="1496.1" y="1194.8"/></g><g fill="#46AAAA" stroke="#46AAAA"><use href="#h" x="1106.5" y="1219.3"/><use href="#h" x="1130.4" y="1219.3"/></g><g fill="#47ABAA" stroke="#47ABAA"><use href="#h" x="1478.1" y="1202.9"/></g><g fill="#48ADAB" stroke="#48ADAB"><use href="#h" x="1454.2" y="1202.9"/></g><g fill="#4BAFAB" stroke="#4BAFAB"><use href="#h" x="1466.2" y="1202.9"/><use href="#h" x="1094.5" y="1219.3"/></g><g fill="#4CB1AB" stroke="#4CB1AB"><use href="#h" x="1118.4" y="1219.3"/></g><g fill="#4FB5AB" stroke="#4FB5AB"><use href="#h" x="1430.2" y="1202.9"/></g><g fill="#51B7AB" stroke="#51B7AB"><use href="#h" x="1406.2" y="1202.9"/></g><g fill="#51B8AB" stroke="#51B8AB"><use href="#h" x="1418.2" y="1202.9"/></g><g fill="#54BCAB" stroke="#54BCAB"><use href="#h" x="1442.2" y="1202.9"/></g><g fill="#57C0AB" stroke="#57C0AB"><use href="#h" x="1232.3" y="1211.1"/></g><g fill="#5CC7AC" stroke="#5CC7AC"><use href="#h" x="1394.2" y="1202.9"/></g><g fill="#5ECAAC" stroke="#5ECAAC"><use href="#h" x="1382.2" y="1202.9"/></g><g fill="#5FCDAC" stroke="#5FCDAC"><use href="#h" x="1370.2" y="1202.9"/></g><g fill="#85D8BA" stroke="#85D8BA"><use href="#h" x="1358.2" y="1202.9"/></g><g fill="#8CDABD" stroke="#8CDABD"><use href="#h" x="1346.3" y="1202.9"/></g></g><line x1="1000.2" y1="1225.6" x2="1681.7" y2="1122.0" stroke="#E5303F" stroke-width="2.6"/></g>
</g>
<text x="109" y="136.4" font-size="25.6" fill="#4D4D4D" text-anchor="end">1000</text>
<text x="109" y="333.4" font-size="25.6" fill="#4D4D4D" text-anchor="end">500</text>
<text x="109" y="530.4" font-size="25.6" fill="#4D4D4D" text-anchor="end">0</text>
<text x="109" y="727.4" font-size="25.6" fill="#4D4D4D" text-anchor="end">-500</text>
<text x="109" y="831.4" font-size="25.6" fill="#4D4D4D" text-anchor="end">1000</text>
<text x="109" y="1028.4" font-size="25.6" fill="#4D4D4D" text-anchor="end">500</text>
<text x="109" y="1225.4" font-size="25.6" fill="#4D4D4D" text-anchor="end">0</text>
<text x="109" y="1423.4" font-size="25.6" fill="#4D4D4D" text-anchor="end">-500</text>
<text x="238.5" y="1478" font-size="25.6" fill="#4D4D4D" text-anchor="middle">0</text>
<text x="415.5" y="1478" font-size="25.6" fill="#4D4D4D" text-anchor="middle">20000</text>
<text x="592.5" y="1478" font-size="25.6" fill="#4D4D4D" text-anchor="middle">40000</text>
<text x="769.5" y="1478" font-size="25.6" fill="#4D4D4D" text-anchor="middle">60000</text>
<text x="1052.5" y="1478" font-size="25.6" fill="#4D4D4D" text-anchor="middle">0</text>
<text x="1229.5" y="1478" font-size="25.6" fill="#4D4D4D" text-anchor="middle">20000</text>
<text x="1406.5" y="1478" font-size="25.6" fill="#4D4D4D" text-anchor="middle">40000</text>
<text x="1583.5" y="1478" font-size="25.6" fill="#4D4D4D" text-anchor="middle">60000</text>
<text x="930" y="1514.5" font-size="32" fill="#000000" text-anchor="middle">Residual Load (MW)</text>
<text transform="translate(40.5,781) rotate(-90)" font-size="32" fill="#000000" text-anchor="middle">EUR/MWh</text>
<text x="1784" y="669" font-size="32" fill="#000000">Count</text>
<defs><linearGradient id="lg" x1="0" y1="1" x2="0" y2="0">
<stop offset="0.0000" stop-color="#0B0405"/>
<stop offset="0.0250" stop-color="#130B13"/>
<stop offset="0.0500" stop-color="#19111C"/>
<stop offset="0.0750" stop-color="#1E1624"/>
<stop offset="0.1000" stop-color="#231A2D"/>
<stop offset="0.1250" stop-color="#281E37"/>
<stop offset="0.1500" stop-color="#2D2240"/>
<stop offset="0.1750" stop-color="#33264A"/>
<stop offset="0.2000" stop-color="#382A54"/>
<stop offset="0.2250" stop-color="#39305D"/>
<stop offset="0.2500" stop-color="#3A3665"/>
<stop offset="0.2750" stop-color="#3B3D6E"/>
<stop offset="0.3000" stop-color="#3C4377"/>
<stop offset="0.3250" stop-color="#3C4980"/>
<stop offset="0.3500" stop-color="#3B5089"/>
<stop offset="0.3750" stop-color="#3A5693"/>
<stop offset="0.4000" stop-color="#395D9C"/>
<stop offset="0.4250" stop-color="#3A649E"/>
<stop offset="0.4500" stop-color="#3A6B9F"/>
<stop offset="0.4750" stop-color="#3B73A1"/>
<stop offset="0.5000" stop-color="#3A7AA3"/>
<stop offset="0.5250" stop-color="#3981A4"/>
<stop offset="0.5500" stop-color="#3888A6"/>
<stop offset="0.5750" stop-color="#3690A7"/>
<stop offset="0.6000" stop-color="#3497A9"/>
<stop offset="0.6250" stop-color="#3B9EAA"/>
<stop offset="0.6500" stop-color="#41A4AA"/>
<stop offset="0.6750" stop-color="#47ABAA"/>
<stop offset="0.7000" stop-color="#4DB2AB"/>
<stop offset="0.7250" stop-color="#52B9AB"/>
<stop offset="0.7500" stop-color="#57C0AC"/>
<stop offset="0.7750" stop-color="#5CC7AC"/>
<stop offset="0.8000" stop-color="#60CEAC"/>
<stop offset="0.8250" stop-color="#73D3B3"/>
<stop offset="0.8500" stop-color="#84D8BA"/>
<stop offset="0.8750" stop-color="#94DDC1"/>
<stop offset="0.9000" stop-color="#A3E2C8"/>
<stop offset="0.9250" stop-color="#B2E7CF"/>
<stop offset="0.9500" stop-color="#C1ECD6"/>
<stop offset="0.9750" stop-color="#D0F0DE"/>
<stop offset="1.0000" stop-color="#DEF5E5"/>
</linearGradient></defs>
<rect x="1784" y="689" width="46" height="229" fill="url(#lg)"/>
<rect x="1784" y="717.80" width="9.1" height="1.4" fill="#FFFFFF"/>
<rect x="1820.9" y="717.80" width="9.1" height="1.4" fill="#FFFFFF"/>
<text x="1846" y="727.8" font-size="25.6" fill="#000000">100</text>
<rect x="1784" y="818.10" width="9.1" height="1.4" fill="#FFFFFF"/>
<rect x="1820.9" y="818.10" width="9.1" height="1.4" fill="#FFFFFF"/>
<text x="1846" y="828.1" font-size="25.6" fill="#000000">10</text>
<text x="1846" y="928.4" font-size="25.6" fill="#000000">1</text>
</svg></body></html>
